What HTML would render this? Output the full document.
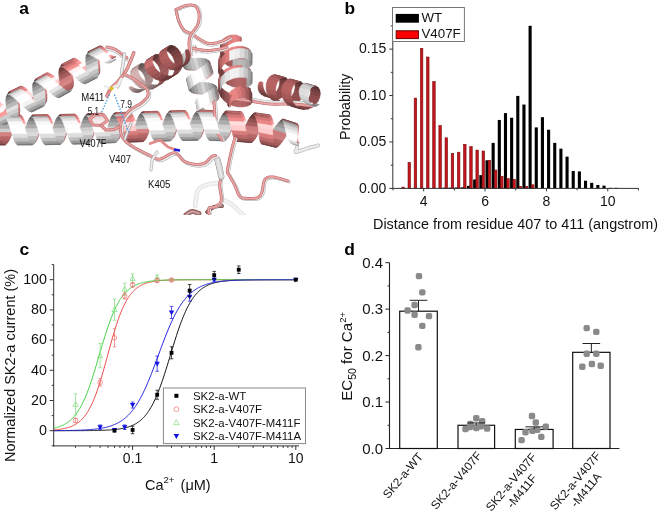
<!DOCTYPE html><html><head><meta charset="utf-8"><style>html,body{margin:0;padding:0;background:#fff;overflow:hidden}.pa polygon{stroke-width:.6px;stroke-linejoin:round}</style></head><body><svg width="660" height="514" viewBox="0 0 660 514" style="font-family:'Liberation Sans',Arial,sans-serif;display:block">
<rect width="660" height="514" fill="#fff"/>
<defs><clipPath id="ca"><rect x="0" y="0" width="330" height="215"/></clipPath></defs>
<g clip-path="url(#ca)" class="pa">
<polygon points="198.2,70.3 202.4,70.3 198.9,59.3 194.7,59.3" fill="#d8b8b8" stroke="#d8b8b8"/>
<polygon points="204.4,94.5 208.6,94.8 206.1,83.6 201.9,83.2" fill="#d9b9b9" stroke="#d9b9b9"/>
<polygon points="200.3,94.1 204.4,94.5 201.9,83.2 197.7,82.9" fill="#c6a7a7" stroke="#c6a7a7"/>
<polygon points="194.0,70.3 198.2,70.3 194.7,59.3 190.5,59.4" fill="#c7a8a8" stroke="#c7a8a8"/>
<polygon points="202.4,70.3 206.3,70.4 202.8,59.4 198.9,59.3" fill="#bd9e9e" stroke="#bd9e9e"/>
<polygon points="208.6,94.8 212.5,95.2 210.0,84.0 206.1,83.6" fill="#bfa0a0" stroke="#bfa0a0"/>
<polygon points="196.6,93.7 200.3,94.1 197.7,82.9 193.9,82.5" fill="#ac8f8f" stroke="#ac8f8f"/>
<polygon points="190.2,70.2 194.0,70.3 190.5,59.4 186.7,59.3" fill="#ad9090" stroke="#ad9090"/>
<polygon points="206.3,70.4 209.5,70.7 206.1,59.7 202.8,59.4" fill="#ab8e8e" stroke="#ab8e8e"/>
<polygon points="212.5,95.2 215.7,95.8 213.2,84.6 210.0,84.0" fill="#ad9090" stroke="#ad9090"/>
<polygon points="193.6,93.2 196.6,93.7 193.9,82.5 190.9,82.0" fill="#967d7d" stroke="#967d7d"/>
<polygon points="187.2,69.9 190.2,70.2 186.7,59.3 183.7,58.9" fill="#987e7e" stroke="#987e7e"/>
<polygon points="209.5,70.7 211.8,71.3 208.4,60.3 206.1,59.7" fill="#957c7c" stroke="#957c7c"/>
<polygon points="215.7,95.8 217.8,96.7 215.4,85.4 213.2,84.6" fill="#977e7e" stroke="#977e7e"/>
<polygon points="191.7,92.4 193.6,93.2 190.9,82.0 189.0,81.2" fill="#7b6666" stroke="#7b6666"/>
<polygon points="185.3,69.2 187.2,69.9 183.7,58.9 181.7,58.3" fill="#7d6868" stroke="#7d6868"/>
<polygon points="205.5,113.6 207.3,114.0 206.6,110.6 204.5,109.3" fill="#ac8f8f" stroke="#ac8f8f"/>
<polygon points="203.5,113.3 205.5,113.6 204.5,109.3 202.4,107.9" fill="#967d7d" stroke="#967d7d"/>
<polygon points="201.7,112.9 203.5,113.3 202.4,107.9 200.4,106.5" fill="#7a6666" stroke="#7a6666"/>
<polygon points="211.8,71.3 212.9,72.3 209.5,61.3 208.4,60.3" fill="#7a6565" stroke="#7a6565"/>
<polygon points="217.8,96.7 218.9,97.8 216.5,86.5 215.4,85.4" fill="#7c6767" stroke="#7c6767"/>
<polygon points="191.0,91.4 191.7,92.4 189.0,81.2 188.2,80.2" fill="#5d4e4e" stroke="#5d4e4e"/>
<polygon points="185.2,67.9 185.3,69.2 181.7,58.3 181.7,57.0" fill="#5f4f4f" stroke="#5f4f4f"/>
<polygon points="200.5,112.3 201.7,112.9 200.4,106.5 199.0,105.0" fill="#5d4e4e" stroke="#5d4e4e"/>
<polygon points="227.3,64.0 232.1,65.9 232.1,56.4 227.3,54.5" fill="#a85e5e" stroke="#a85e5e"/>
<polygon points="232.1,65.9 237.1,66.8 237.1,57.4 232.1,56.4" fill="#b36565" stroke="#b36565"/>
<polygon points="223.2,61.2 227.3,64.0 227.3,54.5 223.2,51.8" fill="#965454" stroke="#965454"/>
<polygon points="237.1,66.8 241.9,66.8 241.9,57.3 237.1,57.4" fill="#b46565" stroke="#b46565"/>
<polygon points="212.9,72.3 212.8,73.7 209.5,62.7 209.5,61.3" fill="#796565" stroke="#796565"/>
<polygon points="218.9,97.8 218.6,99.1 216.3,87.9 216.5,86.5" fill="#786464" stroke="#786464"/>
<polygon points="200.0,111.7 200.5,112.3 199.0,105.0 198.3,103.4" fill="#a08585" stroke="#a08585"/>
<polygon points="196.2,48.3 196.8,49.9 195.5,45.7 195.2,45.0" fill="#a08585" stroke="#a08585"/>
<polygon points="186.3,66.3 185.2,67.9 181.7,57.0 182.7,55.3" fill="#9c8282" stroke="#9c8282"/>
<polygon points="191.5,90.0 191.0,91.4 188.2,80.2 188.6,78.9" fill="#9e8484" stroke="#9e8484"/>
<polygon points="221.1,57.5 223.2,61.2 223.2,51.8 221.1,48.0" fill="#7e4747" stroke="#7e4747"/>
<polygon points="241.9,66.8 245.9,65.9 245.9,56.4 241.9,57.3" fill="#ab6060" stroke="#ab6060"/>
<polygon points="196.8,49.9 196.8,51.8 195.1,46.6 195.5,45.7" fill="#c2a2a2" stroke="#c2a2a2"/>
<polygon points="200.5,110.8 200.0,111.7 198.3,103.4 198.6,101.5" fill="#c2a2a2" stroke="#c2a2a2"/>
<polygon points="188.1,63.9 186.3,66.3 182.7,55.3 184.8,53.9" fill="#bf9f9f" stroke="#bf9f9f"/>
<polygon points="212.8,73.7 211.5,75.4 208.2,64.4 209.5,62.7" fill="#a08585" stroke="#a08585"/>
<polygon points="218.6,99.1 217.2,100.7 214.9,89.5 216.3,87.9" fill="#9d8383" stroke="#9d8383"/>
<polygon points="196.8,51.8 196.0,53.9 194.0,47.7 195.1,46.6" fill="#dfbaba" stroke="#dfbaba"/>
<polygon points="220.7,53.6 221.1,57.5 221.1,48.0 220.7,44.2" fill="#623737" stroke="#623737"/>
<polygon points="193.1,88.4 191.5,90.0 188.6,78.9 190.2,77.3" fill="#c1a1a1" stroke="#c1a1a1"/>
<polygon points="238.5,39.0 237.6,39.2 237.6,35.5 238.5,36.2" fill="#bf6b6b" stroke="#bf6b6b"/>
<polygon points="190.2,61.3 188.1,63.9 184.8,53.9 187.3,52.3" fill="#dbb7b7" stroke="#dbb7b7"/>
<polygon points="196.0,53.9 194.5,56.2 192.2,49.1 194.0,47.7" fill="#fff1f1" stroke="#fff1f1"/>
<polygon points="202.0,109.7 200.5,110.8 198.6,101.5 200.0,99.4" fill="#deb9b9" stroke="#deb9b9"/>
<polygon points="245.9,65.9 248.8,64.3 248.8,54.8 245.9,56.4" fill="#9b5757" stroke="#9b5757"/>
<polygon points="194.5,56.2 192.5,58.7 189.9,50.7 192.2,49.1" fill="#ffffff" stroke="#ffffff"/>
<polygon points="192.5,58.7 190.2,61.3 187.3,52.3 189.9,50.7" fill="#fbd4d4" stroke="#fbd4d4"/>
<polygon points="221.7,49.7 220.7,53.6 220.7,44.2 221.7,41.0" fill="#894d4d" stroke="#894d4d"/>
<polygon points="211.5,75.4 209.2,77.4 206.0,66.4 208.2,64.4" fill="#c2a2a2" stroke="#c2a2a2"/>
<polygon points="217.2,100.7 214.7,102.5 212.4,91.3 214.9,89.5" fill="#c0a0a0" stroke="#c0a0a0"/>
<polygon points="237.6,39.2 235.8,39.5 235.8,35.0 237.6,35.5" fill="#d77979" stroke="#d77979"/>
<polygon points="195.8,86.5 193.1,88.4 190.2,77.3 192.7,75.4" fill="#dcb8b8" stroke="#dcb8b8"/>
<polygon points="204.6,108.5 202.0,109.7 200.0,99.4 202.3,97.2" fill="#ffd7d7" stroke="#ffd7d7"/>
<polygon points="224.0,46.2 221.7,49.7 221.7,41.0 224.0,38.4" fill="#ac6060" stroke="#ac6060"/>
<polygon points="209.2,77.4 206.1,79.7 202.9,68.6 206.0,66.4" fill="#dfbaba" stroke="#dfbaba"/>
<polygon points="214.7,102.5 211.5,104.5 209.2,93.2 212.4,91.3" fill="#ddb8b8" stroke="#ddb8b8"/>
<polygon points="235.8,39.5 233.2,40.2 233.2,34.9 235.8,35.0" fill="#e78383" stroke="#e78383"/>
<polygon points="207.8,106.5 204.6,108.5 202.3,97.2 205.5,95.3" fill="#ffffff" stroke="#ffffff"/>
<polygon points="248.8,64.3 250.3,62.3 250.3,52.8 248.8,54.8" fill="#854a4a" stroke="#854a4a"/>
<polygon points="199.0,84.3 195.8,86.5 192.7,75.4 196.0,73.2" fill="#fdd5d5" stroke="#fdd5d5"/>
<polygon points="211.5,104.5 207.8,106.5 205.5,95.3 209.2,93.2" fill="#ffeeee" stroke="#ffeeee"/>
<polygon points="226.9,43.5 224.0,46.2 224.0,38.4 226.9,36.5" fill="#c87070" stroke="#c87070"/>
<polygon points="233.2,40.2 230.1,41.5 230.1,35.3 233.2,34.9" fill="#e88383" stroke="#e88383"/>
<polygon points="206.1,79.7 202.6,82.0 199.5,70.9 202.9,68.6" fill="#fff0f0" stroke="#fff0f0"/>
<polygon points="202.6,82.0 199.0,84.3 196.0,73.2 199.5,70.9" fill="#ffffff" stroke="#ffffff"/>
<polygon points="230.1,41.5 226.9,43.5 226.9,36.5 230.1,35.3" fill="#dd7c7c" stroke="#dd7c7c"/>
<polygon points="227.7,83.1 232.6,84.9 232.6,75.4 227.7,73.6" fill="#aa5f5f" stroke="#aa5f5f"/>
<polygon points="232.6,84.9 237.6,85.7 237.6,76.2 232.6,75.4" fill="#b46565" stroke="#b46565"/>
<polygon points="223.6,80.4 227.7,83.1 227.7,73.6 223.6,70.9" fill="#985555" stroke="#985555"/>
<polygon points="237.6,85.7 242.3,85.6 242.3,76.1 237.6,76.2" fill="#b46565" stroke="#b46565"/>
<polygon points="250.3,62.3 250.3,60.1 250.3,50.7 250.3,52.8" fill="#724040" stroke="#724040"/>
<polygon points="46.4,90.1 45.9,85.7 34.8,91.5 35.3,95.9" fill="#ce7f7f" stroke="#ce7f7f"/>
<polygon points="19.5,104.3 19.2,99.9 7.8,105.2 8.2,109.6" fill="#d68686" stroke="#d68686"/>
<polygon points="72.6,74.7 72.0,70.4 60.9,76.3 61.6,80.6" fill="#c57676" stroke="#c57676"/>
<polygon points="220.5,77.0 223.6,80.4 223.6,70.9 220.5,67.5" fill="#814848" stroke="#814848"/>
<polygon points="99.3,60.5 98.8,56.2 87.6,61.7 88.1,66.1" fill="#bc6f6f" stroke="#bc6f6f"/>
<polygon points="99.7,64.8 99.3,60.5 88.1,66.1 88.5,70.3" fill="#df8d8d" stroke="#df8d8d"/>
<polygon points="73.1,78.9 72.6,74.7 61.6,80.6 62.1,84.9" fill="#dd8b8b" stroke="#dd8b8b"/>
<polygon points="19.2,99.9 18.8,95.7 7.5,101.0 7.8,105.2" fill="#ac6262" stroke="#ac6262"/>
<polygon points="46.9,94.3 46.4,90.1 35.3,95.9 35.7,100.0" fill="#d88686" stroke="#d88686"/>
<polygon points="45.9,85.7 45.4,81.6 34.3,87.4 34.8,91.5" fill="#a75e5e" stroke="#a75e5e"/>
<polygon points="19.8,108.4 19.5,104.3 8.2,109.6 8.5,113.7" fill="#d17f7f" stroke="#d17f7f"/>
<polygon points="72.0,70.4 71.6,66.4 60.5,72.2 60.9,76.3" fill="#a25b5b" stroke="#a25b5b"/>
<polygon points="98.8,56.2 98.5,52.2 87.3,57.7 87.6,61.7" fill="#9e5858" stroke="#9e5858"/>
<polygon points="242.3,85.6 246.3,84.6 246.3,75.1 242.3,76.1" fill="#aa5f5f" stroke="#aa5f5f"/>
<polygon points="100.0,68.7 99.7,64.8 88.5,70.3 88.8,74.2" fill="#c27171" stroke="#c27171"/>
<polygon points="73.5,82.6 73.1,78.9 62.1,84.9 62.5,88.6" fill="#bd6c6c" stroke="#bd6c6c"/>
<polygon points="18.8,95.7 18.7,91.9 7.4,97.3 7.5,101.0" fill="#935353" stroke="#935353"/>
<polygon points="47.0,98.0 46.9,94.3 35.7,100.0 35.9,103.7" fill="#b96969" stroke="#b96969"/>
<polygon points="45.4,81.6 45.1,78.0 34.1,83.8 34.3,87.4" fill="#8e5050" stroke="#8e5050"/>
<polygon points="218.8,73.1 220.5,77.0 220.5,67.5 218.8,63.7" fill="#653939" stroke="#653939"/>
<polygon points="19.8,111.9 19.8,108.4 8.5,113.7 8.4,117.2" fill="#b56666" stroke="#b56666"/>
<polygon points="71.6,66.4 71.5,62.9 60.4,68.6 60.5,72.2" fill="#894d4d" stroke="#894d4d"/>
<polygon points="98.5,52.2 98.6,48.8 87.4,54.4 87.3,57.7" fill="#844a4a" stroke="#844a4a"/>
<polygon points="250.3,60.1 248.6,58.1 248.6,48.7 250.3,50.7" fill="#804848" stroke="#804848"/>
<polygon points="13.1,129.7 14.5,125.3 -0.0,125.3 -1.4,129.7" fill="#c07373" stroke="#c07373"/>
<polygon points="40.6,129.5 42.0,125.1 27.5,125.3 26.1,129.6" fill="#c07373" stroke="#c07373"/>
<polygon points="68.1,129.0 69.4,124.7 54.9,125.0 53.6,129.4" fill="#c07272" stroke="#c07272"/>
<polygon points="95.6,128.2 96.9,123.7 82.4,124.3 81.1,128.7" fill="#c07272" stroke="#c07272"/>
<polygon points="123.1,127.1 124.3,122.7 109.8,123.3 108.6,127.7" fill="#c07272" stroke="#c07272"/>
<polygon points="150.6,126.2 151.8,121.8 137.3,122.2 136.1,126.6" fill="#c07272" stroke="#c07272"/>
<polygon points="178.1,125.4 179.3,121.0 164.8,121.4 163.6,125.8" fill="#c07272" stroke="#c07272"/>
<polygon points="205.6,125.1 206.9,120.7 192.4,120.7 191.1,125.1" fill="#c07373" stroke="#c07373"/>
<polygon points="233.0,125.9 234.6,121.7 220.1,121.1 218.5,125.4" fill="#c17373" stroke="#c17373"/>
<polygon points="260.4,128.3 262.2,124.1 247.8,122.5 246.0,126.7" fill="#c17373" stroke="#c17373"/>
<polygon points="286.9,134.9 289.5,131.1 275.6,126.9 273.0,130.7" fill="#c37474" stroke="#c37474"/>
<polygon points="99.8,71.8 100.0,68.7 88.8,74.2 88.7,77.4" fill="#af6262" stroke="#af6262"/>
<polygon points="284.4,138.5 286.9,134.9 273.0,130.7 270.5,134.5" fill="#d28282" stroke="#d28282"/>
<polygon points="258.6,132.4 260.4,128.3 246.0,126.7 244.2,130.9" fill="#d68686" stroke="#d68686"/>
<polygon points="231.5,130.2 233.0,125.9 218.5,125.4 217.0,129.6" fill="#d88787" stroke="#d88787"/>
<polygon points="204.2,129.3 205.6,125.1 191.1,125.1 189.7,129.4" fill="#d98888" stroke="#d98888"/>
<polygon points="176.8,129.7 178.1,125.4 163.6,125.8 162.3,130.2" fill="#d98888" stroke="#d98888"/>
<polygon points="149.4,130.5 150.6,126.2 136.1,126.6 134.9,131.0" fill="#d98888" stroke="#d98888"/>
<polygon points="121.9,131.5 123.1,127.1 108.6,127.7 107.4,132.0" fill="#d98888" stroke="#d98888"/>
<polygon points="94.4,132.5 95.6,128.2 81.1,128.7 79.9,133.0" fill="#d98888" stroke="#d98888"/>
<polygon points="66.8,133.4 68.1,129.0 53.6,129.4 52.3,133.7" fill="#d98888" stroke="#d98888"/>
<polygon points="39.3,133.8 40.6,129.5 26.1,129.6 24.8,133.9" fill="#d98888" stroke="#d98888"/>
<polygon points="11.8,133.9 13.1,129.7 -1.4,129.7 -2.7,134.0" fill="#d98888" stroke="#d98888"/>
<polygon points="73.4,85.6 73.5,82.6 62.5,88.6 62.5,91.7" fill="#ac6161" stroke="#ac6161"/>
<polygon points="18.7,91.9 19.0,89.0 7.7,94.3 7.4,97.3" fill="#784343" stroke="#784343"/>
<polygon points="14.5,125.3 15.9,121.3 1.4,121.3 -0.0,125.3" fill="#a25b5b" stroke="#a25b5b"/>
<polygon points="42.0,125.1 43.3,121.1 28.8,121.2 27.5,125.3" fill="#a25b5b" stroke="#a25b5b"/>
<polygon points="69.4,124.7 70.7,120.6 56.2,121.0 54.9,125.0" fill="#a15b5b" stroke="#a15b5b"/>
<polygon points="96.9,123.7 98.1,119.7 83.6,120.2 82.4,124.3" fill="#a15b5b" stroke="#a15b5b"/>
<polygon points="124.3,122.7 125.6,118.7 111.1,119.2 109.8,123.3" fill="#a15b5b" stroke="#a15b5b"/>
<polygon points="151.8,121.8 153.1,117.8 138.6,118.2 137.3,122.2" fill="#a15b5b" stroke="#a15b5b"/>
<polygon points="179.3,121.0 180.6,117.0 166.1,117.4 164.8,121.4" fill="#a15b5b" stroke="#a15b5b"/>
<polygon points="206.9,120.7 208.3,116.8 193.8,116.7 192.4,120.7" fill="#a25b5b" stroke="#a25b5b"/>
<polygon points="234.6,121.7 236.1,117.7 221.6,117.1 220.1,121.1" fill="#a25b5b" stroke="#a25b5b"/>
<polygon points="262.2,124.1 264.1,120.4 249.7,118.7 247.8,122.5" fill="#a35b5b" stroke="#a35b5b"/>
<polygon points="289.5,131.1 292.0,127.8 278.1,123.5 275.6,126.9" fill="#a55c5c" stroke="#a55c5c"/>
<polygon points="246.3,84.6 249.0,83.0 249.0,73.5 246.3,75.1" fill="#995656" stroke="#995656"/>
<polygon points="46.7,100.9 47.0,98.0 35.9,103.7 35.5,106.5" fill="#a95f5f" stroke="#a95f5f"/>
<polygon points="45.1,78.0 45.3,75.1 34.3,81.1 34.1,83.8" fill="#724040" stroke="#724040"/>
<polygon points="-10.3,114.8 -9.5,111.7 -16.9,115.1 -16.7,117.8" fill="#b26767" stroke="#b26767"/>
<polygon points="-9.5,111.7 -8.8,108.3 -17.2,112.2 -16.9,115.1" fill="#985555" stroke="#985555"/>
<polygon points="282.1,141.8 284.4,138.5 270.5,134.5 268.2,137.9" fill="#b76868" stroke="#b76868"/>
<polygon points="256.9,136.0 258.6,132.4 244.2,130.9 242.4,134.6" fill="#ba6a6a" stroke="#ba6a6a"/>
<polygon points="230.0,133.9 231.5,130.2 217.0,129.6 215.5,133.4" fill="#bb6b6b" stroke="#bb6b6b"/>
<polygon points="202.9,133.1 204.2,129.3 189.7,129.4 188.4,133.2" fill="#bc6c6c" stroke="#bc6c6c"/>
<polygon points="175.6,133.6 176.8,129.7 162.3,130.2 161.1,134.0" fill="#bc6c6c" stroke="#bc6c6c"/>
<polygon points="148.1,134.3 149.4,130.5 134.9,131.0 133.6,134.8" fill="#bc6c6c" stroke="#bc6c6c"/>
<polygon points="120.7,135.3 121.9,131.5 107.4,132.0 106.2,135.8" fill="#bc6c6c" stroke="#bc6c6c"/>
<polygon points="93.2,136.3 94.4,132.5 79.9,133.0 78.7,136.8" fill="#bc6c6c" stroke="#bc6c6c"/>
<polygon points="65.5,137.2 66.8,133.4 52.3,133.7 51.0,137.5" fill="#bc6c6c" stroke="#bc6c6c"/>
<polygon points="37.9,137.6 39.3,133.8 24.8,133.9 23.4,137.7" fill="#bc6b6b" stroke="#bc6b6b"/>
<polygon points="10.4,137.7 11.8,133.9 -2.7,134.0 -4.1,137.8" fill="#bb6b6b" stroke="#bb6b6b"/>
<polygon points="218.6,69.1 218.8,73.1 218.8,63.7 218.6,59.6" fill="#583131" stroke="#583131"/>
<polygon points="19.3,114.5 19.8,111.9 8.4,117.2 8.0,119.8" fill="#a55d5d" stroke="#a55d5d"/>
<polygon points="71.5,62.9 71.9,60.3 60.8,66.0 60.4,68.6" fill="#6d3d3d" stroke="#6d3d3d"/>
<polygon points="-11.3,117.5 -10.3,114.8 -16.7,117.8 -16.7,120.0" fill="#dc8b8b" stroke="#dc8b8b"/>
<polygon points="-8.8,108.3 -8.0,105.1 -17.4,109.5 -17.2,112.2" fill="#7e4646" stroke="#7e4646"/>
<polygon points="98.6,48.8 99.1,46.4 87.9,52.0 87.4,54.4" fill="#673a3a" stroke="#673a3a"/>
<polygon points="99.3,74.0 99.8,71.8 88.7,77.4 88.1,79.6" fill="#9d5858" stroke="#9d5858"/>
<polygon points="15.9,121.3 17.2,118.0 2.7,118.1 1.4,121.3" fill="#8a4d4d" stroke="#8a4d4d"/>
<polygon points="43.3,121.1 44.7,117.9 30.2,118.0 28.8,121.2" fill="#8a4d4d" stroke="#8a4d4d"/>
<polygon points="70.7,120.6 72.0,117.3 57.5,117.7 56.2,121.0" fill="#8a4d4d" stroke="#8a4d4d"/>
<polygon points="98.1,119.7 99.3,116.4 84.9,116.9 83.6,120.2" fill="#8a4d4d" stroke="#8a4d4d"/>
<polygon points="125.6,118.7 126.8,115.4 112.3,115.9 111.1,119.2" fill="#8a4d4d" stroke="#8a4d4d"/>
<polygon points="153.1,117.8 154.4,114.5 139.9,114.9 138.6,118.2" fill="#8a4d4d" stroke="#8a4d4d"/>
<polygon points="180.6,117.0 181.9,113.7 167.4,114.1 166.1,117.4" fill="#8a4d4d" stroke="#8a4d4d"/>
<polygon points="208.3,116.8 209.7,113.5 195.2,113.4 193.8,116.7" fill="#8a4d4d" stroke="#8a4d4d"/>
<polygon points="236.1,117.7 237.7,114.6 223.2,113.9 221.6,117.1" fill="#8b4e4e" stroke="#8b4e4e"/>
<polygon points="264.1,120.4 265.9,117.4 251.5,115.6 249.7,118.7" fill="#8c4e4e" stroke="#8c4e4e"/>
<polygon points="292.0,127.8 294.3,125.1 280.5,120.8 278.1,123.5" fill="#8f5050" stroke="#8f5050"/>
<polygon points="-12.7,119.6 -11.3,117.5 -16.7,120.0 -17.0,121.6" fill="#ca7878" stroke="#ca7878"/>
<polygon points="248.6,58.1 245.6,56.6 245.6,47.2 248.6,48.7" fill="#a45c5c" stroke="#a45c5c"/>
<polygon points="72.8,87.6 73.4,85.6 62.5,91.7 61.9,93.7" fill="#985555" stroke="#985555"/>
<polygon points="19.0,89.0 19.7,87.0 8.5,92.4 7.7,94.3" fill="#5a3232" stroke="#5a3232"/>
<polygon points="280.1,144.2 282.1,141.8 268.2,137.9 266.1,140.4" fill="#a65d5d" stroke="#a65d5d"/>
<polygon points="255.3,138.7 256.9,136.0 242.4,134.6 240.8,137.4" fill="#a95f5f" stroke="#a95f5f"/>
<polygon points="228.5,136.8 230.0,133.9 215.5,133.4 214.0,136.3" fill="#aa5f5f" stroke="#aa5f5f"/>
<polygon points="201.5,136.1 202.9,133.1 188.4,133.2 187.0,136.2" fill="#ab6060" stroke="#ab6060"/>
<polygon points="174.3,136.5 175.6,133.6 161.1,134.0 159.8,137.0" fill="#ab6060" stroke="#ab6060"/>
<polygon points="146.8,137.3 148.1,134.3 133.6,134.8 132.3,137.8" fill="#ab6060" stroke="#ab6060"/>
<polygon points="119.4,138.3 120.7,135.3 106.2,135.8 104.9,138.8" fill="#ab6060" stroke="#ab6060"/>
<polygon points="91.9,139.3 93.2,136.3 78.7,136.8 77.4,139.8" fill="#ab6060" stroke="#ab6060"/>
<polygon points="64.2,140.2 65.5,137.2 51.0,137.5 49.7,140.4" fill="#ab6060" stroke="#ab6060"/>
<polygon points="36.6,140.6 37.9,137.6 23.4,137.7 22.1,140.7" fill="#ab6060" stroke="#ab6060"/>
<polygon points="9.0,140.7 10.4,137.7 -4.1,137.8 -5.5,140.7" fill="#ab6060" stroke="#ab6060"/>
<polygon points="-8.0,105.1 -7.0,102.4 -17.4,107.2 -17.4,109.5" fill="#603636" stroke="#603636"/>
<polygon points="45.9,102.7 46.7,100.9 35.5,106.5 34.7,108.3" fill="#945353" stroke="#945353"/>
<polygon points="220.1,65.2 218.6,69.1 218.6,59.6 220.1,55.7" fill="#a95e5e" stroke="#a95e5e"/>
<polygon points="45.3,75.1 46.0,73.4 35.0,79.4 34.3,81.1" fill="#583131" stroke="#583131"/>
<polygon points="-14.3,121.0 -12.7,119.6 -17.0,121.6 -17.7,122.5" fill="#b36464" stroke="#b36464"/>
<polygon points="249.0,83.0 250.4,81.1 250.4,71.5 249.0,73.5" fill="#824949" stroke="#824949"/>
<polygon points="18.4,116.1 19.3,114.5 8.0,119.8 7.0,121.4" fill="#8f5050" stroke="#8f5050"/>
<polygon points="71.9,60.3 72.8,58.7 61.7,64.4 60.8,66.0" fill="#583131" stroke="#583131"/>
<polygon points="196.1,69.2 200.3,69.1 196.8,58.2 192.6,58.2" fill="#d5d5d5" stroke="#d5d5d5"/>
<polygon points="202.5,93.3 206.7,93.6 204.2,82.4 199.9,82.1" fill="#d6d6d6" stroke="#d6d6d6"/>
<polygon points="198.3,93.0 202.5,93.3 199.9,82.1 195.7,81.8" fill="#c1c1c1" stroke="#c1c1c1"/>
<polygon points="191.9,69.2 196.1,69.2 192.6,58.2 188.4,58.2" fill="#c2c2c2" stroke="#c2c2c2"/>
<polygon points="99.1,46.4 100.5,45.8 89.3,51.4 87.9,52.0" fill="#583131" stroke="#583131"/>
<polygon points="17.2,118.0 18.6,115.9 4.1,115.9 2.7,118.1" fill="#6e3e3e" stroke="#6e3e3e"/>
<polygon points="44.7,117.9 46.0,115.7 31.5,115.8 30.2,118.0" fill="#6e3e3e" stroke="#6e3e3e"/>
<polygon points="72.0,117.3 73.3,115.1 58.8,115.5 57.5,117.7" fill="#6e3e3e" stroke="#6e3e3e"/>
<polygon points="99.3,116.4 100.6,114.2 86.1,114.7 84.9,116.9" fill="#6e3d3d" stroke="#6e3d3d"/>
<polygon points="126.8,115.4 128.1,113.1 113.6,113.7 112.3,115.9" fill="#6e3d3d" stroke="#6e3d3d"/>
<polygon points="154.4,114.5 155.7,112.3 141.2,112.7 139.9,114.9" fill="#6e3d3d" stroke="#6e3d3d"/>
<polygon points="181.9,113.7 183.2,111.5 168.7,111.9 167.4,114.1" fill="#6e3d3d" stroke="#6e3d3d"/>
<polygon points="209.7,113.5 211.2,111.4 196.7,111.3 195.2,113.4" fill="#6e3e3e" stroke="#6e3e3e"/>
<polygon points="237.7,114.6 239.2,112.5 224.7,111.8 223.2,113.9" fill="#6f3e3e" stroke="#6f3e3e"/>
<polygon points="265.9,117.4 267.6,115.4 253.2,113.5 251.5,115.6" fill="#713f3f" stroke="#713f3f"/>
<polygon points="294.3,125.1 296.3,123.5 282.5,119.1 280.5,120.8" fill="#744141" stroke="#744141"/>
<polygon points="200.3,69.1 204.3,69.2 200.8,58.2 196.8,58.2" fill="#bbbbbb" stroke="#bbbbbb"/>
<polygon points="206.7,93.6 210.6,94.0 208.1,82.8 204.2,82.4" fill="#bdbdbd" stroke="#bdbdbd"/>
<polygon points="245.6,56.6 241.5,55.8 241.5,46.3 245.6,47.2" fill="#c26d6d" stroke="#c26d6d"/>
<polygon points="98.1,75.1 99.3,74.0 88.1,79.6 86.9,80.7" fill="#834a4a" stroke="#834a4a"/>
<polygon points="228.2,102.3 233.1,104.0 233.1,94.4 228.2,92.7" fill="#ac6060" stroke="#ac6060"/>
<polygon points="194.7,92.6 198.3,93.0 195.7,81.8 192.0,81.4" fill="#a8a8a8" stroke="#a8a8a8"/>
<polygon points="188.2,69.1 191.9,69.2 188.4,58.2 184.7,58.1" fill="#aaaaaa" stroke="#aaaaaa"/>
<polygon points="-7.0,102.4 -5.6,100.5 -17.0,105.7 -17.4,107.2" fill="#583131" stroke="#583131"/>
<polygon points="222.9,61.7 220.1,65.2 220.1,55.7 222.9,52.2" fill="#c66f6f" stroke="#c66f6f"/>
<polygon points="233.1,104.0 238.1,104.7 238.1,95.2 233.1,94.4" fill="#b56666" stroke="#b56666"/>
<polygon points="71.6,88.5 72.8,87.6 61.9,93.7 60.7,94.6" fill="#7e4747" stroke="#7e4747"/>
<polygon points="278.4,145.6 280.1,144.2 266.1,140.4 264.4,141.9" fill="#925252" stroke="#925252"/>
<polygon points="253.8,140.4 255.3,138.7 240.8,137.4 239.4,139.1" fill="#965454" stroke="#965454"/>
<polygon points="227.1,138.5 228.5,136.8 214.0,136.3 212.6,138.0" fill="#975454" stroke="#975454"/>
<polygon points="200.2,137.9 201.5,136.1 187.0,136.2 185.7,138.0" fill="#975555" stroke="#975555"/>
<polygon points="173.0,138.4 174.3,136.5 159.8,137.0 158.5,138.8" fill="#985555" stroke="#985555"/>
<polygon points="145.5,139.2 146.8,137.3 132.3,137.8 131.0,139.6" fill="#985555" stroke="#985555"/>
<polygon points="118.1,140.1 119.4,138.3 104.9,138.8 103.6,140.7" fill="#985555" stroke="#985555"/>
<polygon points="90.6,141.1 91.9,139.3 77.4,139.8 76.1,141.6" fill="#985555" stroke="#985555"/>
<polygon points="62.9,142.0 64.2,140.2 49.7,140.4 48.4,142.2" fill="#975555" stroke="#975555"/>
<polygon points="35.2,142.4 36.6,140.6 22.1,140.7 20.7,142.4" fill="#975555" stroke="#975555"/>
<polygon points="7.6,142.5 9.0,140.7 -5.5,140.7 -6.9,142.5" fill="#975555" stroke="#975555"/>
<polygon points="19.7,87.0 21.0,86.2 9.7,91.6 8.5,92.4" fill="#583131" stroke="#583131"/>
<polygon points="223.9,99.7 228.2,102.3 228.2,92.7 223.9,90.1" fill="#9b5757" stroke="#9b5757"/>
<polygon points="44.5,103.4 45.9,102.7 34.7,108.3 33.3,108.9" fill="#724040" stroke="#724040"/>
<polygon points="46.0,73.4 47.3,72.7 36.3,78.8 35.0,79.4" fill="#9e5959" stroke="#9e5959"/>
<polygon points="204.3,69.2 207.5,69.5 204.1,58.5 200.8,58.2" fill="#a9a9a9" stroke="#a9a9a9"/>
<polygon points="210.6,94.0 213.8,94.6 211.3,83.4 208.1,82.8" fill="#ababab" stroke="#ababab"/>
<polygon points="238.1,104.7 242.7,104.6 242.7,95.0 238.1,95.2" fill="#b36565" stroke="#b36565"/>
<polygon points="16.9,116.5 18.4,116.1 7.0,121.4 5.5,121.8" fill="#724040" stroke="#724040"/>
<polygon points="241.5,55.8 236.7,55.9 236.7,46.4 241.5,46.3" fill="#d97a7a" stroke="#d97a7a"/>
<polygon points="72.8,58.7 74.4,58.3 63.2,64.0 61.7,64.4" fill="#a55d5d" stroke="#a55d5d"/>
<polygon points="226.9,58.9 222.9,61.7 222.9,52.2 226.9,49.4" fill="#db7b7b" stroke="#db7b7b"/>
<polygon points="250.4,81.1 250.2,79.0 250.2,69.4 250.4,71.5" fill="#724040" stroke="#724040"/>
<polygon points="191.8,92.0 194.7,92.6 192.0,81.4 189.0,80.9" fill="#939393" stroke="#939393"/>
<polygon points="185.3,68.7 188.2,69.1 184.7,58.1 181.7,57.8" fill="#949494" stroke="#949494"/>
<polygon points="220.7,96.4 223.9,99.7 223.9,90.1 220.7,86.8" fill="#844a4a" stroke="#844a4a"/>
<polygon points="100.5,45.8 102.4,46.4 91.2,51.9 89.3,51.4" fill="#ac6060" stroke="#ac6060"/>
<polygon points="18.6,115.9 20.0,114.9 5.5,115.0 4.1,115.9" fill="#583131" stroke="#583131"/>
<polygon points="46.0,115.7 47.4,114.7 32.9,114.9 31.5,115.8" fill="#583131" stroke="#583131"/>
<polygon points="73.3,115.1 74.6,114.2 60.1,114.5 58.8,115.5" fill="#583131" stroke="#583131"/>
<polygon points="100.6,114.2 102.0,113.2 87.5,113.7 86.1,114.7" fill="#583131" stroke="#583131"/>
<polygon points="128.1,113.1 129.4,112.2 115.0,112.7 113.6,113.7" fill="#583131" stroke="#583131"/>
<polygon points="155.7,112.3 157.1,111.3 142.6,111.7 141.2,112.7" fill="#583131" stroke="#583131"/>
<polygon points="183.2,111.5 184.6,110.6 170.1,110.9 168.7,111.9" fill="#583131" stroke="#583131"/>
<polygon points="211.2,111.4 212.6,110.5 198.1,110.3 196.7,111.3" fill="#583131" stroke="#583131"/>
<polygon points="239.2,112.5 240.6,111.7 226.1,110.9 224.7,111.8" fill="#583131" stroke="#583131"/>
<polygon points="267.6,115.4 269.2,114.8 254.8,112.8 253.2,113.5" fill="#583131" stroke="#583131"/>
<polygon points="296.3,123.5 297.7,124.0 283.9,119.5 282.5,119.1" fill="#583131" stroke="#583131"/>
<polygon points="236.7,55.9 231.7,56.9 231.7,47.4 236.7,46.4" fill="#e88484" stroke="#e88484"/>
<polygon points="231.7,56.9 226.9,58.9 226.9,49.4 231.7,47.4" fill="#e88383" stroke="#e88383"/>
<polygon points="115.3,57.0 116.1,56.6 112.8,58.2 110.9,59.2" fill="#804848" stroke="#804848"/>
<polygon points="-15.3,125.2 -13.3,123.6 -19.0,123.6 -19.7,125.2" fill="#6e3e3e" stroke="#6e3e3e"/>
<polygon points="-5.6,100.5 -4.3,99.8 -15.6,105.1 -17.0,105.7" fill="#b46565" stroke="#b46565"/>
<polygon points="96.4,75.0 98.1,75.1 86.9,80.7 85.2,80.6" fill="#724040" stroke="#724040"/>
<polygon points="69.8,88.3 71.6,88.5 60.7,94.6 58.9,94.4" fill="#724040" stroke="#724040"/>
<polygon points="21.0,86.2 22.9,86.6 11.6,92.0 9.7,91.6" fill="#ba6868" stroke="#ba6868"/>
<polygon points="277.1,145.6 278.4,145.6 264.4,141.9 263.1,142.1" fill="#784343" stroke="#784343"/>
<polygon points="252.5,140.7 253.8,140.4 239.4,139.1 238.0,139.5" fill="#7c4545" stroke="#7c4545"/>
<polygon points="225.8,138.9 227.1,138.5 212.6,138.0 211.3,138.5" fill="#7d4646" stroke="#7d4646"/>
<polygon points="198.9,138.3 200.2,137.9 185.7,138.0 184.4,138.5" fill="#7e4646" stroke="#7e4646"/>
<polygon points="171.6,138.9 173.0,138.4 158.5,138.8 157.1,139.3" fill="#7e4747" stroke="#7e4747"/>
<polygon points="144.2,139.7 145.5,139.2 131.0,139.6 129.7,140.2" fill="#7e4747" stroke="#7e4747"/>
<polygon points="116.7,140.6 118.1,140.1 103.6,140.7 102.3,141.2" fill="#7e4747" stroke="#7e4747"/>
<polygon points="89.2,141.7 90.6,141.1 76.1,141.6 74.7,142.1" fill="#7e4747" stroke="#7e4747"/>
<polygon points="61.5,142.5 62.9,142.0 48.4,142.2 47.0,142.7" fill="#7e4646" stroke="#7e4646"/>
<polygon points="33.8,142.8 35.2,142.4 20.7,142.4 19.3,142.9" fill="#7e4646" stroke="#7e4646"/>
<polygon points="6.3,142.9 7.6,142.5 -6.9,142.5 -8.2,143.0" fill="#7e4646" stroke="#7e4646"/>
<polygon points="242.7,104.6 246.6,103.6 246.6,94.0 242.7,95.0" fill="#a95f5f" stroke="#a95f5f"/>
<polygon points="207.5,69.5 209.8,70.1 206.4,59.1 204.1,58.5" fill="#949494" stroke="#949494"/>
<polygon points="213.8,94.6 216.0,95.4 213.6,84.2 211.3,83.4" fill="#969696" stroke="#969696"/>
<polygon points="-13.3,123.6 -11.3,122.3 -18.2,122.3 -19.0,123.6" fill="#583131" stroke="#583131"/>
<polygon points="114.1,56.8 115.3,57.0 110.9,59.2 108.8,59.5" fill="#a65d5d" stroke="#a65d5d"/>
<polygon points="42.5,102.9 44.5,103.4 33.3,108.9 31.3,108.4" fill="#724040" stroke="#724040"/>
<polygon points="218.9,92.6 220.7,96.4 220.7,86.8 218.9,83.1" fill="#683a3a" stroke="#683a3a"/>
<polygon points="47.3,72.7 49.2,73.2 38.3,79.3 36.3,78.8" fill="#c16c6c" stroke="#c16c6c"/>
<polygon points="102.4,46.4 104.3,48.0 94.1,53.1 91.2,51.9" fill="#cc7272" stroke="#cc7272"/>
<polygon points="189.9,91.3 191.8,92.0 189.0,80.9 187.1,80.1" fill="#787878" stroke="#787878"/>
<polygon points="14.8,115.7 16.9,116.5 5.5,121.8 3.5,121.0" fill="#774343" stroke="#774343"/>
<polygon points="184.1,67.8 185.3,68.7 181.7,57.8 180.5,56.9" fill="#7a7a7a" stroke="#7a7a7a"/>
<polygon points="74.4,58.3 76.5,59.1 65.3,64.7 63.2,64.0" fill="#c66f6f" stroke="#c66f6f"/>
<polygon points="203.2,113.0 205.3,113.4 204.4,109.0 202.1,107.7" fill="#a8a8a8" stroke="#a8a8a8"/>
<polygon points="205.3,113.4 207.2,113.7 206.4,110.4 204.4,109.0" fill="#c1c1c1" stroke="#c1c1c1"/>
<polygon points="201.1,112.7 203.2,113.0 202.1,107.7 199.8,106.3" fill="#929292" stroke="#929292"/>
<polygon points="-11.3,122.3 -9.3,121.6 -17.5,121.6 -18.2,122.3" fill="#a15a5a" stroke="#a15a5a"/>
<polygon points="112.6,55.9 114.1,56.8 108.8,59.5 106.2,59.1" fill="#c87070" stroke="#c87070"/>
<polygon points="250.2,79.0 248.4,77.1 248.4,67.5 250.2,69.4" fill="#844a4a" stroke="#844a4a"/>
<polygon points="297.7,124.0 298.6,125.7 284.8,121.2 283.9,119.5" fill="#985555" stroke="#985555"/>
<polygon points="-4.3,99.8 -2.3,100.4 -13.7,105.7 -15.6,105.1" fill="#d27676" stroke="#d27676"/>
<polygon points="94.1,73.9 96.4,75.0 85.2,80.6 82.9,79.5" fill="#884c4c" stroke="#884c4c"/>
<polygon points="20.0,114.9 21.3,115.4 6.8,115.4 5.5,115.0" fill="#a15a5a" stroke="#a15a5a"/>
<polygon points="47.4,114.7 48.7,115.2 34.2,115.3 32.9,114.9" fill="#a15a5a" stroke="#a15a5a"/>
<polygon points="74.6,114.2 76.0,114.6 61.5,115.0 60.1,114.5" fill="#a25b5b" stroke="#a25b5b"/>
<polygon points="102.0,113.2 103.4,113.6 88.9,114.2 87.5,113.7" fill="#a25b5b" stroke="#a25b5b"/>
<polygon points="129.4,112.2 130.8,112.6 116.3,113.1 115.0,112.7" fill="#a25b5b" stroke="#a25b5b"/>
<polygon points="157.1,111.3 158.5,111.8 144.0,112.2 142.6,111.7" fill="#a25b5b" stroke="#a25b5b"/>
<polygon points="184.6,110.6 186.0,111.0 171.5,111.4 170.1,110.9" fill="#a25b5b" stroke="#a25b5b"/>
<polygon points="212.6,110.5 214.0,111.0 199.5,110.8 198.1,110.3" fill="#a15a5a" stroke="#a15a5a"/>
<polygon points="240.6,111.7 242.0,112.2 227.5,111.5 226.1,110.9" fill="#a05a5a" stroke="#a05a5a"/>
<polygon points="269.2,114.8 270.6,115.5 256.2,113.4 254.8,112.8" fill="#9e5858" stroke="#9e5858"/>
<polygon points="104.3,48.0 106.5,50.1 97.2,54.7 94.1,53.1" fill="#e38080" stroke="#e38080"/>
<polygon points="199.2,112.3 201.1,112.7 199.8,106.3 197.7,105.0" fill="#777777" stroke="#777777"/>
<polygon points="67.4,87.0 69.8,88.3 58.9,94.4 56.5,93.2" fill="#8f5050" stroke="#8f5050"/>
<polygon points="22.9,86.6 25.2,88.0 13.9,93.4 11.6,92.0" fill="#d67878" stroke="#d67878"/>
<polygon points="246.6,103.6 249.3,102.0 249.3,92.4 246.6,94.0" fill="#985555" stroke="#985555"/>
<polygon points="209.8,70.1 211.0,71.1 207.6,60.1 206.4,59.1" fill="#797979" stroke="#797979"/>
<polygon points="218.6,88.6 218.9,92.6 218.9,83.1 218.6,79.1" fill="#583131" stroke="#583131"/>
<polygon points="216.0,95.4 217.1,96.5 214.7,85.3 213.6,84.2" fill="#7b7b7b" stroke="#7b7b7b"/>
<polygon points="110.7,54.4 112.6,55.9 106.2,59.1 103.4,58.0" fill="#ff9d9d" stroke="#ff9d9d"/>
<polygon points="298.5,142.8 299.3,143.0 295.1,141.8 293.2,141.1" fill="#955353" stroke="#955353"/>
<polygon points="40.1,101.4 42.5,102.9 31.3,108.4 28.8,106.8" fill="#975454" stroke="#975454"/>
<polygon points="49.2,73.2 51.7,74.6 40.8,80.7 38.3,79.3" fill="#db7b7b" stroke="#db7b7b"/>
<polygon points="276.1,144.4 277.1,145.6 263.1,142.1 262.1,140.9" fill="#724040" stroke="#724040"/>
<polygon points="251.2,139.7 252.5,140.7 238.0,139.5 236.8,138.5" fill="#724040" stroke="#724040"/>
<polygon points="224.4,138.0 225.8,138.9 211.3,138.5 209.9,137.5" fill="#724040" stroke="#724040"/>
<polygon points="197.5,137.4 198.9,138.3 184.4,138.5 183.0,137.6" fill="#724040" stroke="#724040"/>
<polygon points="170.2,138.0 171.6,138.9 157.1,139.3 155.7,138.4" fill="#724040" stroke="#724040"/>
<polygon points="142.8,138.8 144.2,139.7 129.7,140.2 128.3,139.3" fill="#724040" stroke="#724040"/>
<polygon points="115.3,139.8 116.7,140.6 102.3,141.2 100.8,140.3" fill="#724040" stroke="#724040"/>
<polygon points="87.8,140.8 89.2,141.7 74.7,142.1 73.3,141.3" fill="#724040" stroke="#724040"/>
<polygon points="60.1,141.6 61.5,142.5 47.0,142.7 45.6,141.8" fill="#724040" stroke="#724040"/>
<polygon points="32.4,141.9 33.8,142.8 19.3,142.9 17.9,142.0" fill="#724040" stroke="#724040"/>
<polygon points="4.9,142.0 6.3,142.9 -8.2,143.0 -9.6,142.1" fill="#724040" stroke="#724040"/>
<polygon points="106.5,50.1 108.6,52.3 100.3,56.4 97.2,54.7" fill="#ffacac" stroke="#ffacac"/>
<polygon points="108.6,52.3 110.7,54.4 103.4,58.0 100.3,56.4" fill="#ffffff" stroke="#ffffff"/>
<polygon points="12.3,113.9 14.8,115.7 3.5,121.0 1.0,119.2" fill="#9e5858" stroke="#9e5858"/>
<polygon points="-9.3,121.6 -7.3,121.8 -16.7,121.8 -17.5,121.6" fill="#c26d6d" stroke="#c26d6d"/>
<polygon points="76.5,59.1 79.0,60.8 67.9,66.4 65.3,64.7" fill="#df7d7d" stroke="#df7d7d"/>
<polygon points="189.2,90.2 189.9,91.3 187.1,80.1 186.4,79.1" fill="#5c5c5c" stroke="#5c5c5c"/>
<polygon points="184.2,66.5 184.1,67.8 180.5,56.9 180.6,55.6" fill="#5c5c5c" stroke="#5c5c5c"/>
<polygon points="198.0,111.8 199.2,112.3 197.7,105.0 196.3,103.5" fill="#5c5c5c" stroke="#5c5c5c"/>
<polygon points="283.7,96.8 286.5,93.5 277.0,90.8 274.1,94.1" fill="#904c4c" stroke="#904c4c"/>
<polygon points="263.0,82.5 262.9,83.7 259.2,82.6 260.1,81.6" fill="#b96262" stroke="#b96262"/>
<polygon points="279.9,98.5 283.7,96.8 274.1,94.1 270.4,95.8" fill="#8c4a4a" stroke="#8c4a4a"/>
<polygon points="91.4,71.8 94.1,73.9 82.9,79.5 80.2,77.4" fill="#ad6161" stroke="#ad6161"/>
<polygon points="298.0,141.7 298.5,142.8 293.2,141.1 291.5,139.6" fill="#b76767" stroke="#b76767"/>
<polygon points="-2.3,100.4 0.4,102.6 -11.0,107.8 -13.7,105.7" fill="#e88383" stroke="#e88383"/>
<polygon points="298.6,125.7 298.6,128.2 286.0,124.0 284.8,121.2" fill="#ba6868" stroke="#ba6868"/>
<polygon points="286.5,93.5 288.4,89.8 278.9,87.1 277.0,90.8" fill="#8e4b4b" stroke="#8e4b4b"/>
<polygon points="64.5,85.0 67.4,87.0 56.5,93.2 53.6,91.1" fill="#b46565" stroke="#b46565"/>
<polygon points="248.4,77.1 245.3,75.7 245.3,66.1 248.4,67.5" fill="#a75e5e" stroke="#a75e5e"/>
<polygon points="25.2,88.0 28.0,90.3 16.7,95.7 13.9,93.4" fill="#ee8888" stroke="#ee8888"/>
<polygon points="37.2,99.0 40.1,101.4 28.8,106.8 26.0,104.5" fill="#ba6868" stroke="#ba6868"/>
<polygon points="276.1,99.0 279.9,98.5 270.4,95.8 266.5,96.3" fill="#814444" stroke="#814444"/>
<polygon points="219.8,84.7 218.6,88.6 218.6,79.1 219.8,75.2" fill="#a65d5d" stroke="#a65d5d"/>
<polygon points="51.7,74.6 54.7,76.8 43.8,83.0 40.8,80.7" fill="#f79090" stroke="#f79090"/>
<polygon points="21.3,115.4 22.7,117.2 8.2,117.2 6.8,115.4" fill="#c26d6d" stroke="#c26d6d"/>
<polygon points="48.7,115.2 50.1,117.0 35.6,117.1 34.2,115.3" fill="#c26d6d" stroke="#c26d6d"/>
<polygon points="76.0,114.6 77.4,116.3 62.9,116.7 61.5,115.0" fill="#c36d6d" stroke="#c36d6d"/>
<polygon points="103.4,113.6 104.8,115.4 90.3,115.9 88.9,114.2" fill="#c36d6d" stroke="#c36d6d"/>
<polygon points="130.8,112.6 132.3,114.3 117.8,114.9 116.3,113.1" fill="#c36d6d" stroke="#c36d6d"/>
<polygon points="158.5,111.8 159.9,113.5 145.4,113.9 144.0,112.2" fill="#c36d6d" stroke="#c36d6d"/>
<polygon points="186.0,111.0 187.4,112.7 172.9,113.1 171.5,111.4" fill="#c36d6d" stroke="#c36d6d"/>
<polygon points="214.0,111.0 215.4,112.8 200.9,112.6 199.5,110.8" fill="#c26d6d" stroke="#c26d6d"/>
<polygon points="242.0,112.2 243.3,114.1 228.8,113.3 227.5,111.5" fill="#c16c6c" stroke="#c16c6c"/>
<polygon points="270.6,115.5 271.8,117.6 257.4,115.3 256.2,113.4" fill="#be6b6b" stroke="#be6b6b"/>
<polygon points="232.2,67.7 237.3,68.8 237.3,59.4 232.2,58.2" fill="#b7b7b7" stroke="#b7b7b7"/>
<polygon points="227.6,65.5 232.2,67.7 232.2,58.2 227.6,56.1" fill="#a45c5c" stroke="#a45c5c"/>
<polygon points="9.5,111.4 12.3,113.9 1.0,119.2 -1.9,116.7" fill="#c06c6c" stroke="#c06c6c"/>
<polygon points="-7.3,121.8 -5.3,123.0 -16.0,123.0 -16.7,121.8" fill="#db7b7b" stroke="#db7b7b"/>
<polygon points="79.0,60.8 82.0,63.2 70.8,68.9 67.9,66.4" fill="#ff9b9b" stroke="#ff9b9b"/>
<polygon points="262.9,83.7 262.9,85.6 258.4,84.3 259.2,82.6" fill="#b76161" stroke="#b76161"/>
<polygon points="288.4,89.8 289.3,86.0 279.7,83.3 278.9,87.1" fill="#854646" stroke="#854646"/>
<polygon points="211.0,71.1 211.0,72.4 207.6,61.4 207.6,60.1" fill="#767676" stroke="#767676"/>
<polygon points="217.1,96.5 216.9,97.9 214.5,86.6 214.7,85.3" fill="#767676" stroke="#767676"/>
<polygon points="297.8,139.9 298.0,141.7 291.5,139.6 290.1,137.4" fill="#d57878" stroke="#d57878"/>
<polygon points="249.3,102.0 250.4,100.0 250.4,90.4 249.3,92.4" fill="#804747" stroke="#804747"/>
<polygon points="272.1,98.1 276.1,99.0 266.5,96.3 263.4,95.6" fill="#713c3c" stroke="#713c3c"/>
<polygon points="237.3,68.8 242.1,69.1 242.1,59.6 237.3,59.4" fill="#bbbbbb" stroke="#bbbbbb"/>
<polygon points="88.4,69.1 91.4,71.8 80.2,77.4 77.2,74.7" fill="#ce7474" stroke="#ce7474"/>
<polygon points="0.4,102.6 3.3,105.4 -8.0,110.6 -11.0,107.8" fill="#ffc6c6" stroke="#ffc6c6"/>
<polygon points="275.4,141.9 276.1,144.4 262.1,140.9 261.3,138.6" fill="#935252" stroke="#935252"/>
<polygon points="250.1,137.4 251.2,139.7 236.8,138.5 235.6,136.3" fill="#8f5050" stroke="#8f5050"/>
<polygon points="223.1,135.7 224.4,138.0 209.9,137.5 208.6,135.3" fill="#8e5050" stroke="#8e5050"/>
<polygon points="196.1,135.3 197.5,137.4 183.0,137.6 181.6,135.5" fill="#8d4f4f" stroke="#8d4f4f"/>
<polygon points="168.8,135.9 170.2,138.0 155.7,138.4 154.3,136.3" fill="#8d4f4f" stroke="#8d4f4f"/>
<polygon points="141.3,136.7 142.8,138.8 128.3,139.3 126.8,137.2" fill="#8d4f4f" stroke="#8d4f4f"/>
<polygon points="113.9,137.7 115.3,139.8 100.8,140.3 99.4,138.2" fill="#8d4f4f" stroke="#8d4f4f"/>
<polygon points="86.3,138.7 87.8,140.8 73.3,141.3 71.8,139.1" fill="#8d4f4f" stroke="#8d4f4f"/>
<polygon points="58.7,139.4 60.1,141.6 45.6,141.8 44.2,139.7" fill="#8d4f4f" stroke="#8d4f4f"/>
<polygon points="31.0,139.8 32.4,141.9 17.9,142.0 16.6,139.8" fill="#8e4f4f" stroke="#8e4f4f"/>
<polygon points="3.5,139.9 4.9,142.0 -9.6,142.1 -11.0,139.9" fill="#8e4f4f" stroke="#8e4f4f"/>
<polygon points="197.6,111.1 198.0,111.8 196.3,103.5 195.7,101.8" fill="#9f9f9f" stroke="#9f9f9f"/>
<polygon points="61.3,82.4 64.5,85.0 53.6,91.1 50.4,88.5" fill="#d57979" stroke="#d57979"/>
<polygon points="28.0,90.3 31.0,93.1 19.7,98.5 16.7,95.7" fill="#ffdede" stroke="#ffdede"/>
<polygon points="298.6,128.2 298.4,131.2 287.0,127.4 286.0,124.0" fill="#d47777" stroke="#d47777"/>
<polygon points="223.8,62.5 227.6,65.5 227.6,56.1 223.8,53.1" fill="#905151" stroke="#905151"/>
<polygon points="185.1,64.4 184.2,66.5 180.6,55.6 181.8,54.4" fill="#9b9b9b" stroke="#9b9b9b"/>
<polygon points="34.1,96.1 37.2,99.0 26.0,104.5 22.9,101.6" fill="#de8080" stroke="#de8080"/>
<polygon points="54.7,76.8 57.9,79.5 47.0,85.7 43.8,83.0" fill="#fff3f3" stroke="#fff3f3"/>
<polygon points="262.9,85.6 263.3,88.0 258.0,86.5 258.4,84.3" fill="#ac5b5b" stroke="#ac5b5b"/>
<polygon points="6.4,108.4 9.5,111.4 -1.9,116.7 -4.9,113.7" fill="#ea8a8a" stroke="#ea8a8a"/>
<polygon points="82.0,63.2 85.2,66.1 74.0,71.8 70.8,68.9" fill="#ffffff" stroke="#ffffff"/>
<polygon points="189.8,88.9 189.2,90.2 186.4,79.1 186.9,77.8" fill="#9d9d9d" stroke="#9d9d9d"/>
<polygon points="268.8,96.2 272.1,98.1 263.4,95.6 260.9,94.0" fill="#623434" stroke="#623434"/>
<polygon points="85.2,66.1 88.4,69.1 77.2,74.7 74.0,71.8" fill="#ffb2b2" stroke="#ffb2b2"/>
<polygon points="3.3,105.4 6.4,108.4 -4.9,113.7 -8.0,110.6" fill="#fff7f7" stroke="#fff7f7"/>
<polygon points="57.9,79.5 61.3,82.4 50.4,88.5 47.0,85.7" fill="#ffcaca" stroke="#ffcaca"/>
<polygon points="31.0,93.1 34.1,96.1 22.9,101.6 19.7,98.5" fill="#ffe3e3" stroke="#ffe3e3"/>
<polygon points="297.9,137.4 297.8,139.9 290.1,137.4 288.9,134.4" fill="#ffb8b8" stroke="#ffb8b8"/>
<polygon points="194.2,48.5 194.3,50.3 193.0,46.0 193.1,45.2" fill="#bebebe" stroke="#bebebe"/>
<polygon points="263.3,88.0 264.4,90.8 258.2,89.1 258.0,86.5" fill="#995151" stroke="#995151"/>
<polygon points="266.2,93.7 268.8,96.2 260.9,94.0 259.1,91.7" fill="#663636" stroke="#663636"/>
<polygon points="298.4,131.2 298.1,134.4 288.0,131.0 287.0,127.4" fill="#f08b8b" stroke="#f08b8b"/>
<polygon points="222.6,81.2 219.8,84.7 219.8,75.2 222.6,71.6" fill="#c46e6e" stroke="#c46e6e"/>
<polygon points="289.3,86.0 289.1,82.5 279.6,79.8 279.7,83.3" fill="#763e3e" stroke="#763e3e"/>
<polygon points="-5.3,123.0 -3.3,125.3 -15.2,125.3 -16.0,123.0" fill="#fc9595" stroke="#fc9595"/>
<polygon points="245.3,75.7 241.0,75.0 241.0,65.4 245.3,66.1" fill="#c56e6e" stroke="#c56e6e"/>
<polygon points="298.1,134.4 297.9,137.4 288.9,134.4 288.0,131.0" fill="#ffdcdc" stroke="#ffdcdc"/>
<polygon points="264.4,90.8 266.2,93.7 259.1,91.7 258.2,89.1" fill="#814444" stroke="#814444"/>
<polygon points="242.1,69.1 246.4,68.4 246.4,58.9 242.1,59.6" fill="#b4b4b4" stroke="#b4b4b4"/>
<polygon points="22.7,117.2 24.1,120.1 9.6,120.2 8.2,117.2" fill="#db7b7b" stroke="#db7b7b"/>
<polygon points="50.1,117.0 51.5,119.9 37.0,120.0 35.6,117.1" fill="#db7b7b" stroke="#db7b7b"/>
<polygon points="77.4,116.3 78.9,119.2 64.4,119.6 62.9,116.7" fill="#dc7b7b" stroke="#dc7b7b"/>
<polygon points="104.8,115.4 106.3,118.3 91.8,118.8 90.3,115.9" fill="#dc7b7b" stroke="#dc7b7b"/>
<polygon points="132.3,114.3 133.8,117.2 119.3,117.8 117.8,114.9" fill="#dc7b7b" stroke="#dc7b7b"/>
<polygon points="159.9,113.5 161.3,116.4 146.8,116.8 145.4,113.9" fill="#dc7b7b" stroke="#dc7b7b"/>
<polygon points="187.4,112.7 188.9,115.7 174.4,116.0 172.9,113.1" fill="#db7b7b" stroke="#db7b7b"/>
<polygon points="215.4,112.8 216.7,115.8 202.2,115.5 200.9,112.6" fill="#db7b7b" stroke="#db7b7b"/>
<polygon points="243.3,114.1 244.5,117.1 230.1,116.3 228.8,113.3" fill="#da7a7a" stroke="#da7a7a"/>
<polygon points="271.8,117.6 272.8,120.8 258.5,118.4 257.4,115.3" fill="#d87979" stroke="#d87979"/>
<polygon points="221.2,58.9 223.8,62.5 223.8,53.1 221.2,49.5" fill="#774343" stroke="#774343"/>
<polygon points="2.1,136.1 3.5,139.9 -11.0,139.9 -12.4,136.1" fill="#b16363" stroke="#b16363"/>
<polygon points="186.7,62.0 185.1,64.4 181.8,54.4 183.8,53.0" fill="#bdbdbd" stroke="#bdbdbd"/>
<polygon points="198.3,110.2 197.6,111.1 195.7,101.8 196.2,99.9" fill="#c1c1c1" stroke="#c1c1c1"/>
<polygon points="194.3,50.3 193.8,52.3 192.1,47.1 193.0,46.0" fill="#dadada" stroke="#dadada"/>
<polygon points="211.0,72.4 209.8,74.2 206.4,63.1 207.6,61.4" fill="#9b9b9b" stroke="#9b9b9b"/>
<polygon points="216.9,97.9 215.6,99.5 213.2,88.2 214.5,86.6" fill="#999999" stroke="#999999"/>
<polygon points="274.9,138.4 275.4,141.9 261.3,138.6 260.8,135.2" fill="#b56666" stroke="#b56666"/>
<polygon points="249.0,134.0 250.1,137.4 235.6,136.3 234.5,133.0" fill="#b26464" stroke="#b26464"/>
<polygon points="221.9,132.4 223.1,135.7 208.6,135.3 207.4,132.1" fill="#b26464" stroke="#b26464"/>
<polygon points="194.7,132.0 196.1,135.3 181.6,135.5 180.2,132.3" fill="#b16363" stroke="#b16363"/>
<polygon points="167.3,132.7 168.8,135.9 154.3,136.3 152.8,133.1" fill="#b16363" stroke="#b16363"/>
<polygon points="139.8,133.5 141.3,136.7 126.8,137.2 125.4,134.0" fill="#b16363" stroke="#b16363"/>
<polygon points="112.4,134.5 113.9,137.7 99.4,138.2 97.9,135.0" fill="#b16363" stroke="#b16363"/>
<polygon points="84.8,135.5 86.3,138.7 71.8,139.1 70.4,135.9" fill="#b16363" stroke="#b16363"/>
<polygon points="57.2,136.2 58.7,139.4 44.2,139.7 42.7,136.4" fill="#b16363" stroke="#b16363"/>
<polygon points="29.7,136.5 31.0,139.8 16.6,139.8 15.2,136.6" fill="#b16363" stroke="#b16363"/>
<polygon points="-3.3,125.3 -1.3,128.4 -14.5,128.4 -15.2,125.3" fill="#fff1f1" stroke="#fff1f1"/>
<polygon points="226.5,78.3 222.6,81.2 222.6,71.6 226.5,68.8" fill="#da7a7a" stroke="#da7a7a"/>
<polygon points="241.2,41.2 241.1,41.2 241.1,37.5 241.2,38.3" fill="#975555" stroke="#975555"/>
<polygon points="241.0,75.0 236.2,75.1 236.2,65.6 241.0,65.4" fill="#db7b7b" stroke="#db7b7b"/>
<polygon points="289.1,82.5 288.0,79.7 278.5,77.0 279.6,79.8" fill="#633434" stroke="#633434"/>
<polygon points="250.4,100.0 250.1,97.9 250.1,88.3 250.4,90.4" fill="#724040" stroke="#724040"/>
<polygon points="0.8,132.1 2.1,136.1 -12.4,136.1 -13.7,132.1" fill="#d07676" stroke="#d07676"/>
<polygon points="191.5,87.2 189.8,88.9 186.9,77.8 188.5,76.1" fill="#bfbfbf" stroke="#bfbfbf"/>
<polygon points="193.8,52.3 192.5,54.5 190.5,48.4 192.1,47.1" fill="#ffffff" stroke="#ffffff"/>
<polygon points="-1.3,128.4 0.8,132.1 -13.7,132.1 -14.5,128.4" fill="#ffb3b3" stroke="#ffb3b3"/>
<polygon points="188.7,59.5 186.7,62.0 183.8,53.0 186.1,51.4" fill="#d9d9d9" stroke="#d9d9d9"/>
<polygon points="231.2,76.3 226.5,78.3 226.5,68.8 231.2,66.7" fill="#e88383" stroke="#e88383"/>
<polygon points="24.1,120.1 25.5,123.9 11.0,124.0 9.6,120.2" fill="#fc9595" stroke="#fc9595"/>
<polygon points="51.5,119.9 52.9,123.7 38.4,123.8 37.0,120.0" fill="#fc9595" stroke="#fc9595"/>
<polygon points="78.9,119.2 80.3,123.0 65.9,123.4 64.4,119.6" fill="#fd9696" stroke="#fd9696"/>
<polygon points="106.3,118.3 107.8,122.0 93.3,122.5 91.8,118.8" fill="#fd9696" stroke="#fd9696"/>
<polygon points="133.8,117.2 135.3,121.0 120.8,121.5 119.3,117.8" fill="#fd9696" stroke="#fd9696"/>
<polygon points="161.3,116.4 162.8,120.2 148.3,120.6 146.8,116.8" fill="#fd9696" stroke="#fd9696"/>
<polygon points="188.9,115.7 190.3,119.4 175.8,119.8 174.4,116.0" fill="#fd9696" stroke="#fd9696"/>
<polygon points="216.7,115.8 218.0,119.7 203.5,119.4 202.2,115.5" fill="#fb9595" stroke="#fb9595"/>
<polygon points="244.5,117.1 245.7,121.0 231.2,120.1 230.1,116.3" fill="#fa9393" stroke="#fa9393"/>
<polygon points="272.8,120.8 273.5,124.9 259.3,122.3 258.5,118.4" fill="#f59090" stroke="#f59090"/>
<polygon points="236.2,75.1 231.2,76.3 231.2,66.7 236.2,65.6" fill="#ea8585" stroke="#ea8585"/>
<polygon points="246.4,68.4 249.7,67.0 249.7,57.5 246.4,58.9" fill="#a6a6a6" stroke="#a6a6a6"/>
<polygon points="221.0,54.9 221.2,58.9 221.2,49.5 221.0,45.5" fill="#5b3333" stroke="#5b3333"/>
<polygon points="192.5,54.5 190.8,56.9 188.5,49.8 190.5,48.4" fill="#ffffff" stroke="#ffffff"/>
<polygon points="190.8,56.9 188.7,59.5 186.1,51.4 188.5,49.8" fill="#fafafa" stroke="#fafafa"/>
<polygon points="274.5,134.1 274.9,138.4 260.8,135.2 260.3,131.1" fill="#d37777" stroke="#d37777"/>
<polygon points="247.9,129.9 249.0,134.0 234.5,133.0 233.4,128.9" fill="#d17676" stroke="#d17676"/>
<polygon points="220.6,128.4 221.9,132.4 207.4,132.1 206.1,128.0" fill="#d17676" stroke="#d17676"/>
<polygon points="193.3,128.0 194.7,132.0 180.2,132.3 178.8,128.3" fill="#d07575" stroke="#d07575"/>
<polygon points="165.8,128.7 167.3,132.7 152.8,133.1 151.3,129.1" fill="#d07575" stroke="#d07575"/>
<polygon points="138.3,129.5 139.8,133.5 125.4,134.0 123.8,130.0" fill="#d07575" stroke="#d07575"/>
<polygon points="110.9,130.5 112.4,134.5 97.9,135.0 96.4,131.1" fill="#d07575" stroke="#d07575"/>
<polygon points="83.4,131.5 84.8,135.5 70.4,135.9 68.9,132.0" fill="#d07575" stroke="#d07575"/>
<polygon points="55.8,132.3 57.2,136.2 42.7,136.4 41.3,132.4" fill="#d07575" stroke="#d07575"/>
<polygon points="28.3,132.5 29.7,136.5 15.2,136.6 13.8,132.6" fill="#d07575" stroke="#d07575"/>
<polygon points="200.1,109.1 198.3,110.2 196.2,99.9 197.8,97.8" fill="#dbdbdb" stroke="#dbdbdb"/>
<polygon points="241.1,41.2 240.1,41.1 240.1,36.7 241.1,37.5" fill="#b86767" stroke="#b86767"/>
<polygon points="25.5,123.9 26.9,128.2 12.4,128.2 11.0,124.0" fill="#fff1f1" stroke="#fff1f1"/>
<polygon points="52.9,123.7 54.4,127.9 39.9,128.1 38.4,123.8" fill="#fff1f1" stroke="#fff1f1"/>
<polygon points="80.3,123.0 81.8,127.2 67.4,127.6 65.9,123.4" fill="#fff2f2" stroke="#fff2f2"/>
<polygon points="107.8,122.0 109.3,126.2 94.8,126.8 93.3,122.5" fill="#fff3f3" stroke="#fff3f3"/>
<polygon points="135.3,121.0 136.8,125.2 122.3,125.7 120.8,121.5" fill="#fff3f3" stroke="#fff3f3"/>
<polygon points="162.8,120.2 164.3,124.4 149.8,124.8 148.3,120.6" fill="#fff2f2" stroke="#fff2f2"/>
<polygon points="190.3,119.4 191.8,123.7 177.3,124.0 175.8,119.8" fill="#fff2f2" stroke="#fff2f2"/>
<polygon points="218.0,119.7 219.3,124.0 204.8,123.7 203.5,119.4" fill="#ffefef" stroke="#ffefef"/>
<polygon points="245.7,121.0 246.8,125.4 232.3,124.5 231.2,120.1" fill="#ffeded" stroke="#ffeded"/>
<polygon points="273.5,124.9 274.1,129.5 259.9,126.7 259.3,122.3" fill="#ffe5e5" stroke="#ffe5e5"/>
<polygon points="209.8,74.2 207.5,76.2 204.2,65.2 206.4,63.1" fill="#bebebe" stroke="#bebebe"/>
<polygon points="215.6,99.5 213.1,101.3 210.8,90.0 213.2,88.2" fill="#bbbbbb" stroke="#bbbbbb"/>
<polygon points="274.1,129.5 274.5,134.1 260.3,131.1 259.9,126.7" fill="#ffb6b6" stroke="#ffb6b6"/>
<polygon points="246.8,125.4 247.9,129.9 233.4,128.9 232.3,124.5" fill="#ffb4b4" stroke="#ffb4b4"/>
<polygon points="219.3,124.0 220.6,128.4 206.1,128.0 204.8,123.7" fill="#ffb3b3" stroke="#ffb3b3"/>
<polygon points="191.8,123.7 193.3,128.0 178.8,128.3 177.3,124.0" fill="#ffb2b2" stroke="#ffb2b2"/>
<polygon points="164.3,124.4 165.8,128.7 151.3,129.1 149.8,124.8" fill="#ffb2b2" stroke="#ffb2b2"/>
<polygon points="136.8,125.2 138.3,129.5 123.8,130.0 122.3,125.7" fill="#ffb2b2" stroke="#ffb2b2"/>
<polygon points="109.3,126.2 110.9,130.5 96.4,131.1 94.8,126.8" fill="#ffb2b2" stroke="#ffb2b2"/>
<polygon points="81.8,127.2 83.4,131.5 68.9,132.0 67.4,127.6" fill="#ffb2b2" stroke="#ffb2b2"/>
<polygon points="54.4,127.9 55.8,132.3 41.3,132.4 39.9,128.1" fill="#ffb2b2" stroke="#ffb2b2"/>
<polygon points="26.9,128.2 28.3,132.5 13.8,132.6 12.4,128.2" fill="#ffb3b3" stroke="#ffb3b3"/>
<polygon points="194.1,85.3 191.5,87.2 188.5,76.1 191.0,74.2" fill="#dadada" stroke="#dadada"/>
<polygon points="288.0,79.7 286.2,77.9 276.7,75.2 278.5,77.0" fill="#4e2929" stroke="#4e2929"/>
<path d="M195.0,206.0 L195.1,205.5 L195.2,204.8 L195.3,204.0 L195.4,203.1 L195.5,202.1 L195.6,201.1 L195.8,200.0 L195.9,198.8 L196.1,197.7 L196.3,196.6 L196.5,195.5 L196.7,194.4 L196.9,193.4 L197.1,192.5 L197.4,191.7 L197.7,191.0 L198.0,190.4 L198.3,189.8 L198.7,189.3 L199.1,188.9 L199.5,188.5 L199.9,188.1 L200.3,187.8 L200.7,187.4 L201.2,187.2 L201.6,186.9 L202.1,186.6 L202.6,186.4 L203.1,186.2 L203.6,186.0 L204.1,185.7 L204.6,185.5 L205.1,185.3 L205.7,185.1 L206.3,184.9 L206.9,184.7 L207.5,184.5 L208.1,184.3 L208.7,184.2 L209.4,184.1 L210.0,183.9 L210.6,183.8 L211.3,183.7 L211.9,183.7 L212.4,183.6 L213.0,183.5 L213.5,183.5 L214.0,183.4 L214.5,183.4 L214.9,183.3 L215.4,183.4 L215.8,183.4 L216.2,183.4 L216.6,183.5 L217.0,183.5 L217.4,183.6 L217.7,183.6 L218.1,183.7 L218.4,183.8 L218.7,183.8 L219.0,183.9 L219.2,183.9 L219.4,184.0 L219.6,184.0" fill="none" stroke="#d7d7d7" stroke-width="4.3" stroke-linecap="round" stroke-linejoin="round" opacity="1.0"/>
<path d="M195.0,206.0 L195.1,205.5 L195.2,204.8 L195.3,204.0 L195.4,203.1 L195.5,202.1 L195.6,201.1 L195.8,200.0 L195.9,198.8 L196.1,197.7 L196.3,196.6 L196.5,195.5 L196.7,194.4 L196.9,193.4 L197.1,192.5 L197.4,191.7 L197.7,191.0 L198.0,190.4 L198.3,189.8 L198.7,189.3 L199.1,188.9 L199.5,188.5 L199.9,188.1 L200.3,187.8 L200.7,187.4 L201.2,187.2 L201.6,186.9 L202.1,186.6 L202.6,186.4 L203.1,186.2 L203.6,186.0 L204.1,185.7 L204.6,185.5 L205.1,185.3 L205.7,185.1 L206.3,184.9 L206.9,184.7 L207.5,184.5 L208.1,184.3 L208.7,184.2 L209.4,184.1 L210.0,183.9 L210.6,183.8 L211.3,183.7 L211.9,183.7 L212.4,183.6 L213.0,183.5 L213.5,183.5 L214.0,183.4 L214.5,183.4 L214.9,183.3 L215.4,183.4 L215.8,183.4 L216.2,183.4 L216.6,183.5 L217.0,183.5 L217.4,183.6 L217.7,183.6 L218.1,183.7 L218.4,183.8 L218.7,183.8 L219.0,183.9 L219.2,183.9 L219.4,184.0 L219.6,184.0" fill="none" stroke="#eeeeee" stroke-width="3.5" stroke-linecap="round" stroke-linejoin="round" opacity="1.0"/>
<path d="M195.0,206.0 L195.1,205.5 L195.2,204.8 L195.3,204.0 L195.4,203.1 L195.5,202.1 L195.6,201.1 L195.8,200.0 L195.9,198.8 L196.1,197.7 L196.3,196.6 L196.5,195.5 L196.7,194.4 L196.9,193.4 L197.1,192.5 L197.4,191.7 L197.7,191.0 L198.0,190.4 L198.3,189.8 L198.7,189.3 L199.1,188.9 L199.5,188.5 L199.9,188.1 L200.3,187.8 L200.7,187.4 L201.2,187.2 L201.6,186.9 L202.1,186.6 L202.6,186.4 L203.1,186.2 L203.6,186.0 L204.1,185.7 L204.6,185.5 L205.1,185.3 L205.7,185.1 L206.3,184.9 L206.9,184.7 L207.5,184.5 L208.1,184.3 L208.7,184.2 L209.4,184.1 L210.0,183.9 L210.6,183.8 L211.3,183.7 L211.9,183.7 L212.4,183.6 L213.0,183.5 L213.5,183.5 L214.0,183.4 L214.5,183.4 L214.9,183.3 L215.4,183.4 L215.8,183.4 L216.2,183.4 L216.6,183.5 L217.0,183.5 L217.4,183.6 L217.7,183.6 L218.1,183.7 L218.4,183.8 L218.7,183.8 L219.0,183.9 L219.2,183.9 L219.4,184.0 L219.6,184.0" fill="none" stroke="#f5f5f5" stroke-width="1.2" stroke-linecap="round" stroke-linejoin="round" opacity="1.0"/>
<path d="M222.0,199.0 L222.4,199.2 L222.8,199.4 L223.3,199.7 L223.8,200.0 L224.5,200.3 L225.1,200.6 L225.8,201.0 L226.5,201.3 L227.2,201.7 L228.0,202.1 L228.7,202.5 L229.4,202.9 L230.1,203.4 L230.8,203.8 L231.4,204.2 L232.0,204.6 L232.6,205.0 L233.1,205.5 L233.7,205.9 L234.2,206.4 L234.7,206.9 L235.2,207.3 L235.7,207.8 L236.2,208.3 L236.7,208.8 L237.2,209.3 L237.7,209.8 L238.2,210.3 L238.7,210.7 L239.1,211.2 L239.6,211.6 L240.0,212.0 L240.4,212.4 L240.9,212.8 L241.3,213.2 L241.8,213.5 L242.2,213.9 L242.7,214.3 L243.1,214.6 L243.5,215.0 L243.9,215.3 L244.3,215.6 L244.6,215.9 L245.0,216.2 L245.3,216.4 L245.6,216.6 L245.8,216.8 L246.0,217.0" fill="none" stroke="#d7d7d7" stroke-width="4.3" stroke-linecap="round" stroke-linejoin="round" opacity="1.0"/>
<path d="M222.0,199.0 L222.4,199.2 L222.8,199.4 L223.3,199.7 L223.8,200.0 L224.5,200.3 L225.1,200.6 L225.8,201.0 L226.5,201.3 L227.2,201.7 L228.0,202.1 L228.7,202.5 L229.4,202.9 L230.1,203.4 L230.8,203.8 L231.4,204.2 L232.0,204.6 L232.6,205.0 L233.1,205.5 L233.7,205.9 L234.2,206.4 L234.7,206.9 L235.2,207.3 L235.7,207.8 L236.2,208.3 L236.7,208.8 L237.2,209.3 L237.7,209.8 L238.2,210.3 L238.7,210.7 L239.1,211.2 L239.6,211.6 L240.0,212.0 L240.4,212.4 L240.9,212.8 L241.3,213.2 L241.8,213.5 L242.2,213.9 L242.7,214.3 L243.1,214.6 L243.5,215.0 L243.9,215.3 L244.3,215.6 L244.6,215.9 L245.0,216.2 L245.3,216.4 L245.6,216.6 L245.8,216.8 L246.0,217.0" fill="none" stroke="#eeeeee" stroke-width="3.5" stroke-linecap="round" stroke-linejoin="round" opacity="1.0"/>
<path d="M222.0,199.0 L222.4,199.2 L222.8,199.4 L223.3,199.7 L223.8,200.0 L224.5,200.3 L225.1,200.6 L225.8,201.0 L226.5,201.3 L227.2,201.7 L228.0,202.1 L228.7,202.5 L229.4,202.9 L230.1,203.4 L230.8,203.8 L231.4,204.2 L232.0,204.6 L232.6,205.0 L233.1,205.5 L233.7,205.9 L234.2,206.4 L234.7,206.9 L235.2,207.3 L235.7,207.8 L236.2,208.3 L236.7,208.8 L237.2,209.3 L237.7,209.8 L238.2,210.3 L238.7,210.7 L239.1,211.2 L239.6,211.6 L240.0,212.0 L240.4,212.4 L240.9,212.8 L241.3,213.2 L241.8,213.5 L242.2,213.9 L242.7,214.3 L243.1,214.6 L243.5,215.0 L243.9,215.3 L244.3,215.6 L244.6,215.9 L245.0,216.2 L245.3,216.4 L245.6,216.6 L245.8,216.8 L246.0,217.0" fill="none" stroke="#f5f5f5" stroke-width="1.2" stroke-linecap="round" stroke-linejoin="round" opacity="1.0"/>
<polygon points="222.5,51.2 221.0,54.9 221.0,45.5 222.5,41.8" fill="#935252" stroke="#935252"/>
<polygon points="202.8,107.2 200.1,109.1 197.8,97.8 200.5,96.0" fill="#fefefe" stroke="#fefefe"/>
<polygon points="250.1,97.9 247.3,96.4 247.3,86.8 250.1,88.3" fill="#884c4c" stroke="#884c4c"/>
<polygon points="240.1,41.1 238.2,41.3 238.2,36.0 240.1,36.7" fill="#d17575" stroke="#d17575"/>
<polygon points="207.5,76.2 204.5,78.4 201.2,67.4 204.2,65.2" fill="#dadada" stroke="#dadada"/>
<polygon points="213.1,101.3 209.9,103.2 207.6,92.0 210.8,90.0" fill="#d8d8d8" stroke="#d8d8d8"/>
<polygon points="249.7,67.0 251.6,65.0 251.6,55.6 249.7,57.5" fill="#909090" stroke="#909090"/>
<polygon points="197.4,83.1 194.1,85.3 191.0,74.2 194.3,72.0" fill="#fbfbfb" stroke="#fbfbfb"/>
<polygon points="153.1,76.7 152.4,72.2 144.9,76.9 145.6,81.4" fill="#a38888" stroke="#a38888"/>
<polygon points="152.5,80.9 153.1,76.7 145.6,81.4 145.1,85.6" fill="#a88c8c" stroke="#a88c8c"/>
<polygon points="227.9,105.6 229.1,107.3 229.1,104.4 227.9,101.9" fill="#583131" stroke="#583131"/>
<polygon points="206.3,105.2 202.8,107.2 200.5,96.0 204.0,94.0" fill="#ffffff" stroke="#ffffff"/>
<polygon points="152.4,72.2 150.3,68.4 142.8,73.1 144.9,76.9" fill="#977e7e" stroke="#977e7e"/>
<polygon points="204.5,78.4 201.0,80.7 197.8,69.7 201.2,67.4" fill="#ffffff" stroke="#ffffff"/>
<polygon points="209.9,103.2 206.3,105.2 204.0,94.0 207.6,92.0" fill="#ffffff" stroke="#ffffff"/>
<polygon points="225.1,47.7 222.5,51.2 222.5,41.8 225.1,39.1" fill="#b46565" stroke="#b46565"/>
<polygon points="238.2,41.3 235.4,41.8 235.4,35.7 238.2,36.0" fill="#e48181" stroke="#e48181"/>
<polygon points="201.0,80.7 197.4,83.1 194.3,72.0 197.8,69.7" fill="#ffffff" stroke="#ffffff"/>
<polygon points="286.2,77.9 283.8,77.3 274.3,74.6 276.7,75.2" fill="#7a4141" stroke="#7a4141"/>
<polygon points="150.6,84.6 152.5,80.9 145.1,85.6 143.7,88.9" fill="#a58a8a" stroke="#a58a8a"/>
<polygon points="227.4,103.6 227.9,105.6 227.9,101.9 227.4,99.1" fill="#a25b5b" stroke="#a25b5b"/>
<polygon points="228.4,45.0 225.1,47.7 225.1,39.1 228.4,37.2" fill="#cf7474" stroke="#cf7474"/>
<polygon points="235.4,41.8 232.0,43.0 232.0,36.0 235.4,35.7" fill="#ea8484" stroke="#ea8484"/>
<polygon points="247.3,96.4 243.6,95.7 243.6,86.1 247.3,86.8" fill="#ab6060" stroke="#ab6060"/>
<polygon points="147.9,87.3 150.6,84.6 143.7,88.9 141.6,91.2" fill="#9c8282" stroke="#9c8282"/>
<polygon points="150.3,68.4 147.6,65.5 140.1,70.2 142.8,73.1" fill="#866f6f" stroke="#866f6f"/>
<polygon points="227.8,101.4 227.4,103.6 227.4,99.1 227.8,96.0" fill="#c16c6c" stroke="#c16c6c"/>
<polygon points="232.0,43.0 228.4,45.0 228.4,37.2 232.0,36.0" fill="#e07e7e" stroke="#e07e7e"/>
<polygon points="232.7,86.7 237.8,87.8 237.8,78.2 232.7,77.2" fill="#b26464" stroke="#b26464"/>
<polygon points="228.0,84.6 232.7,86.7 232.7,77.2 228.0,75.1" fill="#a65d5d" stroke="#a65d5d"/>
<polygon points="144.6,88.9 147.9,87.3 141.6,91.2 139.0,92.4" fill="#8b7474" stroke="#8b7474"/>
<polygon points="251.6,65.0 251.9,62.9 251.9,53.5 251.6,55.6" fill="#757575" stroke="#757575"/>
<polygon points="131.1,86.2 132.7,87.3 129.8,89.2 128.8,87.6" fill="#c5a4a4" stroke="#c5a4a4"/>
<polygon points="229.3,99.3 227.8,101.4 227.8,96.0 229.3,93.0" fill="#d87979" stroke="#d87979"/>
<polygon points="237.8,87.8 242.6,87.9 242.6,78.4 237.8,78.2" fill="#b56666" stroke="#b56666"/>
<polygon points="283.8,77.3 281.3,78.0 271.8,75.3 274.3,74.6" fill="#934e4e" stroke="#934e4e"/>
<polygon points="243.6,95.7 239.4,95.5 239.4,86.7 243.6,86.1" fill="#c87070" stroke="#c87070"/>
<polygon points="224.1,81.7 228.0,84.6 228.0,75.1 224.1,72.3" fill="#935252" stroke="#935252"/>
<polygon points="141.2,89.6 144.6,88.9 139.0,92.4 136.3,92.6" fill="#786464" stroke="#786464"/>
<polygon points="132.7,87.3 135.0,88.5 131.4,90.7 129.8,89.2" fill="#af9292" stroke="#af9292"/>
<polygon points="71.1,78.7 70.5,74.4 59.5,80.3 60.2,84.6" fill="#cf7f7f" stroke="#cf7f7f"/>
<polygon points="97.8,64.4 97.3,60.1 86.1,65.7 86.6,70.0" fill="#cccccc" stroke="#cccccc"/>
<polygon points="45.0,94.1 44.4,89.7 33.3,95.5 33.8,99.8" fill="#dddddd" stroke="#dddddd"/>
<polygon points="231.9,97.4 229.3,99.3 229.3,93.0 231.9,90.3" fill="#e78282" stroke="#e78282"/>
<polygon points="18.0,108.2 17.7,103.8 6.3,109.2 6.7,113.5" fill="#e3e3e3" stroke="#e3e3e3"/>
<polygon points="147.6,65.5 144.7,63.8 137.2,68.5 140.1,70.2" fill="#705d5d" stroke="#705d5d"/>
<polygon points="17.7,103.8 17.3,99.6 6.0,104.9 6.3,109.2" fill="#b9b9b9" stroke="#b9b9b9"/>
<polygon points="44.4,89.7 43.9,85.5 32.8,91.3 33.3,95.5" fill="#b3b3b3" stroke="#b3b3b3"/>
<polygon points="98.2,68.7 97.8,64.4 86.6,70.0 87.0,74.2" fill="#e3e3e3" stroke="#e3e3e3"/>
<polygon points="137.9,89.3 141.2,89.6 136.3,92.6 133.6,92.0" fill="#786464" stroke="#786464"/>
<polygon points="135.0,88.5 137.9,89.3 133.6,92.0 131.4,90.7" fill="#937b7b" stroke="#937b7b"/>
<polygon points="239.4,95.5 235.4,96.1 235.4,88.1 239.4,86.7" fill="#de7d7d" stroke="#de7d7d"/>
<polygon points="70.5,74.4 70.1,70.2 59.0,76.1 59.5,80.3" fill="#a75e5e" stroke="#a75e5e"/>
<polygon points="71.7,82.8 71.1,78.7 60.2,84.6 60.7,88.8" fill="#d78686" stroke="#d78686"/>
<polygon points="235.4,96.1 231.9,97.4 231.9,90.3 235.4,88.1" fill="#eb8686" stroke="#eb8686"/>
<polygon points="97.3,60.1 97.0,56.0 85.8,61.6 86.1,65.7" fill="#a8a8a8" stroke="#a8a8a8"/>
<polygon points="45.3,98.2 45.0,94.1 33.8,99.8 34.2,103.9" fill="#d7d7d7" stroke="#d7d7d7"/>
<polygon points="18.2,112.2 18.0,108.2 6.7,113.5 6.9,117.5" fill="#cfcfcf" stroke="#cfcfcf"/>
<polygon points="17.3,99.6 17.2,95.7 5.8,101.0 6.0,104.9" fill="#9e9e9e" stroke="#9e9e9e"/>
<polygon points="221.4,78.2 224.1,81.7 224.1,72.3 221.4,68.7" fill="#7a4444" stroke="#7a4444"/>
<polygon points="242.6,87.9 246.8,87.2 246.8,77.6 242.6,78.4" fill="#ae6161" stroke="#ae6161"/>
<polygon points="43.9,85.5 43.6,81.7 32.6,87.6 32.8,91.3" fill="#999999" stroke="#999999"/>
<polygon points="98.4,72.4 98.2,68.7 87.0,74.2 87.2,78.0" fill="#c3c3c3" stroke="#c3c3c3"/>
<polygon points="70.1,70.2 69.9,66.6 58.8,72.4 59.0,76.1" fill="#8f5050" stroke="#8f5050"/>
<polygon points="72.0,86.4 71.7,82.8 60.7,88.8 61.0,92.4" fill="#b86868" stroke="#b86868"/>
<polygon points="299.6,100.7 302.3,97.3 292.8,94.7 290.1,98.0" fill="#904c4c" stroke="#904c4c"/>
<polygon points="296.2,103.3 299.6,100.7 290.1,98.0 286.7,100.6" fill="#8d4b4b" stroke="#8d4b4b"/>
<polygon points="281.3,78.0 279.0,79.8 269.4,77.1 271.8,75.3" fill="#a75959" stroke="#a75959"/>
<polygon points="97.0,56.0 97.0,52.5 85.8,58.1 85.8,61.6" fill="#8f8f8f" stroke="#8f8f8f"/>
<polygon points="45.4,101.8 45.3,98.2 34.2,103.9 34.2,107.4" fill="#bcbcbc" stroke="#bcbcbc"/>
<polygon points="292.3,104.8 296.2,103.3 286.7,100.6 282.8,102.1" fill="#834545" stroke="#834545"/>
<polygon points="302.3,97.3 304.0,93.6 294.5,90.9 292.8,94.7" fill="#8d4b4b" stroke="#8d4b4b"/>
<polygon points="251.9,62.9 250.7,60.8 250.7,51.4 251.9,53.5" fill="#7b7b7b" stroke="#7b7b7b"/>
<polygon points="18.1,115.5 18.2,112.2 6.9,117.5 6.8,120.8" fill="#b9b9b9" stroke="#b9b9b9"/>
<polygon points="144.7,63.8 142.0,63.4 134.5,68.1 137.2,68.5" fill="#5d4e4e" stroke="#5d4e4e"/>
<polygon points="11.3,132.6 12.6,128.2 -1.9,128.2 -3.2,132.6" fill="#d0d0d0" stroke="#d0d0d0"/>
<polygon points="38.8,132.4 40.1,128.0 25.6,128.1 24.3,132.5" fill="#cfcfcf" stroke="#cfcfcf"/>
<polygon points="66.3,132.0 67.6,127.6 53.1,127.9 51.8,132.3" fill="#cfcfcf" stroke="#cfcfcf"/>
<polygon points="93.8,131.1 95.0,126.7 80.5,127.2 79.3,131.6" fill="#cfcfcf" stroke="#cfcfcf"/>
<polygon points="121.3,130.1 122.5,125.6 108.0,126.2 106.8,130.6" fill="#cfcfcf" stroke="#cfcfcf"/>
<polygon points="148.7,129.1 150.0,124.7 135.5,125.2 134.3,129.6" fill="#cfcfcf" stroke="#cfcfcf"/>
<polygon points="176.2,128.3 177.5,123.9 163.0,124.4 161.7,128.8" fill="#cfcfcf" stroke="#cfcfcf"/>
<polygon points="203.7,128.0 205.1,123.6 190.6,123.6 189.2,128.0" fill="#cfcfcf" stroke="#cfcfcf"/>
<polygon points="231.1,128.8 232.7,124.5 218.2,123.9 216.6,128.2" fill="#d0d0d0" stroke="#d0d0d0"/>
<polygon points="258.4,131.0 260.2,126.8 245.8,125.3 244.0,129.5" fill="#ca7b7b" stroke="#ca7b7b"/>
<polygon points="284.9,137.3 287.4,133.5 273.5,129.4 270.9,133.3" fill="#ca7b7b" stroke="#ca7b7b"/>
<polygon points="17.2,95.7 17.3,92.5 6.0,97.8 5.8,101.0" fill="#838383" stroke="#838383"/>
<polygon points="288.2,105.1 292.3,104.8 282.8,102.1 278.7,102.4" fill="#743d3d" stroke="#743d3d"/>
<polygon points="282.4,140.9 284.9,137.3 270.9,133.3 268.5,137.0" fill="#cd7d7d" stroke="#cd7d7d"/>
<polygon points="256.7,135.0 258.4,131.0 244.0,129.5 242.2,133.6" fill="#d28181" stroke="#d28181"/>
<polygon points="229.6,132.9 231.1,128.8 216.6,128.2 215.1,132.4" fill="#dadada" stroke="#dadada"/>
<polygon points="202.3,132.2 203.7,128.0 189.2,128.0 187.8,132.3" fill="#dbdbdb" stroke="#dbdbdb"/>
<polygon points="175.0,132.6 176.2,128.3 161.7,128.8 160.5,133.0" fill="#dbdbdb" stroke="#dbdbdb"/>
<polygon points="147.5,133.4 148.7,129.1 134.3,129.6 133.0,133.9" fill="#d58484" stroke="#d58484"/>
<polygon points="120.1,134.3 121.3,130.1 106.8,130.6 105.6,134.9" fill="#dcdcdc" stroke="#dcdcdc"/>
<polygon points="92.6,135.4 93.8,131.1 79.3,131.6 78.1,135.9" fill="#dcdcdc" stroke="#dcdcdc"/>
<polygon points="65.0,136.2 66.3,132.0 51.8,132.3 50.5,136.5" fill="#dbdbdb" stroke="#dbdbdb"/>
<polygon points="37.4,136.6 38.8,132.4 24.3,132.5 22.9,136.7" fill="#dbdbdb" stroke="#dbdbdb"/>
<polygon points="9.9,136.8 11.3,132.6 -3.2,132.6 -4.6,136.8" fill="#d48383" stroke="#d48383"/>
<polygon points="220.1,74.3 221.4,78.2 221.4,68.7 220.1,64.8" fill="#5e3434" stroke="#5e3434"/>
<polygon points="43.6,81.7 43.7,78.7 32.7,84.6 32.6,87.6" fill="#7d7d7d" stroke="#7d7d7d"/>
<polygon points="98.2,75.4 98.4,72.4 87.2,78.0 87.0,81.0" fill="#b2b2b2" stroke="#b2b2b2"/>
<polygon points="304.0,93.6 304.8,89.8 295.2,87.1 294.5,90.9" fill="#834545" stroke="#834545"/>
<polygon points="12.6,128.2 14.0,124.1 -0.5,124.1 -1.9,128.2" fill="#acacac" stroke="#acacac"/>
<polygon points="40.1,128.0 41.4,123.9 26.9,124.0 25.6,128.1" fill="#acacac" stroke="#acacac"/>
<polygon points="67.6,127.6 68.8,123.4 54.3,123.7 53.1,127.9" fill="#acacac" stroke="#acacac"/>
<polygon points="95.0,126.7 96.2,122.5 81.8,123.0 80.5,127.2" fill="#acacac" stroke="#acacac"/>
<polygon points="122.5,125.6 123.7,121.5 109.2,122.0 108.0,126.2" fill="#acacac" stroke="#acacac"/>
<polygon points="150.0,124.7 151.2,120.6 136.7,121.0 135.5,125.2" fill="#acacac" stroke="#acacac"/>
<polygon points="177.5,123.9 178.7,119.8 164.2,120.2 163.0,124.4" fill="#acacac" stroke="#acacac"/>
<polygon points="205.1,123.6 206.4,119.5 191.9,119.5 190.6,123.6" fill="#acacac" stroke="#acacac"/>
<polygon points="232.7,124.5 234.2,120.4 219.7,119.8 218.2,123.9" fill="#acacac" stroke="#acacac"/>
<polygon points="260.2,126.8 262.1,122.9 247.7,121.3 245.8,125.3" fill="#a75e5e" stroke="#a75e5e"/>
<polygon points="287.4,133.5 289.9,130.0 276.0,125.8 273.5,129.4" fill="#afafaf" stroke="#afafaf"/>
<polygon points="246.8,87.2 249.9,85.7 249.9,76.2 246.8,77.6" fill="#a4a4a4" stroke="#a4a4a4"/>
<polygon points="69.9,66.6 70.2,63.8 59.1,69.6 58.8,72.4" fill="#734040" stroke="#734040"/>
<polygon points="71.8,89.2 72.0,86.4 61.0,92.4 60.9,95.2" fill="#a95f5f" stroke="#a95f5f"/>
<polygon points="279.0,79.8 277.1,82.8 267.5,80.1 269.4,77.1" fill="#b45f5f" stroke="#b45f5f"/>
<polygon points="284.3,104.2 288.2,105.1 278.7,102.4 274.8,101.5" fill="#613333" stroke="#613333"/>
<polygon points="97.0,52.5 97.4,49.9 86.2,55.4 85.8,58.1" fill="#717171" stroke="#717171"/>
<polygon points="45.0,104.4 45.4,101.8 34.2,107.4 33.8,110.0" fill="#ababab" stroke="#ababab"/>
<polygon points="-11.6,115.7 -10.7,112.6 -18.1,116.0 -18.0,118.7" fill="#9d5858" stroke="#9d5858"/>
<polygon points="-12.5,118.6 -11.6,115.7 -18.0,118.7 -17.9,121.1" fill="#bb6e6e" stroke="#bb6e6e"/>
<polygon points="280.2,144.0 282.4,140.9 268.5,137.0 266.2,140.2" fill="#b36565" stroke="#b36565"/>
<polygon points="255.0,138.5 256.7,135.0 242.2,133.6 240.5,137.2" fill="#b66767" stroke="#b66767"/>
<polygon points="228.1,136.5 229.6,132.9 215.1,132.4 213.6,136.0" fill="#bdbdbd" stroke="#bdbdbd"/>
<polygon points="201.0,135.8 202.3,132.2 187.8,132.3 186.5,135.9" fill="#bebebe" stroke="#bebebe"/>
<polygon points="173.7,136.3 175.0,132.6 160.5,133.0 159.2,136.7" fill="#bebebe" stroke="#bebebe"/>
<polygon points="146.3,137.1 147.5,133.4 133.0,133.9 131.8,137.5" fill="#b86868" stroke="#b86868"/>
<polygon points="118.8,138.0 120.1,134.3 105.6,134.9 104.3,138.6" fill="#bebebe" stroke="#bebebe"/>
<polygon points="91.3,139.1 92.6,135.4 78.1,135.9 76.8,139.5" fill="#bebebe" stroke="#bebebe"/>
<polygon points="63.7,139.9 65.0,136.2 50.5,136.5 49.2,140.2" fill="#bebebe" stroke="#bebebe"/>
<polygon points="36.1,140.3 37.4,136.6 22.9,136.7 21.6,140.4" fill="#bebebe" stroke="#bebebe"/>
<polygon points="8.5,140.4 9.9,136.8 -4.6,136.8 -6.0,140.4" fill="#b76868" stroke="#b76868"/>
<polygon points="17.6,118.0 18.1,115.5 6.8,120.8 6.2,123.3" fill="#a7a7a7" stroke="#a7a7a7"/>
<polygon points="-10.7,112.6 -9.9,109.4 -18.3,113.4 -18.1,116.0" fill="#844a4a" stroke="#844a4a"/>
<polygon points="14.0,124.1 15.4,120.6 0.9,120.7 -0.5,124.1" fill="#949494" stroke="#949494"/>
<polygon points="41.4,123.9 42.8,120.5 28.3,120.6 26.9,124.0" fill="#949494" stroke="#949494"/>
<polygon points="68.8,123.4 70.1,120.0 55.6,120.3 54.3,123.7" fill="#949494" stroke="#949494"/>
<polygon points="96.2,122.5 97.5,119.0 83.0,119.5 81.8,123.0" fill="#949494" stroke="#949494"/>
<polygon points="123.7,121.5 125.0,118.0 110.5,118.6 109.2,122.0" fill="#949494" stroke="#949494"/>
<polygon points="151.2,120.6 152.5,117.1 138.0,117.5 136.7,121.0" fill="#949494" stroke="#949494"/>
<polygon points="178.7,119.8 180.0,116.3 165.5,116.7 164.2,120.2" fill="#949494" stroke="#949494"/>
<polygon points="206.4,119.5 207.8,116.1 193.3,116.0 191.9,119.5" fill="#949494" stroke="#949494"/>
<polygon points="234.2,120.4 235.7,117.1 221.3,116.5 219.7,119.8" fill="#959595" stroke="#959595"/>
<polygon points="262.1,122.9 263.9,119.7 249.5,118.0 247.7,121.3" fill="#915151" stroke="#915151"/>
<polygon points="289.9,130.0 292.3,127.2 278.4,122.9 276.0,125.8" fill="#999999" stroke="#999999"/>
<polygon points="304.8,89.8 304.5,86.4 294.9,83.7 295.2,87.1" fill="#743d3d" stroke="#743d3d"/>
<polygon points="-13.7,121.0 -12.5,118.6 -17.9,121.1 -18.1,123.0" fill="#df8d8d" stroke="#df8d8d"/>
<polygon points="280.9,102.0 284.3,104.2 274.8,101.5 271.3,99.3" fill="#623434" stroke="#623434"/>
<polygon points="142.0,63.4 139.7,64.3 132.2,69.0 134.5,68.1" fill="#5d4e4e" stroke="#5d4e4e"/>
<polygon points="277.1,82.8 275.9,86.5 266.3,83.8 267.5,80.1" fill="#b96262" stroke="#b96262"/>
<polygon points="17.3,92.5 18.0,90.3 6.7,95.7 6.0,97.8" fill="#646464" stroke="#646464"/>
<polygon points="250.7,60.8 248.1,59.2 248.1,49.7 250.7,51.4" fill="#a0a0a0" stroke="#a0a0a0"/>
<polygon points="220.4,70.2 220.1,74.3 220.1,64.8 220.4,60.8" fill="#8f5050" stroke="#8f5050"/>
<path d="M186.0,215.0 L186.2,214.9 L186.5,214.7 L186.7,214.5 L187.1,214.2 L187.4,214.0 L187.8,213.7 L188.2,213.4 L188.6,213.1 L189.0,212.8 L189.4,212.6 L189.8,212.3 L190.3,212.1 L190.7,211.9 L191.2,211.7 L191.6,211.6 L192.0,211.5 L192.4,211.5 L192.9,211.5 L193.4,211.6 L193.8,211.7 L194.3,211.8 L194.9,211.9 L195.4,212.1 L195.9,212.3 L196.4,212.5 L196.8,212.7 L197.3,212.8 L197.7,213.0 L198.1,213.2 L198.5,213.3 L198.8,213.4 L199.0,213.5" fill="none" stroke="#785050" stroke-width="4.8" stroke-linecap="round" stroke-linejoin="round" opacity="1.0"/>
<path d="M186.0,215.0 L186.2,214.9 L186.5,214.7 L186.7,214.5 L187.1,214.2 L187.4,214.0 L187.8,213.7 L188.2,213.4 L188.6,213.1 L189.0,212.8 L189.4,212.6 L189.8,212.3 L190.3,212.1 L190.7,211.9 L191.2,211.7 L191.6,211.6 L192.0,211.5 L192.4,211.5 L192.9,211.5 L193.4,211.6 L193.8,211.7 L194.3,211.8 L194.9,211.9 L195.4,212.1 L195.9,212.3 L196.4,212.5 L196.8,212.7 L197.3,212.8 L197.7,213.0 L198.1,213.2 L198.5,213.3 L198.8,213.4 L199.0,213.5" fill="none" stroke="#aa6e6e" stroke-width="4.0" stroke-linecap="round" stroke-linejoin="round" opacity="1.0"/>
<path d="M186.0,215.0 L186.2,214.9 L186.5,214.7 L186.7,214.5 L187.1,214.2 L187.4,214.0 L187.8,213.7 L188.2,213.4 L188.6,213.1 L189.0,212.8 L189.4,212.6 L189.8,212.3 L190.3,212.1 L190.7,211.9 L191.2,211.7 L191.6,211.6 L192.0,211.5 L192.4,211.5 L192.9,211.5 L193.4,211.6 L193.8,211.7 L194.3,211.8 L194.9,211.9 L195.4,212.1 L195.9,212.3 L196.4,212.5 L196.8,212.7 L197.3,212.8 L197.7,213.0 L198.1,213.2 L198.5,213.3 L198.8,213.4 L199.0,213.5" fill="none" stroke="#d0afaf" stroke-width="1.4" stroke-linecap="round" stroke-linejoin="round" opacity="1.0"/>
<path d="M207.0,212.0 L207.2,211.8 L207.5,211.6 L207.9,211.3 L208.2,211.0 L208.6,210.7 L209.1,210.3 L209.5,209.9 L210.0,209.6 L210.5,209.2 L211.0,208.8 L211.5,208.4 L212.0,208.1 L212.5,207.8 L213.0,207.5 L213.5,207.2 L214.0,207.0 L214.5,206.8 L215.0,206.7 L215.6,206.6 L216.1,206.4 L216.7,206.4 L217.3,206.3 L217.9,206.2 L218.4,206.2 L219.0,206.2 L219.5,206.1 L220.1,206.1 L220.5,206.1 L221.0,206.1 L221.4,206.0 L221.7,206.0 L222.0,206.0" fill="none" stroke="#6e4646" stroke-width="3.8" stroke-linecap="round" stroke-linejoin="round" opacity="1.0"/>
<path d="M207.0,212.0 L207.2,211.8 L207.5,211.6 L207.9,211.3 L208.2,211.0 L208.6,210.7 L209.1,210.3 L209.5,209.9 L210.0,209.6 L210.5,209.2 L211.0,208.8 L211.5,208.4 L212.0,208.1 L212.5,207.8 L213.0,207.5 L213.5,207.2 L214.0,207.0 L214.5,206.8 L215.0,206.7 L215.6,206.6 L216.1,206.4 L216.7,206.4 L217.3,206.3 L217.9,206.2 L218.4,206.2 L219.0,206.2 L219.5,206.1 L220.1,206.1 L220.5,206.1 L221.0,206.1 L221.4,206.0 L221.7,206.0 L222.0,206.0" fill="none" stroke="#966464" stroke-width="3.0" stroke-linecap="round" stroke-linejoin="round" opacity="1.0"/>
<path d="M207.0,212.0 L207.2,211.8 L207.5,211.6 L207.9,211.3 L208.2,211.0 L208.6,210.7 L209.1,210.3 L209.5,209.9 L210.0,209.6 L210.5,209.2 L211.0,208.8 L211.5,208.4 L212.0,208.1 L212.5,207.8 L213.0,207.5 L213.5,207.2 L214.0,207.0 L214.5,206.8 L215.0,206.7 L215.6,206.6 L216.1,206.4 L216.7,206.4 L217.3,206.3 L217.9,206.2 L218.4,206.2 L219.0,206.2 L219.5,206.1 L220.1,206.1 L220.5,206.1 L221.0,206.1 L221.4,206.0 L221.7,206.0 L222.0,206.0" fill="none" stroke="#c5a9a9" stroke-width="1.0" stroke-linecap="round" stroke-linejoin="round" opacity="1.0"/>
<polygon points="43.7,78.7 44.3,76.7 33.3,82.7 32.7,84.6" fill="#5d5d5d" stroke="#5d5d5d"/>
<polygon points="97.5,77.4 98.2,75.4 87.0,81.0 86.3,83.0" fill="#9d9d9d" stroke="#9d9d9d"/>
<polygon points="-15.1,122.7 -13.7,121.0 -18.1,123.0 -18.5,124.3" fill="#c27171" stroke="#c27171"/>
<polygon points="278.1,98.8 280.9,102.0 271.3,99.3 268.6,96.1" fill="#7e4242" stroke="#7e4242"/>
<polygon points="-9.9,109.4 -8.9,106.7 -18.3,111.0 -18.3,113.4" fill="#663939" stroke="#663939"/>
<polygon points="275.9,86.5 275.6,90.7 266.1,88.0 266.3,83.8" fill="#b66060" stroke="#b66060"/>
<polygon points="70.2,63.8 71.0,62.0 59.9,67.7 59.1,69.6" fill="#583131" stroke="#583131"/>
<polygon points="71.1,90.9 71.8,89.2 60.9,95.2 60.2,97.0" fill="#989898" stroke="#989898"/>
<polygon points="278.3,146.3 280.2,144.0 266.2,140.2 264.3,142.6" fill="#a35b5b" stroke="#a35b5b"/>
<polygon points="253.4,141.1 255.0,138.5 240.5,137.2 239.0,139.8" fill="#a65d5d" stroke="#a65d5d"/>
<polygon points="226.7,139.2 228.1,136.5 213.6,136.0 212.2,138.7" fill="#adadad" stroke="#adadad"/>
<polygon points="199.7,138.5 201.0,135.8 186.5,135.9 185.2,138.7" fill="#adadad" stroke="#adadad"/>
<polygon points="172.4,139.1 173.7,136.3 159.2,136.7 157.9,139.5" fill="#aeaeae" stroke="#aeaeae"/>
<polygon points="145.0,139.8 146.3,137.1 131.8,137.5 130.5,140.3" fill="#a85e5e" stroke="#a85e5e"/>
<polygon points="117.5,140.8 118.8,138.0 104.3,138.6 103.1,141.3" fill="#aeaeae" stroke="#aeaeae"/>
<polygon points="90.0,141.8 91.3,139.1 76.8,139.5 75.5,142.3" fill="#aeaeae" stroke="#aeaeae"/>
<polygon points="62.3,142.7 63.7,139.9 49.2,140.2 47.8,142.9" fill="#adadad" stroke="#adadad"/>
<polygon points="34.7,143.0 36.1,140.3 21.6,140.4 20.2,143.1" fill="#adadad" stroke="#adadad"/>
<polygon points="7.1,143.2 8.5,140.4 -6.0,140.4 -7.4,143.2" fill="#a75e5e" stroke="#a75e5e"/>
<polygon points="249.9,85.7 251.7,83.8 251.7,74.3 249.9,76.2" fill="#8e8e8e" stroke="#8e8e8e"/>
<polygon points="276.4,94.9 278.1,98.8 268.6,96.1 266.8,92.3" fill="#964f4f" stroke="#964f4f"/>
<polygon points="275.6,90.7 276.4,94.9 266.8,92.3 266.1,88.0" fill="#a95a5a" stroke="#a95a5a"/>
<polygon points="97.4,49.9 98.3,48.3 87.1,53.9 86.2,55.4" fill="#5c5c5c" stroke="#5c5c5c"/>
<polygon points="44.0,106.0 45.0,104.4 33.8,110.0 32.8,111.5" fill="#939393" stroke="#939393"/>
<polygon points="304.5,86.4 303.3,83.8 293.7,81.1 294.9,83.7" fill="#603333" stroke="#603333"/>
<polygon points="15.4,120.6 16.7,118.2 2.2,118.2 0.9,120.7" fill="#787878" stroke="#787878"/>
<polygon points="42.8,120.5 44.1,118.0 29.6,118.2 28.3,120.6" fill="#787878" stroke="#787878"/>
<polygon points="70.1,120.0 71.4,117.5 56.9,117.8 55.6,120.3" fill="#787878" stroke="#787878"/>
<polygon points="97.5,119.0 98.8,116.6 84.3,117.1 83.0,119.5" fill="#787878" stroke="#787878"/>
<polygon points="125.0,118.0 126.2,115.5 111.7,116.1 110.5,118.6" fill="#787878" stroke="#787878"/>
<polygon points="152.5,117.1 153.8,114.6 139.3,115.1 138.0,117.5" fill="#787878" stroke="#787878"/>
<polygon points="180.0,116.3 181.3,113.9 166.8,114.3 165.5,116.7" fill="#787878" stroke="#787878"/>
<polygon points="207.8,116.1 209.3,113.7 194.8,113.6 193.3,116.0" fill="#787878" stroke="#787878"/>
<polygon points="235.7,117.1 237.2,114.7 222.8,114.1 221.3,116.5" fill="#797979" stroke="#797979"/>
<polygon points="263.9,119.7 265.6,117.5 251.2,115.7 249.5,118.0" fill="#764242" stroke="#764242"/>
<polygon points="292.3,127.2 294.4,125.4 280.5,121.0 278.4,122.9" fill="#7e7e7e" stroke="#7e7e7e"/>
<polygon points="16.5,119.3 17.6,118.0 6.2,123.3 5.2,124.6" fill="#8e8e8e" stroke="#8e8e8e"/>
<polygon points="222.2,66.4 220.4,70.2 220.4,60.8 222.2,56.9" fill="#b16363" stroke="#b16363"/>
<polygon points="-8.9,106.7 -7.6,104.6 -18.0,109.4 -18.3,111.0" fill="#583131" stroke="#583131"/>
<polygon points="139.7,64.3 138.3,66.3 130.8,71.0 132.2,69.0" fill="#b69797" stroke="#b69797"/>
<polygon points="248.1,59.2 244.2,58.1 244.2,48.7 248.1,49.7" fill="#c1c1c1" stroke="#c1c1c1"/>
<polygon points="18.0,90.3 19.1,89.3 7.8,94.6 6.7,95.7" fill="#5c5c5c" stroke="#5c5c5c"/>
<polygon points="44.3,76.7 45.4,75.8 34.5,81.8 33.3,82.7" fill="#5c5c5c" stroke="#5c5c5c"/>
<polygon points="96.2,78.2 97.5,77.4 86.3,83.0 85.1,83.8" fill="#828282" stroke="#828282"/>
<polygon points="168.4,71.0 167.9,66.4 160.4,71.1 160.9,75.7" fill="#9f5959" stroke="#9f5959"/>
<polygon points="228.5,103.9 233.2,105.8 233.2,96.3 228.5,94.3" fill="#a85e5e" stroke="#a85e5e"/>
<polygon points="233.2,105.8 238.3,106.9 238.3,97.3 233.2,96.3" fill="#b36565" stroke="#b36565"/>
<polygon points="167.9,66.4 166.4,62.1 158.9,66.8 160.4,71.1" fill="#995656" stroke="#995656"/>
<polygon points="276.7,147.4 278.3,146.3 264.3,142.6 262.6,143.8" fill="#8d4f4f" stroke="#8d4f4f"/>
<polygon points="252.0,142.4 253.4,141.1 239.0,139.8 237.5,141.2" fill="#915151" stroke="#915151"/>
<polygon points="225.3,140.7 226.7,139.2 212.2,138.7 210.8,140.2" fill="#979797" stroke="#979797"/>
<polygon points="198.4,140.1 199.7,138.5 185.2,138.7 183.9,140.3" fill="#989898" stroke="#989898"/>
<polygon points="171.1,140.6 172.4,139.1 157.9,139.5 156.6,141.0" fill="#989898" stroke="#989898"/>
<polygon points="143.7,141.4 145.0,139.8 130.5,140.3 129.2,141.9" fill="#935252" stroke="#935252"/>
<polygon points="116.2,142.4 117.5,140.8 103.1,141.3 101.7,142.9" fill="#989898" stroke="#989898"/>
<polygon points="88.7,143.4 90.0,141.8 75.5,142.3 74.2,143.9" fill="#989898" stroke="#989898"/>
<polygon points="61.0,144.2 62.3,142.7 47.8,142.9 46.5,144.5" fill="#989898" stroke="#989898"/>
<polygon points="33.3,144.6 34.7,143.0 20.2,143.1 18.8,144.7" fill="#989898" stroke="#989898"/>
<polygon points="5.8,144.7 7.1,143.2 -7.4,143.2 -8.7,144.7" fill="#925252" stroke="#925252"/>
<polygon points="71.0,62.0 72.4,61.4 61.3,67.1 59.9,67.7" fill="#9d5858" stroke="#9d5858"/>
<polygon points="69.8,91.6 71.1,90.9 60.2,97.0 58.9,97.7" fill="#767676" stroke="#767676"/>
<polygon points="167.8,75.4 168.4,71.0 160.9,75.7 160.3,80.1" fill="#9e5959" stroke="#9e5959"/>
<polygon points="303.3,83.8 301.3,82.1 291.8,79.4 293.7,81.1" fill="#4c2828" stroke="#4c2828"/>
<polygon points="225.4,63.1 222.2,66.4 222.2,56.9 225.4,53.6" fill="#cd7373" stroke="#cd7373"/>
<polygon points="98.3,48.3 100.1,48.6 88.9,54.2 87.1,53.9" fill="#aaaaaa" stroke="#aaaaaa"/>
<polygon points="224.5,101.1 228.5,103.9 228.5,94.3 224.5,91.5" fill="#955454" stroke="#955454"/>
<polygon points="42.5,106.4 44.0,106.0 32.8,111.5 31.3,111.9" fill="#767676" stroke="#767676"/>
<path d="M190.0,49.2 L190.6,49.3 L191.3,49.4 L192.0,49.6 L192.9,49.8 L193.9,50.0 L194.9,50.2 L196.0,50.5 L197.2,50.7 L198.3,50.9 L199.5,51.1 L200.6,51.3 L201.8,51.5 L202.9,51.7 L204.0,51.8 L205.0,51.9 L206.0,52.0 L206.9,52.0 L207.9,52.0 L208.8,52.0 L209.7,51.9 L210.6,51.9 L211.5,51.8 L212.4,51.7 L213.3,51.5 L214.2,51.4 L215.1,51.3 L215.9,51.2 L216.7,51.0 L217.5,50.9 L218.2,50.7 L218.9,50.6 L219.6,50.5 L220.2,50.4 L220.9,50.3 L221.5,50.1 L222.1,50.0 L222.6,49.8 L223.2,49.7 L223.7,49.6 L224.1,49.4 L224.6,49.3 L225.0,49.1 L225.4,49.0 L225.8,48.9 L226.2,48.8 L226.5,48.7 L226.8,48.6 L227.0,48.5" fill="none" stroke="#a5a5a5" stroke-width="2.9" stroke-linecap="round" stroke-linejoin="round" opacity="1.0"/>
<path d="M190.0,49.2 L190.6,49.3 L191.3,49.4 L192.0,49.6 L192.9,49.8 L193.9,50.0 L194.9,50.2 L196.0,50.5 L197.2,50.7 L198.3,50.9 L199.5,51.1 L200.6,51.3 L201.8,51.5 L202.9,51.7 L204.0,51.8 L205.0,51.9 L206.0,52.0 L206.9,52.0 L207.9,52.0 L208.8,52.0 L209.7,51.9 L210.6,51.9 L211.5,51.8 L212.4,51.7 L213.3,51.5 L214.2,51.4 L215.1,51.3 L215.9,51.2 L216.7,51.0 L217.5,50.9 L218.2,50.7 L218.9,50.6 L219.6,50.5 L220.2,50.4 L220.9,50.3 L221.5,50.1 L222.1,50.0 L222.6,49.8 L223.2,49.7 L223.7,49.6 L224.1,49.4 L224.6,49.3 L225.0,49.1 L225.4,49.0 L225.8,48.9 L226.2,48.8 L226.5,48.7 L226.8,48.6 L227.0,48.5" fill="none" stroke="#e6e6e6" stroke-width="2.1" stroke-linecap="round" stroke-linejoin="round" opacity="1.0"/>
<path d="M190.0,49.2 L190.6,49.3 L191.3,49.4 L192.0,49.6 L192.9,49.8 L193.9,50.0 L194.9,50.2 L196.0,50.5 L197.2,50.7 L198.3,50.9 L199.5,51.1 L200.6,51.3 L201.8,51.5 L202.9,51.7 L204.0,51.8 L205.0,51.9 L206.0,52.0 L206.9,52.0 L207.9,52.0 L208.8,52.0 L209.7,51.9 L210.6,51.9 L211.5,51.8 L212.4,51.7 L213.3,51.5 L214.2,51.4 L215.1,51.3 L215.9,51.2 L216.7,51.0 L217.5,50.9 L218.2,50.7 L218.9,50.6 L219.6,50.5 L220.2,50.4 L220.9,50.3 L221.5,50.1 L222.1,50.0 L222.6,49.8 L223.2,49.7 L223.7,49.6 L224.1,49.4 L224.6,49.3 L225.0,49.1 L225.4,49.0 L225.8,48.9 L226.2,48.8 L226.5,48.7 L226.8,48.6 L227.0,48.5" fill="none" stroke="#f1f1f1" stroke-width="0.7" stroke-linecap="round" stroke-linejoin="round" opacity="1.0"/>
<path d="M190.0,47.7 L190.6,47.8 L191.3,47.9 L192.0,48.1 L192.9,48.3 L193.9,48.5 L194.9,48.7 L196.0,49.0 L197.2,49.2 L198.3,49.4 L199.5,49.6 L200.6,49.8 L201.8,50.0 L202.9,50.2 L204.0,50.3 L205.0,50.4 L206.0,50.5 L206.9,50.5 L207.9,50.5 L208.8,50.5 L209.7,50.4 L210.6,50.4 L211.5,50.3 L212.4,50.2 L213.3,50.0 L214.2,49.9 L215.1,49.8 L215.9,49.7 L216.7,49.5 L217.5,49.4 L218.2,49.2 L218.9,49.1 L219.6,49.0 L220.2,48.9 L220.9,48.8 L221.5,48.6 L222.1,48.5 L222.6,48.3 L223.2,48.2 L223.7,48.1 L224.1,47.9 L224.6,47.8 L225.0,47.6 L225.4,47.5 L225.8,47.4 L226.2,47.3 L226.5,47.2 L226.8,47.1 L227.0,47.0" fill="none" stroke="#b26e6e" stroke-width="2.9" stroke-linecap="round" stroke-linejoin="round" opacity="1.0"/>
<path d="M190.0,47.7 L190.6,47.8 L191.3,47.9 L192.0,48.1 L192.9,48.3 L193.9,48.5 L194.9,48.7 L196.0,49.0 L197.2,49.2 L198.3,49.4 L199.5,49.6 L200.6,49.8 L201.8,50.0 L202.9,50.2 L204.0,50.3 L205.0,50.4 L206.0,50.5 L206.9,50.5 L207.9,50.5 L208.8,50.5 L209.7,50.4 L210.6,50.4 L211.5,50.3 L212.4,50.2 L213.3,50.0 L214.2,49.9 L215.1,49.8 L215.9,49.7 L216.7,49.5 L217.5,49.4 L218.2,49.2 L218.9,49.1 L219.6,49.0 L220.2,48.9 L220.9,48.8 L221.5,48.6 L222.1,48.5 L222.6,48.3 L223.2,48.2 L223.7,48.1 L224.1,47.9 L224.6,47.8 L225.0,47.6 L225.4,47.5 L225.8,47.4 L226.2,47.3 L226.5,47.2 L226.8,47.1 L227.0,47.0" fill="none" stroke="#e28e8e" stroke-width="2.1" stroke-linecap="round" stroke-linejoin="round" opacity="1.0"/>
<path d="M190.0,47.7 L190.6,47.8 L191.3,47.9 L192.0,48.1 L192.9,48.3 L193.9,48.5 L194.9,48.7 L196.0,49.0 L197.2,49.2 L198.3,49.4 L199.5,49.6 L200.6,49.8 L201.8,50.0 L202.9,50.2 L204.0,50.3 L205.0,50.4 L206.0,50.5 L206.9,50.5 L207.9,50.5 L208.8,50.5 L209.7,50.4 L210.6,50.4 L211.5,50.3 L212.4,50.2 L213.3,50.0 L214.2,49.9 L215.1,49.8 L215.9,49.7 L216.7,49.5 L217.5,49.4 L218.2,49.2 L218.9,49.1 L219.6,49.0 L220.2,48.9 L220.9,48.8 L221.5,48.6 L222.1,48.5 L222.6,48.3 L223.2,48.2 L223.7,48.1 L224.1,47.9 L224.6,47.8 L225.0,47.6 L225.4,47.5 L225.8,47.4 L226.2,47.3 L226.5,47.2 L226.8,47.1 L227.0,47.0" fill="none" stroke="#efc0c0" stroke-width="0.7" stroke-linecap="round" stroke-linejoin="round" opacity="1.0"/>
<polygon points="251.7,83.8 251.9,81.7 251.9,72.2 251.7,74.3" fill="#727272" stroke="#727272"/>
<polygon points="115.1,60.1 115.7,59.2 112.3,60.9 110.7,62.3" fill="#767676" stroke="#767676"/>
<polygon points="238.3,106.9 243.1,106.9 243.1,97.3 238.3,97.3" fill="#b56666" stroke="#b56666"/>
<polygon points="16.7,118.2 18.1,117.0 3.6,117.1 2.2,118.2" fill="#5c5c5c" stroke="#5c5c5c"/>
<polygon points="44.1,118.0 45.5,116.8 31.0,117.0 29.6,118.2" fill="#5c5c5c" stroke="#5c5c5c"/>
<polygon points="71.4,117.5 72.8,116.3 58.3,116.6 56.9,117.8" fill="#5c5c5c" stroke="#5c5c5c"/>
<polygon points="166.4,62.1 164.1,58.5 156.6,63.2 158.9,66.8" fill="#8c4e4e" stroke="#8c4e4e"/>
<polygon points="98.8,116.6 100.1,115.3 85.6,115.9 84.3,117.1" fill="#5c5c5c" stroke="#5c5c5c"/>
<polygon points="126.2,115.5 127.6,114.3 113.1,114.9 111.7,116.1" fill="#5c5c5c" stroke="#5c5c5c"/>
<polygon points="153.8,114.6 155.2,113.4 140.7,113.8 139.3,115.1" fill="#5c5c5c" stroke="#5c5c5c"/>
<polygon points="181.3,113.9 182.7,112.7 168.2,113.1 166.8,114.3" fill="#5c5c5c" stroke="#5c5c5c"/>
<polygon points="209.3,113.7 210.7,112.6 196.2,112.4 194.8,113.6" fill="#5c5c5c" stroke="#5c5c5c"/>
<polygon points="237.2,114.7 238.7,113.7 224.2,113.0 222.8,114.1" fill="#583131" stroke="#583131"/>
<polygon points="265.6,117.5 267.2,116.6 252.8,114.7 251.2,115.7" fill="#593232" stroke="#593232"/>
<polygon points="294.4,125.4 296.1,124.7 282.3,120.3 280.5,121.0" fill="#606060" stroke="#606060"/>
<polygon points="244.2,58.1 239.5,58.0 239.5,48.5 244.2,48.7" fill="#dbdbdb" stroke="#dbdbdb"/>
<polygon points="166.0,79.4 167.8,75.4 160.3,80.1 158.5,84.1" fill="#975454" stroke="#975454"/>
<polygon points="-7.6,104.6 -5.9,103.4 -17.2,108.7 -18.0,109.4" fill="#ad6161" stroke="#ad6161"/>
<polygon points="14.9,119.4 16.5,119.3 5.2,124.6 3.6,124.7" fill="#767676" stroke="#767676"/>
<polygon points="138.3,66.3 137.8,69.3 130.4,74.0 130.8,71.0" fill="#caa8a8" stroke="#caa8a8"/>
<polygon points="229.6,60.5 225.4,63.1 225.4,53.6 229.6,51.0" fill="#df7d7d" stroke="#df7d7d"/>
<path d="M176.5,11.5 L176.6,11.9 L176.7,12.3 L176.8,12.8 L176.9,13.4 L177.0,14.0 L177.2,14.7 L177.3,15.4 L177.5,16.2 L177.6,16.9 L177.8,17.7 L178.0,18.4 L178.2,19.2 L178.4,19.9 L178.6,20.7 L178.9,21.4 L179.1,22.0 L179.4,22.6 L179.6,23.3 L179.9,23.9 L180.2,24.6 L180.5,25.2 L180.8,25.9 L181.1,26.5 L181.5,27.2 L181.8,27.8 L182.2,28.4 L182.5,29.0 L182.9,29.5 L183.3,30.1 L183.7,30.6 L184.1,31.1 L184.5,31.5 L184.9,31.9 L185.4,32.3 L185.8,32.6 L186.3,32.8 L186.8,33.1 L187.3,33.3 L187.8,33.5 L188.3,33.7 L188.8,33.9 L189.3,34.1 L189.9,34.3 L190.4,34.5 L190.9,34.7 L191.5,35.0 L192.0,35.2 L192.5,35.5 L193.0,35.8 L193.5,36.1 L194.0,36.5 L194.6,36.8 L195.1,37.2 L195.6,37.6 L196.1,37.9 L196.7,38.3 L197.2,38.7 L197.7,39.0 L198.3,39.4 L198.8,39.8 L199.3,40.1 L199.9,40.5 L200.4,40.8 L201.0,41.1 L201.6,41.4 L202.1,41.7 L202.7,42.0 L203.2,42.4 L203.8,42.7 L204.4,43.0 L204.9,43.3 L205.5,43.6 L206.1,43.9 L206.7,44.2 L207.3,44.4 L207.9,44.6 L208.5,44.8 L209.2,44.9 L209.8,45.0 L210.5,45.1 L211.2,45.1 L211.9,45.1 L212.7,45.0 L213.5,45.0 L214.3,44.8 L215.1,44.7 L215.9,44.5 L216.7,44.3 L217.6,44.1 L218.4,43.9 L219.2,43.7 L219.9,43.4 L220.7,43.2 L221.4,42.9 L222.1,42.7 L222.8,42.5 L223.4,42.3 L224.1,42.0 L224.7,41.8 L225.3,41.5 L225.9,41.2 L226.5,40.9 L227.1,40.5 L227.7,40.2 L228.2,39.9 L228.7,39.6 L229.2,39.4 L229.6,39.1 L230.0,38.9 L230.4,38.6 L230.7,38.5 L231.0,38.3" fill="none" stroke="#a5a5a5" stroke-width="2.9" stroke-linecap="round" stroke-linejoin="round" opacity="1.0"/>
<path d="M176.5,11.5 L176.6,11.9 L176.7,12.3 L176.8,12.8 L176.9,13.4 L177.0,14.0 L177.2,14.7 L177.3,15.4 L177.5,16.2 L177.6,16.9 L177.8,17.7 L178.0,18.4 L178.2,19.2 L178.4,19.9 L178.6,20.7 L178.9,21.4 L179.1,22.0 L179.4,22.6 L179.6,23.3 L179.9,23.9 L180.2,24.6 L180.5,25.2 L180.8,25.9 L181.1,26.5 L181.5,27.2 L181.8,27.8 L182.2,28.4 L182.5,29.0 L182.9,29.5 L183.3,30.1 L183.7,30.6 L184.1,31.1 L184.5,31.5 L184.9,31.9 L185.4,32.3 L185.8,32.6 L186.3,32.8 L186.8,33.1 L187.3,33.3 L187.8,33.5 L188.3,33.7 L188.8,33.9 L189.3,34.1 L189.9,34.3 L190.4,34.5 L190.9,34.7 L191.5,35.0 L192.0,35.2 L192.5,35.5 L193.0,35.8 L193.5,36.1 L194.0,36.5 L194.6,36.8 L195.1,37.2 L195.6,37.6 L196.1,37.9 L196.7,38.3 L197.2,38.7 L197.7,39.0 L198.3,39.4 L198.8,39.8 L199.3,40.1 L199.9,40.5 L200.4,40.8 L201.0,41.1 L201.6,41.4 L202.1,41.7 L202.7,42.0 L203.2,42.4 L203.8,42.7 L204.4,43.0 L204.9,43.3 L205.5,43.6 L206.1,43.9 L206.7,44.2 L207.3,44.4 L207.9,44.6 L208.5,44.8 L209.2,44.9 L209.8,45.0 L210.5,45.1 L211.2,45.1 L211.9,45.1 L212.7,45.0 L213.5,45.0 L214.3,44.8 L215.1,44.7 L215.9,44.5 L216.7,44.3 L217.6,44.1 L218.4,43.9 L219.2,43.7 L219.9,43.4 L220.7,43.2 L221.4,42.9 L222.1,42.7 L222.8,42.5 L223.4,42.3 L224.1,42.0 L224.7,41.8 L225.3,41.5 L225.9,41.2 L226.5,40.9 L227.1,40.5 L227.7,40.2 L228.2,39.9 L228.7,39.6 L229.2,39.4 L229.6,39.1 L230.0,38.9 L230.4,38.6 L230.7,38.5 L231.0,38.3" fill="none" stroke="#e6e6e6" stroke-width="2.1" stroke-linecap="round" stroke-linejoin="round" opacity="1.0"/>
<path d="M176.5,11.5 L176.6,11.9 L176.7,12.3 L176.8,12.8 L176.9,13.4 L177.0,14.0 L177.2,14.7 L177.3,15.4 L177.5,16.2 L177.6,16.9 L177.8,17.7 L178.0,18.4 L178.2,19.2 L178.4,19.9 L178.6,20.7 L178.9,21.4 L179.1,22.0 L179.4,22.6 L179.6,23.3 L179.9,23.9 L180.2,24.6 L180.5,25.2 L180.8,25.9 L181.1,26.5 L181.5,27.2 L181.8,27.8 L182.2,28.4 L182.5,29.0 L182.9,29.5 L183.3,30.1 L183.7,30.6 L184.1,31.1 L184.5,31.5 L184.9,31.9 L185.4,32.3 L185.8,32.6 L186.3,32.8 L186.8,33.1 L187.3,33.3 L187.8,33.5 L188.3,33.7 L188.8,33.9 L189.3,34.1 L189.9,34.3 L190.4,34.5 L190.9,34.7 L191.5,35.0 L192.0,35.2 L192.5,35.5 L193.0,35.8 L193.5,36.1 L194.0,36.5 L194.6,36.8 L195.1,37.2 L195.6,37.6 L196.1,37.9 L196.7,38.3 L197.2,38.7 L197.7,39.0 L198.3,39.4 L198.8,39.8 L199.3,40.1 L199.9,40.5 L200.4,40.8 L201.0,41.1 L201.6,41.4 L202.1,41.7 L202.7,42.0 L203.2,42.4 L203.8,42.7 L204.4,43.0 L204.9,43.3 L205.5,43.6 L206.1,43.9 L206.7,44.2 L207.3,44.4 L207.9,44.6 L208.5,44.8 L209.2,44.9 L209.8,45.0 L210.5,45.1 L211.2,45.1 L211.9,45.1 L212.7,45.0 L213.5,45.0 L214.3,44.8 L215.1,44.7 L215.9,44.5 L216.7,44.3 L217.6,44.1 L218.4,43.9 L219.2,43.7 L219.9,43.4 L220.7,43.2 L221.4,42.9 L222.1,42.7 L222.8,42.5 L223.4,42.3 L224.1,42.0 L224.7,41.8 L225.3,41.5 L225.9,41.2 L226.5,40.9 L227.1,40.5 L227.7,40.2 L228.2,39.9 L228.7,39.6 L229.2,39.4 L229.6,39.1 L230.0,38.9 L230.4,38.6 L230.7,38.5 L231.0,38.3" fill="none" stroke="#f1f1f1" stroke-width="0.7" stroke-linecap="round" stroke-linejoin="round" opacity="1.0"/>
<path d="M176.0,10.0 L176.1,10.4 L176.2,10.8 L176.3,11.3 L176.4,11.9 L176.5,12.5 L176.7,13.2 L176.8,13.9 L177.0,14.7 L177.1,15.4 L177.3,16.2 L177.5,16.9 L177.7,17.7 L177.9,18.4 L178.1,19.2 L178.4,19.9 L178.6,20.5 L178.9,21.1 L179.1,21.8 L179.4,22.4 L179.7,23.1 L180.0,23.7 L180.3,24.4 L180.6,25.0 L181.0,25.7 L181.3,26.3 L181.7,26.9 L182.0,27.5 L182.4,28.0 L182.8,28.6 L183.2,29.1 L183.6,29.6 L184.0,30.0 L184.4,30.4 L184.9,30.8 L185.3,31.1 L185.8,31.3 L186.3,31.6 L186.8,31.8 L187.3,32.0 L187.8,32.2 L188.3,32.4 L188.8,32.6 L189.4,32.8 L189.9,33.0 L190.4,33.2 L191.0,33.5 L191.5,33.7 L192.0,34.0 L192.5,34.3 L193.0,34.6 L193.5,35.0 L194.1,35.3 L194.6,35.7 L195.1,36.1 L195.6,36.4 L196.2,36.8 L196.7,37.2 L197.2,37.5 L197.8,37.9 L198.3,38.3 L198.8,38.6 L199.4,39.0 L199.9,39.3 L200.5,39.6 L201.1,39.9 L201.6,40.2 L202.2,40.5 L202.7,40.9 L203.3,41.2 L203.9,41.5 L204.4,41.8 L205.0,42.1 L205.6,42.4 L206.2,42.7 L206.8,42.9 L207.4,43.1 L208.0,43.3 L208.7,43.4 L209.3,43.5 L210.0,43.6 L210.7,43.6 L211.4,43.6 L212.2,43.5 L213.0,43.5 L213.8,43.3 L214.6,43.2 L215.4,43.0 L216.2,42.8 L217.1,42.6 L217.9,42.4 L218.7,42.2 L219.4,41.9 L220.2,41.7 L220.9,41.4 L221.6,41.2 L222.3,41.0 L222.9,40.8 L223.6,40.5 L224.2,40.3 L224.8,40.0 L225.4,39.7 L226.0,39.4 L226.6,39.0 L227.2,38.7 L227.7,38.4 L228.2,38.1 L228.7,37.9 L229.1,37.6 L229.5,37.4 L229.9,37.1 L230.2,37.0 L230.5,36.8" fill="none" stroke="#b26e6e" stroke-width="2.9" stroke-linecap="round" stroke-linejoin="round" opacity="1.0"/>
<path d="M176.0,10.0 L176.1,10.4 L176.2,10.8 L176.3,11.3 L176.4,11.9 L176.5,12.5 L176.7,13.2 L176.8,13.9 L177.0,14.7 L177.1,15.4 L177.3,16.2 L177.5,16.9 L177.7,17.7 L177.9,18.4 L178.1,19.2 L178.4,19.9 L178.6,20.5 L178.9,21.1 L179.1,21.8 L179.4,22.4 L179.7,23.1 L180.0,23.7 L180.3,24.4 L180.6,25.0 L181.0,25.7 L181.3,26.3 L181.7,26.9 L182.0,27.5 L182.4,28.0 L182.8,28.6 L183.2,29.1 L183.6,29.6 L184.0,30.0 L184.4,30.4 L184.9,30.8 L185.3,31.1 L185.8,31.3 L186.3,31.6 L186.8,31.8 L187.3,32.0 L187.8,32.2 L188.3,32.4 L188.8,32.6 L189.4,32.8 L189.9,33.0 L190.4,33.2 L191.0,33.5 L191.5,33.7 L192.0,34.0 L192.5,34.3 L193.0,34.6 L193.5,35.0 L194.1,35.3 L194.6,35.7 L195.1,36.1 L195.6,36.4 L196.2,36.8 L196.7,37.2 L197.2,37.5 L197.8,37.9 L198.3,38.3 L198.8,38.6 L199.4,39.0 L199.9,39.3 L200.5,39.6 L201.1,39.9 L201.6,40.2 L202.2,40.5 L202.7,40.9 L203.3,41.2 L203.9,41.5 L204.4,41.8 L205.0,42.1 L205.6,42.4 L206.2,42.7 L206.8,42.9 L207.4,43.1 L208.0,43.3 L208.7,43.4 L209.3,43.5 L210.0,43.6 L210.7,43.6 L211.4,43.6 L212.2,43.5 L213.0,43.5 L213.8,43.3 L214.6,43.2 L215.4,43.0 L216.2,42.8 L217.1,42.6 L217.9,42.4 L218.7,42.2 L219.4,41.9 L220.2,41.7 L220.9,41.4 L221.6,41.2 L222.3,41.0 L222.9,40.8 L223.6,40.5 L224.2,40.3 L224.8,40.0 L225.4,39.7 L226.0,39.4 L226.6,39.0 L227.2,38.7 L227.7,38.4 L228.2,38.1 L228.7,37.9 L229.1,37.6 L229.5,37.4 L229.9,37.1 L230.2,37.0 L230.5,36.8" fill="none" stroke="#e28e8e" stroke-width="2.1" stroke-linecap="round" stroke-linejoin="round" opacity="1.0"/>
<path d="M176.0,10.0 L176.1,10.4 L176.2,10.8 L176.3,11.3 L176.4,11.9 L176.5,12.5 L176.7,13.2 L176.8,13.9 L177.0,14.7 L177.1,15.4 L177.3,16.2 L177.5,16.9 L177.7,17.7 L177.9,18.4 L178.1,19.2 L178.4,19.9 L178.6,20.5 L178.9,21.1 L179.1,21.8 L179.4,22.4 L179.7,23.1 L180.0,23.7 L180.3,24.4 L180.6,25.0 L181.0,25.7 L181.3,26.3 L181.7,26.9 L182.0,27.5 L182.4,28.0 L182.8,28.6 L183.2,29.1 L183.6,29.6 L184.0,30.0 L184.4,30.4 L184.9,30.8 L185.3,31.1 L185.8,31.3 L186.3,31.6 L186.8,31.8 L187.3,32.0 L187.8,32.2 L188.3,32.4 L188.8,32.6 L189.4,32.8 L189.9,33.0 L190.4,33.2 L191.0,33.5 L191.5,33.7 L192.0,34.0 L192.5,34.3 L193.0,34.6 L193.5,35.0 L194.1,35.3 L194.6,35.7 L195.1,36.1 L195.6,36.4 L196.2,36.8 L196.7,37.2 L197.2,37.5 L197.8,37.9 L198.3,38.3 L198.8,38.6 L199.4,39.0 L199.9,39.3 L200.5,39.6 L201.1,39.9 L201.6,40.2 L202.2,40.5 L202.7,40.9 L203.3,41.2 L203.9,41.5 L204.4,41.8 L205.0,42.1 L205.6,42.4 L206.2,42.7 L206.8,42.9 L207.4,43.1 L208.0,43.3 L208.7,43.4 L209.3,43.5 L210.0,43.6 L210.7,43.6 L211.4,43.6 L212.2,43.5 L213.0,43.5 L213.8,43.3 L214.6,43.2 L215.4,43.0 L216.2,42.8 L217.1,42.6 L217.9,42.4 L218.7,42.2 L219.4,41.9 L220.2,41.7 L220.9,41.4 L221.6,41.2 L222.3,41.0 L222.9,40.8 L223.6,40.5 L224.2,40.3 L224.8,40.0 L225.4,39.7 L226.0,39.4 L226.6,39.0 L227.2,38.7 L227.7,38.4 L228.2,38.1 L228.7,37.9 L229.1,37.6 L229.5,37.4 L229.9,37.1 L230.2,37.0 L230.5,36.8" fill="none" stroke="#efc0c0" stroke-width="0.7" stroke-linecap="round" stroke-linejoin="round" opacity="1.0"/>
<polygon points="19.1,89.3 20.9,89.4 9.6,94.8 7.8,94.6" fill="#bababa" stroke="#bababa"/>
<polygon points="239.5,58.0 234.5,58.7 234.5,49.3 239.5,48.5" fill="#ededed" stroke="#ededed"/>
<polygon points="114.1,60.4 115.1,60.1 110.7,62.3 108.8,63.0" fill="#8d8d8d" stroke="#8d8d8d"/>
<path d="M177.5,10.0 L177.9,9.9 L178.3,9.7 L178.8,9.4 L179.3,9.2 L179.9,8.9 L180.6,8.6 L181.2,8.3 L181.9,8.0 L182.7,7.7 L183.4,7.3 L184.1,7.1 L184.8,6.8 L185.5,6.5 L186.2,6.3 L186.9,6.1 L187.5,6.0 L188.1,5.9 L188.7,5.8 L189.3,5.7 L189.9,5.6 L190.6,5.6 L191.2,5.5 L191.8,5.5 L192.4,5.5 L193.0,5.5 L193.5,5.6 L194.1,5.6 L194.6,5.7 L195.1,5.9 L195.6,6.0 L196.1,6.3 L196.5,6.5 L196.9,6.8 L197.3,7.1 L197.6,7.5 L198.0,7.9 L198.3,8.4 L198.6,8.8 L198.9,9.3 L199.1,9.9 L199.4,10.4 L199.6,11.0 L199.8,11.6 L200.0,12.1 L200.1,12.7 L200.3,13.3 L200.4,13.9 L200.5,14.5 L200.6,15.1 L200.6,15.7 L200.6,16.3 L200.7,17.0 L200.6,17.7 L200.6,18.3 L200.5,19.0 L200.5,19.7 L200.4,20.4 L200.2,21.1 L200.1,21.8 L200.0,22.5 L199.8,23.1 L199.6,23.8 L199.4,24.4 L199.2,25.0 L199.0,25.6 L198.7,26.2 L198.4,26.8 L198.0,27.3 L197.6,27.9 L197.2,28.5 L196.8,29.0 L196.4,29.6 L196.0,30.1 L195.6,30.7 L195.2,31.2 L194.8,31.7 L194.4,32.2 L194.1,32.6 L193.8,33.1 L193.5,33.5 L193.3,33.9 L193.0,34.3 L192.8,34.6 L192.6,34.9 L192.4,35.3 L192.3,35.5 L192.1,35.8 L192.0,36.1 L191.8,36.4 L191.7,36.6 L191.6,36.9 L191.5,37.2 L191.4,37.5 L191.3,37.8 L191.2,38.1 L191.1,38.5 L191.0,38.9 L190.9,39.3 L190.9,39.7 L190.8,40.1 L190.7,40.5 L190.7,40.9 L190.6,41.3 L190.6,41.7 L190.6,42.2 L190.5,42.6 L190.5,43.1 L190.5,43.5 L190.5,44.0 L190.5,44.5 L190.5,45.0 L190.5,45.5 L190.5,46.0 L190.6,46.6 L190.6,47.3 L190.7,47.9 L190.7,48.6 L190.8,49.3 L190.9,50.0 L191.0,50.7 L191.0,51.4 L191.1,52.0 L191.2,52.6 L191.3,53.2 L191.4,53.8 L191.4,54.2 L191.5,54.7 L191.5,55.0" fill="none" stroke="#a5a5a5" stroke-width="2.9" stroke-linecap="round" stroke-linejoin="round" opacity="1.0"/>
<path d="M177.5,10.0 L177.9,9.9 L178.3,9.7 L178.8,9.4 L179.3,9.2 L179.9,8.9 L180.6,8.6 L181.2,8.3 L181.9,8.0 L182.7,7.7 L183.4,7.3 L184.1,7.1 L184.8,6.8 L185.5,6.5 L186.2,6.3 L186.9,6.1 L187.5,6.0 L188.1,5.9 L188.7,5.8 L189.3,5.7 L189.9,5.6 L190.6,5.6 L191.2,5.5 L191.8,5.5 L192.4,5.5 L193.0,5.5 L193.5,5.6 L194.1,5.6 L194.6,5.7 L195.1,5.9 L195.6,6.0 L196.1,6.3 L196.5,6.5 L196.9,6.8 L197.3,7.1 L197.6,7.5 L198.0,7.9 L198.3,8.4 L198.6,8.8 L198.9,9.3 L199.1,9.9 L199.4,10.4 L199.6,11.0 L199.8,11.6 L200.0,12.1 L200.1,12.7 L200.3,13.3 L200.4,13.9 L200.5,14.5 L200.6,15.1 L200.6,15.7 L200.6,16.3 L200.7,17.0 L200.6,17.7 L200.6,18.3 L200.5,19.0 L200.5,19.7 L200.4,20.4 L200.2,21.1 L200.1,21.8 L200.0,22.5 L199.8,23.1 L199.6,23.8 L199.4,24.4 L199.2,25.0 L199.0,25.6 L198.7,26.2 L198.4,26.8 L198.0,27.3 L197.6,27.9 L197.2,28.5 L196.8,29.0 L196.4,29.6 L196.0,30.1 L195.6,30.7 L195.2,31.2 L194.8,31.7 L194.4,32.2 L194.1,32.6 L193.8,33.1 L193.5,33.5 L193.3,33.9 L193.0,34.3 L192.8,34.6 L192.6,34.9 L192.4,35.3 L192.3,35.5 L192.1,35.8 L192.0,36.1 L191.8,36.4 L191.7,36.6 L191.6,36.9 L191.5,37.2 L191.4,37.5 L191.3,37.8 L191.2,38.1 L191.1,38.5 L191.0,38.9 L190.9,39.3 L190.9,39.7 L190.8,40.1 L190.7,40.5 L190.7,40.9 L190.6,41.3 L190.6,41.7 L190.6,42.2 L190.5,42.6 L190.5,43.1 L190.5,43.5 L190.5,44.0 L190.5,44.5 L190.5,45.0 L190.5,45.5 L190.5,46.0 L190.6,46.6 L190.6,47.3 L190.7,47.9 L190.7,48.6 L190.8,49.3 L190.9,50.0 L191.0,50.7 L191.0,51.4 L191.1,52.0 L191.2,52.6 L191.3,53.2 L191.4,53.8 L191.4,54.2 L191.5,54.7 L191.5,55.0" fill="none" stroke="#e6e6e6" stroke-width="2.1" stroke-linecap="round" stroke-linejoin="round" opacity="1.0"/>
<path d="M177.5,10.0 L177.9,9.9 L178.3,9.7 L178.8,9.4 L179.3,9.2 L179.9,8.9 L180.6,8.6 L181.2,8.3 L181.9,8.0 L182.7,7.7 L183.4,7.3 L184.1,7.1 L184.8,6.8 L185.5,6.5 L186.2,6.3 L186.9,6.1 L187.5,6.0 L188.1,5.9 L188.7,5.8 L189.3,5.7 L189.9,5.6 L190.6,5.6 L191.2,5.5 L191.8,5.5 L192.4,5.5 L193.0,5.5 L193.5,5.6 L194.1,5.6 L194.6,5.7 L195.1,5.9 L195.6,6.0 L196.1,6.3 L196.5,6.5 L196.9,6.8 L197.3,7.1 L197.6,7.5 L198.0,7.9 L198.3,8.4 L198.6,8.8 L198.9,9.3 L199.1,9.9 L199.4,10.4 L199.6,11.0 L199.8,11.6 L200.0,12.1 L200.1,12.7 L200.3,13.3 L200.4,13.9 L200.5,14.5 L200.6,15.1 L200.6,15.7 L200.6,16.3 L200.7,17.0 L200.6,17.7 L200.6,18.3 L200.5,19.0 L200.5,19.7 L200.4,20.4 L200.2,21.1 L200.1,21.8 L200.0,22.5 L199.8,23.1 L199.6,23.8 L199.4,24.4 L199.2,25.0 L199.0,25.6 L198.7,26.2 L198.4,26.8 L198.0,27.3 L197.6,27.9 L197.2,28.5 L196.8,29.0 L196.4,29.6 L196.0,30.1 L195.6,30.7 L195.2,31.2 L194.8,31.7 L194.4,32.2 L194.1,32.6 L193.8,33.1 L193.5,33.5 L193.3,33.9 L193.0,34.3 L192.8,34.6 L192.6,34.9 L192.4,35.3 L192.3,35.5 L192.1,35.8 L192.0,36.1 L191.8,36.4 L191.7,36.6 L191.6,36.9 L191.5,37.2 L191.4,37.5 L191.3,37.8 L191.2,38.1 L191.1,38.5 L191.0,38.9 L190.9,39.3 L190.9,39.7 L190.8,40.1 L190.7,40.5 L190.7,40.9 L190.6,41.3 L190.6,41.7 L190.6,42.2 L190.5,42.6 L190.5,43.1 L190.5,43.5 L190.5,44.0 L190.5,44.5 L190.5,45.0 L190.5,45.5 L190.5,46.0 L190.6,46.6 L190.6,47.3 L190.7,47.9 L190.7,48.6 L190.8,49.3 L190.9,50.0 L191.0,50.7 L191.0,51.4 L191.1,52.0 L191.2,52.6 L191.3,53.2 L191.4,53.8 L191.4,54.2 L191.5,54.7 L191.5,55.0" fill="none" stroke="#f1f1f1" stroke-width="0.7" stroke-linecap="round" stroke-linejoin="round" opacity="1.0"/>
<path d="M176.0,9.5 L176.4,9.4 L176.8,9.2 L177.3,8.9 L177.8,8.7 L178.4,8.4 L179.1,8.1 L179.7,7.8 L180.4,7.5 L181.2,7.2 L181.9,6.8 L182.6,6.6 L183.3,6.3 L184.0,6.0 L184.7,5.8 L185.4,5.6 L186.0,5.5 L186.6,5.4 L187.2,5.3 L187.8,5.2 L188.4,5.1 L189.1,5.1 L189.7,5.0 L190.3,5.0 L190.9,5.0 L191.5,5.0 L192.0,5.1 L192.6,5.1 L193.1,5.2 L193.6,5.4 L194.1,5.5 L194.6,5.8 L195.0,6.0 L195.4,6.3 L195.8,6.6 L196.1,7.0 L196.5,7.4 L196.8,7.9 L197.1,8.3 L197.4,8.8 L197.6,9.4 L197.9,9.9 L198.1,10.5 L198.3,11.1 L198.5,11.6 L198.6,12.2 L198.8,12.8 L198.9,13.4 L199.0,14.0 L199.1,14.6 L199.1,15.2 L199.1,15.8 L199.2,16.5 L199.1,17.2 L199.1,17.8 L199.0,18.5 L199.0,19.2 L198.9,19.9 L198.7,20.6 L198.6,21.3 L198.5,22.0 L198.3,22.6 L198.1,23.3 L197.9,23.9 L197.7,24.5 L197.5,25.1 L197.2,25.7 L196.9,26.3 L196.5,26.8 L196.1,27.4 L195.7,28.0 L195.3,28.5 L194.9,29.1 L194.5,29.6 L194.1,30.2 L193.7,30.7 L193.3,31.2 L192.9,31.7 L192.6,32.1 L192.3,32.6 L192.0,33.0 L191.8,33.4 L191.5,33.8 L191.3,34.1 L191.1,34.4 L190.9,34.8 L190.8,35.0 L190.6,35.3 L190.5,35.6 L190.3,35.9 L190.2,36.1 L190.1,36.4 L190.0,36.7 L189.9,37.0 L189.8,37.3 L189.7,37.6 L189.6,38.0 L189.5,38.4 L189.4,38.8 L189.4,39.2 L189.3,39.6 L189.2,40.0 L189.2,40.4 L189.1,40.8 L189.1,41.2 L189.1,41.7 L189.0,42.1 L189.0,42.6 L189.0,43.0 L189.0,43.5 L189.0,44.0 L189.0,44.5 L189.0,45.0 L189.0,45.5 L189.1,46.1 L189.1,46.8 L189.2,47.4 L189.2,48.1 L189.3,48.8 L189.4,49.5 L189.5,50.2 L189.5,50.9 L189.6,51.5 L189.7,52.1 L189.8,52.7 L189.9,53.3 L189.9,53.8 L190.0,54.2 L190.0,54.5" fill="none" stroke="#b26e6e" stroke-width="2.9" stroke-linecap="round" stroke-linejoin="round" opacity="1.0"/>
<path d="M176.0,9.5 L176.4,9.4 L176.8,9.2 L177.3,8.9 L177.8,8.7 L178.4,8.4 L179.1,8.1 L179.7,7.8 L180.4,7.5 L181.2,7.2 L181.9,6.8 L182.6,6.6 L183.3,6.3 L184.0,6.0 L184.7,5.8 L185.4,5.6 L186.0,5.5 L186.6,5.4 L187.2,5.3 L187.8,5.2 L188.4,5.1 L189.1,5.1 L189.7,5.0 L190.3,5.0 L190.9,5.0 L191.5,5.0 L192.0,5.1 L192.6,5.1 L193.1,5.2 L193.6,5.4 L194.1,5.5 L194.6,5.8 L195.0,6.0 L195.4,6.3 L195.8,6.6 L196.1,7.0 L196.5,7.4 L196.8,7.9 L197.1,8.3 L197.4,8.8 L197.6,9.4 L197.9,9.9 L198.1,10.5 L198.3,11.1 L198.5,11.6 L198.6,12.2 L198.8,12.8 L198.9,13.4 L199.0,14.0 L199.1,14.6 L199.1,15.2 L199.1,15.8 L199.2,16.5 L199.1,17.2 L199.1,17.8 L199.0,18.5 L199.0,19.2 L198.9,19.9 L198.7,20.6 L198.6,21.3 L198.5,22.0 L198.3,22.6 L198.1,23.3 L197.9,23.9 L197.7,24.5 L197.5,25.1 L197.2,25.7 L196.9,26.3 L196.5,26.8 L196.1,27.4 L195.7,28.0 L195.3,28.5 L194.9,29.1 L194.5,29.6 L194.1,30.2 L193.7,30.7 L193.3,31.2 L192.9,31.7 L192.6,32.1 L192.3,32.6 L192.0,33.0 L191.8,33.4 L191.5,33.8 L191.3,34.1 L191.1,34.4 L190.9,34.8 L190.8,35.0 L190.6,35.3 L190.5,35.6 L190.3,35.9 L190.2,36.1 L190.1,36.4 L190.0,36.7 L189.9,37.0 L189.8,37.3 L189.7,37.6 L189.6,38.0 L189.5,38.4 L189.4,38.8 L189.4,39.2 L189.3,39.6 L189.2,40.0 L189.2,40.4 L189.1,40.8 L189.1,41.2 L189.1,41.7 L189.0,42.1 L189.0,42.6 L189.0,43.0 L189.0,43.5 L189.0,44.0 L189.0,44.5 L189.0,45.0 L189.0,45.5 L189.1,46.1 L189.1,46.8 L189.2,47.4 L189.2,48.1 L189.3,48.8 L189.4,49.5 L189.5,50.2 L189.5,50.9 L189.6,51.5 L189.7,52.1 L189.8,52.7 L189.9,53.3 L189.9,53.8 L190.0,54.2 L190.0,54.5" fill="none" stroke="#e28e8e" stroke-width="2.1" stroke-linecap="round" stroke-linejoin="round" opacity="1.0"/>
<path d="M176.0,9.5 L176.4,9.4 L176.8,9.2 L177.3,8.9 L177.8,8.7 L178.4,8.4 L179.1,8.1 L179.7,7.8 L180.4,7.5 L181.2,7.2 L181.9,6.8 L182.6,6.6 L183.3,6.3 L184.0,6.0 L184.7,5.8 L185.4,5.6 L186.0,5.5 L186.6,5.4 L187.2,5.3 L187.8,5.2 L188.4,5.1 L189.1,5.1 L189.7,5.0 L190.3,5.0 L190.9,5.0 L191.5,5.0 L192.0,5.1 L192.6,5.1 L193.1,5.2 L193.6,5.4 L194.1,5.5 L194.6,5.8 L195.0,6.0 L195.4,6.3 L195.8,6.6 L196.1,7.0 L196.5,7.4 L196.8,7.9 L197.1,8.3 L197.4,8.8 L197.6,9.4 L197.9,9.9 L198.1,10.5 L198.3,11.1 L198.5,11.6 L198.6,12.2 L198.8,12.8 L198.9,13.4 L199.0,14.0 L199.1,14.6 L199.1,15.2 L199.1,15.8 L199.2,16.5 L199.1,17.2 L199.1,17.8 L199.0,18.5 L199.0,19.2 L198.9,19.9 L198.7,20.6 L198.6,21.3 L198.5,22.0 L198.3,22.6 L198.1,23.3 L197.9,23.9 L197.7,24.5 L197.5,25.1 L197.2,25.7 L196.9,26.3 L196.5,26.8 L196.1,27.4 L195.7,28.0 L195.3,28.5 L194.9,29.1 L194.5,29.6 L194.1,30.2 L193.7,30.7 L193.3,31.2 L192.9,31.7 L192.6,32.1 L192.3,32.6 L192.0,33.0 L191.8,33.4 L191.5,33.8 L191.3,34.1 L191.1,34.4 L190.9,34.8 L190.8,35.0 L190.6,35.3 L190.5,35.6 L190.3,35.9 L190.2,36.1 L190.1,36.4 L190.0,36.7 L189.9,37.0 L189.8,37.3 L189.7,37.6 L189.6,38.0 L189.5,38.4 L189.4,38.8 L189.4,39.2 L189.3,39.6 L189.2,40.0 L189.2,40.4 L189.1,40.8 L189.1,41.2 L189.1,41.7 L189.0,42.1 L189.0,42.6 L189.0,43.0 L189.0,43.5 L189.0,44.0 L189.0,44.5 L189.0,45.0 L189.0,45.5 L189.1,46.1 L189.1,46.8 L189.2,47.4 L189.2,48.1 L189.3,48.8 L189.4,49.5 L189.5,50.2 L189.5,50.9 L189.6,51.5 L189.7,52.1 L189.8,52.7 L189.9,53.3 L189.9,53.8 L190.0,54.2 L190.0,54.5" fill="none" stroke="#efc0c0" stroke-width="0.7" stroke-linecap="round" stroke-linejoin="round" opacity="1.0"/>
<polygon points="221.6,97.6 224.5,101.1 224.5,91.5 221.6,88.1" fill="#7d4646" stroke="#7d4646"/>
<polygon points="163.2,82.5 166.0,79.4 158.5,84.1 155.7,87.2" fill="#894c4c" stroke="#894c4c"/>
<polygon points="234.5,58.7 229.6,60.5 229.6,51.0 234.5,49.3" fill="#f2f2f2" stroke="#f2f2f2"/>
<polygon points="45.4,75.8 47.2,76.1 36.3,82.1 34.5,81.8" fill="#c0c0c0" stroke="#c0c0c0"/>
<polygon points="94.4,77.9 96.2,78.2 85.1,83.8 83.2,83.5" fill="#767676" stroke="#767676"/>
<polygon points="164.1,58.5 161.3,55.9 153.8,60.6 156.6,63.2" fill="#7a4444" stroke="#7a4444"/>
<polygon points="243.1,106.9 247.2,106.1 247.2,96.6 243.1,97.3" fill="#ad6161" stroke="#ad6161"/>
<polygon points="-15.8,126.5 -13.8,125.2 -19.5,125.2 -20.2,126.6" fill="#583131" stroke="#583131"/>
<polygon points="301.3,82.1 298.9,81.7 289.4,79.0 291.8,79.4" fill="#7e4343" stroke="#7e4343"/>
<polygon points="72.4,61.4 74.4,61.9 63.3,67.5 61.3,67.1" fill="#c06b6b" stroke="#c06b6b"/>
<polygon points="67.8,91.2 69.8,91.6 58.9,97.7 56.9,97.3" fill="#767676" stroke="#767676"/>
<polygon points="100.1,48.6 102.5,49.9 91.2,55.5 88.9,54.2" fill="#cdcdcd" stroke="#cdcdcd"/>
<polygon points="275.4,147.2 276.7,147.4 262.6,143.8 261.4,143.8" fill="#734040" stroke="#734040"/>
<polygon points="250.7,142.5 252.0,142.4 237.5,141.2 236.2,141.3" fill="#764242" stroke="#764242"/>
<polygon points="223.9,140.8 225.3,140.7 210.8,140.2 209.4,140.4" fill="#7c7c7c" stroke="#7c7c7c"/>
<polygon points="197.0,140.3 198.4,140.1 183.9,140.3 182.5,140.5" fill="#7c7c7c" stroke="#7c7c7c"/>
<polygon points="169.7,140.8 171.1,140.6 156.6,141.0 155.2,141.3" fill="#7d7d7d" stroke="#7d7d7d"/>
<polygon points="142.3,141.6 143.7,141.4 129.2,141.9 127.8,142.1" fill="#794343" stroke="#794343"/>
<polygon points="114.9,142.6 116.2,142.4 101.7,142.9 100.4,143.2" fill="#7d7d7d" stroke="#7d7d7d"/>
<polygon points="87.3,143.6 88.7,143.4 74.2,143.9 72.8,144.1" fill="#7d7d7d" stroke="#7d7d7d"/>
<polygon points="59.6,144.4 61.0,144.2 46.5,144.5 45.1,144.7" fill="#7c7c7c" stroke="#7c7c7c"/>
<polygon points="31.9,144.8 33.3,144.6 18.8,144.7 17.4,144.8" fill="#7c7c7c" stroke="#7c7c7c"/>
<polygon points="4.4,144.9 5.8,144.7 -8.7,144.7 -10.1,144.9" fill="#784343" stroke="#784343"/>
<polygon points="40.4,105.7 42.5,106.4 31.3,111.9 29.2,111.2" fill="#7c7c7c" stroke="#7c7c7c"/>
<polygon points="112.8,59.9 114.1,60.4 108.8,63.0 106.5,63.0" fill="#b4b4b4" stroke="#b4b4b4"/>
<polygon points="-5.9,103.4 -4.1,103.6 -15.5,108.9 -17.2,108.7" fill="#cc7272" stroke="#cc7272"/>
<polygon points="159.6,84.4 163.2,82.5 155.7,87.2 152.1,89.1" fill="#724040" stroke="#724040"/>
<polygon points="-13.8,125.2 -11.8,124.4 -18.7,124.4 -19.5,125.2" fill="#9a5656" stroke="#9a5656"/>
<polygon points="137.8,69.3 138.5,72.8 131.1,77.5 130.4,74.0" fill="#d5b2b2" stroke="#d5b2b2"/>
<polygon points="296.1,124.7 297.1,126.2 283.3,121.7 282.3,120.3" fill="#969696" stroke="#969696"/>
<polygon points="18.1,117.0 19.5,117.2 5.0,117.2 3.6,117.1" fill="#9f9f9f" stroke="#9f9f9f"/>
<polygon points="45.5,116.8 46.9,117.0 32.4,117.1 31.0,117.0" fill="#9f9f9f" stroke="#9f9f9f"/>
<polygon points="72.8,116.3 74.1,116.4 59.6,116.8 58.3,116.6" fill="#a0a0a0" stroke="#a0a0a0"/>
<polygon points="100.1,115.3 101.5,115.5 87.0,116.0 85.6,115.9" fill="#a0a0a0" stroke="#a0a0a0"/>
<polygon points="127.6,114.3 129.0,114.4 114.5,115.0 113.1,114.9" fill="#a0a0a0" stroke="#a0a0a0"/>
<polygon points="155.2,113.4 156.6,113.6 142.1,114.0 140.7,113.8" fill="#a0a0a0" stroke="#a0a0a0"/>
<polygon points="182.7,112.7 184.1,112.8 169.6,113.2 168.2,113.1" fill="#a0a0a0" stroke="#a0a0a0"/>
<polygon points="210.7,112.6 212.1,112.8 197.6,112.6 196.2,112.4" fill="#9f9f9f" stroke="#9f9f9f"/>
<polygon points="238.7,113.7 240.1,113.9 225.6,113.2 224.2,113.0" fill="#995656" stroke="#995656"/>
<polygon points="267.2,116.6 268.6,117.1 254.3,115.1 252.8,114.7" fill="#965454" stroke="#965454"/>
<polygon points="12.8,118.4 14.9,119.4 3.6,124.7 1.4,123.7" fill="#848484" stroke="#848484"/>
<polygon points="251.9,81.7 250.5,79.8 250.5,70.2 251.9,72.2" fill="#7f7f7f" stroke="#7f7f7f"/>
<polygon points="220.1,93.8 221.6,97.6 221.6,88.1 220.1,84.2" fill="#613636" stroke="#613636"/>
<path d="M107.0,49.0 L107.3,49.1 L107.6,49.2 L108.0,49.2 L108.5,49.3 L109.0,49.4 L109.5,49.5 L110.0,49.7 L110.6,49.8 L111.2,49.9 L111.8,50.1 L112.4,50.2 L113.0,50.4 L113.6,50.6 L114.1,50.8 L114.7,51.1 L115.2,51.3 L115.7,51.6 L116.2,51.9 L116.8,52.2 L117.3,52.6 L117.9,53.0 L118.4,53.4 L119.0,53.8 L119.5,54.2 L120.1,54.6 L120.6,55.1 L121.1,55.5 L121.6,55.9 L122.1,56.2 L122.5,56.6 L122.9,56.9 L123.3,57.2 L123.7,57.5 L124.0,57.7 L124.3,58.0 L124.6,58.2 L124.9,58.4 L125.2,58.6 L125.4,58.8 L125.7,59.0 L125.9,59.1 L126.1,59.3 L126.3,59.4 L126.4,59.6 L126.6,59.7 L126.7,59.8 L126.9,59.9 L127.0,60.0" fill="none" stroke="#a5a5a5" stroke-width="2.9" stroke-linecap="round" stroke-linejoin="round" opacity="1.0"/>
<path d="M107.0,49.0 L107.3,49.1 L107.6,49.2 L108.0,49.2 L108.5,49.3 L109.0,49.4 L109.5,49.5 L110.0,49.7 L110.6,49.8 L111.2,49.9 L111.8,50.1 L112.4,50.2 L113.0,50.4 L113.6,50.6 L114.1,50.8 L114.7,51.1 L115.2,51.3 L115.7,51.6 L116.2,51.9 L116.8,52.2 L117.3,52.6 L117.9,53.0 L118.4,53.4 L119.0,53.8 L119.5,54.2 L120.1,54.6 L120.6,55.1 L121.1,55.5 L121.6,55.9 L122.1,56.2 L122.5,56.6 L122.9,56.9 L123.3,57.2 L123.7,57.5 L124.0,57.7 L124.3,58.0 L124.6,58.2 L124.9,58.4 L125.2,58.6 L125.4,58.8 L125.7,59.0 L125.9,59.1 L126.1,59.3 L126.3,59.4 L126.4,59.6 L126.6,59.7 L126.7,59.8 L126.9,59.9 L127.0,60.0" fill="none" stroke="#e6e6e6" stroke-width="2.1" stroke-linecap="round" stroke-linejoin="round" opacity="1.0"/>
<path d="M107.0,49.0 L107.3,49.1 L107.6,49.2 L108.0,49.2 L108.5,49.3 L109.0,49.4 L109.5,49.5 L110.0,49.7 L110.6,49.8 L111.2,49.9 L111.8,50.1 L112.4,50.2 L113.0,50.4 L113.6,50.6 L114.1,50.8 L114.7,51.1 L115.2,51.3 L115.7,51.6 L116.2,51.9 L116.8,52.2 L117.3,52.6 L117.9,53.0 L118.4,53.4 L119.0,53.8 L119.5,54.2 L120.1,54.6 L120.6,55.1 L121.1,55.5 L121.6,55.9 L122.1,56.2 L122.5,56.6 L122.9,56.9 L123.3,57.2 L123.7,57.5 L124.0,57.7 L124.3,58.0 L124.6,58.2 L124.9,58.4 L125.2,58.6 L125.4,58.8 L125.7,59.0 L125.9,59.1 L126.1,59.3 L126.3,59.4 L126.4,59.6 L126.6,59.7 L126.7,59.8 L126.9,59.9 L127.0,60.0" fill="none" stroke="#f1f1f1" stroke-width="0.7" stroke-linecap="round" stroke-linejoin="round" opacity="1.0"/>
<path d="M107.0,47.0 L107.3,47.1 L107.6,47.2 L108.0,47.2 L108.5,47.3 L109.0,47.4 L109.5,47.5 L110.0,47.7 L110.6,47.8 L111.2,47.9 L111.8,48.1 L112.4,48.2 L113.0,48.4 L113.6,48.6 L114.1,48.8 L114.7,49.1 L115.2,49.3 L115.7,49.6 L116.2,49.9 L116.8,50.2 L117.3,50.6 L117.9,51.0 L118.4,51.4 L119.0,51.8 L119.5,52.2 L120.1,52.6 L120.6,53.1 L121.1,53.5 L121.6,53.9 L122.1,54.2 L122.5,54.6 L122.9,54.9 L123.3,55.2 L123.7,55.5 L124.0,55.7 L124.3,56.0 L124.6,56.2 L124.9,56.4 L125.2,56.6 L125.4,56.8 L125.7,57.0 L125.9,57.1 L126.1,57.3 L126.3,57.4 L126.4,57.6 L126.6,57.7 L126.7,57.8 L126.9,57.9 L127.0,58.0" fill="none" stroke="#b26e6e" stroke-width="2.9" stroke-linecap="round" stroke-linejoin="round" opacity="1.0"/>
<path d="M107.0,47.0 L107.3,47.1 L107.6,47.2 L108.0,47.2 L108.5,47.3 L109.0,47.4 L109.5,47.5 L110.0,47.7 L110.6,47.8 L111.2,47.9 L111.8,48.1 L112.4,48.2 L113.0,48.4 L113.6,48.6 L114.1,48.8 L114.7,49.1 L115.2,49.3 L115.7,49.6 L116.2,49.9 L116.8,50.2 L117.3,50.6 L117.9,51.0 L118.4,51.4 L119.0,51.8 L119.5,52.2 L120.1,52.6 L120.6,53.1 L121.1,53.5 L121.6,53.9 L122.1,54.2 L122.5,54.6 L122.9,54.9 L123.3,55.2 L123.7,55.5 L124.0,55.7 L124.3,56.0 L124.6,56.2 L124.9,56.4 L125.2,56.6 L125.4,56.8 L125.7,57.0 L125.9,57.1 L126.1,57.3 L126.3,57.4 L126.4,57.6 L126.6,57.7 L126.7,57.8 L126.9,57.9 L127.0,58.0" fill="none" stroke="#e28e8e" stroke-width="2.1" stroke-linecap="round" stroke-linejoin="round" opacity="1.0"/>
<path d="M107.0,47.0 L107.3,47.1 L107.6,47.2 L108.0,47.2 L108.5,47.3 L109.0,47.4 L109.5,47.5 L110.0,47.7 L110.6,47.8 L111.2,47.9 L111.8,48.1 L112.4,48.2 L113.0,48.4 L113.6,48.6 L114.1,48.8 L114.7,49.1 L115.2,49.3 L115.7,49.6 L116.2,49.9 L116.8,50.2 L117.3,50.6 L117.9,51.0 L118.4,51.4 L119.0,51.8 L119.5,52.2 L120.1,52.6 L120.6,53.1 L121.1,53.5 L121.6,53.9 L122.1,54.2 L122.5,54.6 L122.9,54.9 L123.3,55.2 L123.7,55.5 L124.0,55.7 L124.3,56.0 L124.6,56.2 L124.9,56.4 L125.2,56.6 L125.4,56.8 L125.7,57.0 L125.9,57.1 L126.1,57.3 L126.3,57.4 L126.4,57.6 L126.6,57.7 L126.7,57.8 L126.9,57.9 L127.0,58.0" fill="none" stroke="#efc0c0" stroke-width="0.7" stroke-linecap="round" stroke-linejoin="round" opacity="1.0"/>
<path d="M296.6,144.7 L296.6,144.8 L296.7,145.0 L296.7,145.1 L296.8,145.3 L296.8,145.5 L296.8,145.8 L296.9,146.0 L296.9,146.3 L297.0,146.5 L297.0,146.8 L297.1,147.1 L297.1,147.3 L297.1,147.6 L297.1,147.9 L297.1,148.1 L297.1,148.3 L297.1,148.6 L297.0,148.8 L296.8,149.1 L296.7,149.4 L296.5,149.7 L296.3,150.0 L296.1,150.3 L295.9,150.6 L295.7,150.9 L295.6,151.2 L295.5,151.4 L295.5,151.6 L295.5,151.8 L295.6,151.9 L295.7,152.0 L296.0,152.0 L296.4,152.0 L296.8,151.9 L297.3,151.8 L297.9,151.6 L298.5,151.4 L299.2,151.2 L300.0,150.9 L300.7,150.7 L301.5,150.4 L302.3,150.1 L303.2,149.8 L304.0,149.5 L304.8,149.2 L305.5,149.0 L306.3,148.7 L307.0,148.5 L307.7,148.3 L308.5,148.1 L309.2,147.9 L310.0,147.6 L310.8,147.4 L311.6,147.2 L312.4,147.0 L313.2,146.8 L313.9,146.6 L314.7,146.4 L315.4,146.2 L316.0,146.0 L316.6,145.9 L317.2,145.7 L317.6,145.6 L318.0,145.5" fill="none" stroke="#a5a5a5" stroke-width="3.8" stroke-linecap="round" stroke-linejoin="round" opacity="1.0"/>
<path d="M296.6,144.7 L296.6,144.8 L296.7,145.0 L296.7,145.1 L296.8,145.3 L296.8,145.5 L296.8,145.8 L296.9,146.0 L296.9,146.3 L297.0,146.5 L297.0,146.8 L297.1,147.1 L297.1,147.3 L297.1,147.6 L297.1,147.9 L297.1,148.1 L297.1,148.3 L297.1,148.6 L297.0,148.8 L296.8,149.1 L296.7,149.4 L296.5,149.7 L296.3,150.0 L296.1,150.3 L295.9,150.6 L295.7,150.9 L295.6,151.2 L295.5,151.4 L295.5,151.6 L295.5,151.8 L295.6,151.9 L295.7,152.0 L296.0,152.0 L296.4,152.0 L296.8,151.9 L297.3,151.8 L297.9,151.6 L298.5,151.4 L299.2,151.2 L300.0,150.9 L300.7,150.7 L301.5,150.4 L302.3,150.1 L303.2,149.8 L304.0,149.5 L304.8,149.2 L305.5,149.0 L306.3,148.7 L307.0,148.5 L307.7,148.3 L308.5,148.1 L309.2,147.9 L310.0,147.6 L310.8,147.4 L311.6,147.2 L312.4,147.0 L313.2,146.8 L313.9,146.6 L314.7,146.4 L315.4,146.2 L316.0,146.0 L316.6,145.9 L317.2,145.7 L317.6,145.6 L318.0,145.5" fill="none" stroke="#e6e6e6" stroke-width="3.0" stroke-linecap="round" stroke-linejoin="round" opacity="1.0"/>
<path d="M296.6,144.7 L296.6,144.8 L296.7,145.0 L296.7,145.1 L296.8,145.3 L296.8,145.5 L296.8,145.8 L296.9,146.0 L296.9,146.3 L297.0,146.5 L297.0,146.8 L297.1,147.1 L297.1,147.3 L297.1,147.6 L297.1,147.9 L297.1,148.1 L297.1,148.3 L297.1,148.6 L297.0,148.8 L296.8,149.1 L296.7,149.4 L296.5,149.7 L296.3,150.0 L296.1,150.3 L295.9,150.6 L295.7,150.9 L295.6,151.2 L295.5,151.4 L295.5,151.6 L295.5,151.8 L295.6,151.9 L295.7,152.0 L296.0,152.0 L296.4,152.0 L296.8,151.9 L297.3,151.8 L297.9,151.6 L298.5,151.4 L299.2,151.2 L300.0,150.9 L300.7,150.7 L301.5,150.4 L302.3,150.1 L303.2,149.8 L304.0,149.5 L304.8,149.2 L305.5,149.0 L306.3,148.7 L307.0,148.5 L307.7,148.3 L308.5,148.1 L309.2,147.9 L310.0,147.6 L310.8,147.4 L311.6,147.2 L312.4,147.0 L313.2,146.8 L313.9,146.6 L314.7,146.4 L315.4,146.2 L316.0,146.0 L316.6,145.9 L317.2,145.7 L317.6,145.6 L318.0,145.5" fill="none" stroke="#f1f1f1" stroke-width="1.0" stroke-linecap="round" stroke-linejoin="round" opacity="1.0"/>
<polygon points="161.3,55.9 158.4,54.5 150.9,59.2 153.8,60.6" fill="#653838" stroke="#653838"/>
<polygon points="20.9,89.4 23.1,90.6 11.8,96.0 9.6,94.8" fill="#d9d9d9" stroke="#d9d9d9"/>
<polygon points="297.8,145.5 298.7,145.3 294.5,144.1 292.4,143.8" fill="#7b7b7b" stroke="#7b7b7b"/>
<polygon points="111.1,58.6 112.8,59.9 106.5,63.0 103.8,62.3" fill="#d6d6d6" stroke="#d6d6d6"/>
<polygon points="102.5,49.9 104.6,52.1 94.3,57.1 91.2,55.5" fill="#e6e6e6" stroke="#e6e6e6"/>
<path d="M124.5,54.0 L124.4,54.5 L124.3,55.2 L124.2,56.0 L124.1,56.9 L123.9,57.8 L123.8,58.8 L123.6,59.9 L123.4,61.0 L123.3,62.1 L123.1,63.3 L122.9,64.4 L122.8,65.5 L122.6,66.5 L122.5,67.5 L122.3,68.4 L122.2,69.2 L122.1,69.9 L122.0,70.7 L121.9,71.3 L121.9,72.0 L121.8,72.6 L121.8,73.2 L121.7,73.7 L121.7,74.3 L121.6,74.8 L121.6,75.4 L121.5,75.9 L121.4,76.4 L121.4,76.9 L121.3,77.4 L121.1,78.0 L121.0,78.5 L120.8,79.1 L120.6,79.6 L120.4,80.2 L120.2,80.8 L120.0,81.4 L119.7,82.0 L119.4,82.6 L119.2,83.2 L118.9,83.7 L118.7,84.3 L118.4,84.8 L118.2,85.3 L118.0,85.7 L117.8,86.1 L117.6,86.4 L117.5,86.7" fill="none" stroke="#969696" stroke-width="3.4" stroke-linecap="round" stroke-linejoin="round" opacity="1.0"/>
<path d="M124.5,54.0 L124.4,54.5 L124.3,55.2 L124.2,56.0 L124.1,56.9 L123.9,57.8 L123.8,58.8 L123.6,59.9 L123.4,61.0 L123.3,62.1 L123.1,63.3 L122.9,64.4 L122.8,65.5 L122.6,66.5 L122.5,67.5 L122.3,68.4 L122.2,69.2 L122.1,69.9 L122.0,70.7 L121.9,71.3 L121.9,72.0 L121.8,72.6 L121.8,73.2 L121.7,73.7 L121.7,74.3 L121.6,74.8 L121.6,75.4 L121.5,75.9 L121.4,76.4 L121.4,76.9 L121.3,77.4 L121.1,78.0 L121.0,78.5 L120.8,79.1 L120.6,79.6 L120.4,80.2 L120.2,80.8 L120.0,81.4 L119.7,82.0 L119.4,82.6 L119.2,83.2 L118.9,83.7 L118.7,84.3 L118.4,84.8 L118.2,85.3 L118.0,85.7 L117.8,86.1 L117.6,86.4 L117.5,86.7" fill="none" stroke="#e4e4e4" stroke-width="2.6" stroke-linecap="round" stroke-linejoin="round" opacity="1.0"/>
<path d="M124.5,54.0 L124.4,54.5 L124.3,55.2 L124.2,56.0 L124.1,56.9 L123.9,57.8 L123.8,58.8 L123.6,59.9 L123.4,61.0 L123.3,62.1 L123.1,63.3 L122.9,64.4 L122.8,65.5 L122.6,66.5 L122.5,67.5 L122.3,68.4 L122.2,69.2 L122.1,69.9 L122.0,70.7 L121.9,71.3 L121.9,72.0 L121.8,72.6 L121.8,73.2 L121.7,73.7 L121.7,74.3 L121.6,74.8 L121.6,75.4 L121.5,75.9 L121.4,76.4 L121.4,76.9 L121.3,77.4 L121.1,78.0 L121.0,78.5 L120.8,79.1 L120.6,79.6 L120.4,80.2 L120.2,80.8 L120.0,81.4 L119.7,82.0 L119.4,82.6 L119.2,83.2 L118.9,83.7 L118.7,84.3 L118.4,84.8 L118.2,85.3 L118.0,85.7 L117.8,86.1 L117.6,86.4 L117.5,86.7" fill="none" stroke="#f0f0f0" stroke-width="0.9" stroke-linecap="round" stroke-linejoin="round" opacity="1.0"/>
<polygon points="247.2,106.1 250.2,104.7 250.2,95.1 247.2,96.6" fill="#9d5858" stroke="#9d5858"/>
<polygon points="47.2,76.1 49.6,77.3 38.7,83.4 36.3,82.1" fill="#dedede" stroke="#dedede"/>
<polygon points="92.0,76.5 94.4,77.9 83.2,83.5 80.8,82.1" fill="#959595" stroke="#959595"/>
<polygon points="155.4,85.1 159.6,84.4 152.1,89.1 148.0,89.8" fill="#786464" stroke="#786464"/>
<polygon points="298.9,81.7 296.4,82.5 286.9,79.8 289.4,79.0" fill="#975050" stroke="#975050"/>
<polygon points="-11.8,124.4 -9.8,124.3 -18.0,124.3 -18.7,124.4" fill="#bc6969" stroke="#bc6969"/>
<polygon points="74.4,61.9 76.9,63.4 65.7,69.1 63.3,67.5" fill="#da7a7a" stroke="#da7a7a"/>
<polygon points="65.3,89.7 67.8,91.2 56.9,97.3 54.4,95.9" fill="#9c9c9c" stroke="#9c9c9c"/>
<polygon points="138.5,72.8 140.4,76.5 132.9,81.2 131.1,77.5" fill="#d7b3b3" stroke="#d7b3b3"/>
<path d="M133.8,52.8 L133.6,53.3 L133.3,53.9 L133.1,54.6 L132.7,55.5 L132.4,56.3 L132.0,57.3 L131.6,58.3 L131.2,59.3 L130.8,60.3 L130.3,61.4 L129.9,62.4 L129.5,63.4 L129.1,64.3 L128.7,65.2 L128.3,66.1 L128.0,66.8 L127.7,67.5 L127.4,68.1 L127.1,68.7 L126.8,69.3 L126.5,69.8 L126.2,70.4 L125.9,70.9 L125.6,71.3 L125.4,71.8 L125.1,72.3 L124.8,72.7 L124.5,73.2 L124.2,73.6 L123.9,74.1 L123.6,74.5 L123.3,75.0 L123.0,75.5 L122.6,75.9 L122.3,76.4 L122.0,76.8 L121.6,77.3 L121.3,77.7 L120.9,78.1 L120.5,78.6 L120.2,79.0 L119.8,79.4 L119.4,79.9 L119.1,80.3 L118.7,80.7 L118.3,81.1 L117.9,81.6 L117.5,82.0 L117.1,82.4 L116.7,82.9 L116.2,83.3 L115.8,83.8 L115.3,84.2 L114.8,84.6 L114.3,85.1 L113.9,85.5 L113.4,85.9 L112.9,86.4 L112.5,86.8 L112.0,87.2 L111.6,87.7 L111.2,88.1 L110.8,88.6 L110.5,89.0 L110.2,89.5 L109.9,89.9 L109.6,90.4 L109.3,90.9 L109.0,91.4 L108.8,91.9 L108.5,92.4 L108.3,92.9 L108.1,93.4 L107.9,93.9 L107.7,94.3 L107.5,94.7 L107.4,95.1 L107.2,95.5 L107.1,95.8 L107.0,96.0" fill="none" stroke="#aa6464" stroke-width="3.4" stroke-linecap="round" stroke-linejoin="round" opacity="1.0"/>
<path d="M133.8,52.8 L133.6,53.3 L133.3,53.9 L133.1,54.6 L132.7,55.5 L132.4,56.3 L132.0,57.3 L131.6,58.3 L131.2,59.3 L130.8,60.3 L130.3,61.4 L129.9,62.4 L129.5,63.4 L129.1,64.3 L128.7,65.2 L128.3,66.1 L128.0,66.8 L127.7,67.5 L127.4,68.1 L127.1,68.7 L126.8,69.3 L126.5,69.8 L126.2,70.4 L125.9,70.9 L125.6,71.3 L125.4,71.8 L125.1,72.3 L124.8,72.7 L124.5,73.2 L124.2,73.6 L123.9,74.1 L123.6,74.5 L123.3,75.0 L123.0,75.5 L122.6,75.9 L122.3,76.4 L122.0,76.8 L121.6,77.3 L121.3,77.7 L120.9,78.1 L120.5,78.6 L120.2,79.0 L119.8,79.4 L119.4,79.9 L119.1,80.3 L118.7,80.7 L118.3,81.1 L117.9,81.6 L117.5,82.0 L117.1,82.4 L116.7,82.9 L116.2,83.3 L115.8,83.8 L115.3,84.2 L114.8,84.6 L114.3,85.1 L113.9,85.5 L113.4,85.9 L112.9,86.4 L112.5,86.8 L112.0,87.2 L111.6,87.7 L111.2,88.1 L110.8,88.6 L110.5,89.0 L110.2,89.5 L109.9,89.9 L109.6,90.4 L109.3,90.9 L109.0,91.4 L108.8,91.9 L108.5,92.4 L108.3,92.9 L108.1,93.4 L107.9,93.9 L107.7,94.3 L107.5,94.7 L107.4,95.1 L107.2,95.5 L107.1,95.8 L107.0,96.0" fill="none" stroke="#e18c8c" stroke-width="2.6" stroke-linecap="round" stroke-linejoin="round" opacity="1.0"/>
<path d="M133.8,52.8 L133.6,53.3 L133.3,53.9 L133.1,54.6 L132.7,55.5 L132.4,56.3 L132.0,57.3 L131.6,58.3 L131.2,59.3 L130.8,60.3 L130.3,61.4 L129.9,62.4 L129.5,63.4 L129.1,64.3 L128.7,65.2 L128.3,66.1 L128.0,66.8 L127.7,67.5 L127.4,68.1 L127.1,68.7 L126.8,69.3 L126.5,69.8 L126.2,70.4 L125.9,70.9 L125.6,71.3 L125.4,71.8 L125.1,72.3 L124.8,72.7 L124.5,73.2 L124.2,73.6 L123.9,74.1 L123.6,74.5 L123.3,75.0 L123.0,75.5 L122.6,75.9 L122.3,76.4 L122.0,76.8 L121.6,77.3 L121.3,77.7 L120.9,78.1 L120.5,78.6 L120.2,79.0 L119.8,79.4 L119.4,79.9 L119.1,80.3 L118.7,80.7 L118.3,81.1 L117.9,81.6 L117.5,82.0 L117.1,82.4 L116.7,82.9 L116.2,83.3 L115.8,83.8 L115.3,84.2 L114.8,84.6 L114.3,85.1 L113.9,85.5 L113.4,85.9 L112.9,86.4 L112.5,86.8 L112.0,87.2 L111.6,87.7 L111.2,88.1 L110.8,88.6 L110.5,89.0 L110.2,89.5 L109.9,89.9 L109.6,90.4 L109.3,90.9 L109.0,91.4 L108.8,91.9 L108.5,92.4 L108.3,92.9 L108.1,93.4 L107.9,93.9 L107.7,94.3 L107.5,94.7 L107.4,95.1 L107.2,95.5 L107.1,95.8 L107.0,96.0" fill="none" stroke="#eebfbf" stroke-width="0.9" stroke-linecap="round" stroke-linejoin="round" opacity="1.0"/>
<polygon points="109.1,56.8 111.1,58.6 103.8,62.3 100.8,60.9" fill="#ffffff" stroke="#ffffff"/>
<polygon points="37.9,104.0 40.4,105.7 29.2,111.2 26.6,109.4" fill="#a4a4a4" stroke="#a4a4a4"/>
<polygon points="297.1,145.0 297.8,145.5 292.4,143.8 290.6,142.9" fill="#a2a2a2" stroke="#a2a2a2"/>
<polygon points="104.6,52.1 106.9,54.5 97.6,59.1 94.3,57.1" fill="#ffffff" stroke="#ffffff"/>
<polygon points="274.5,145.7 275.4,147.2 261.4,143.8 260.4,142.4" fill="#754242" stroke="#754242"/>
<polygon points="249.4,141.2 250.7,142.5 236.2,141.3 235.0,140.1" fill="#724040" stroke="#724040"/>
<polygon points="222.6,139.6 223.9,140.8 209.4,140.4 208.1,139.2" fill="#767676" stroke="#767676"/>
<polygon points="195.6,139.1 197.0,140.3 182.5,140.5 181.2,139.3" fill="#767676" stroke="#767676"/>
<polygon points="168.3,139.7 169.7,140.8 155.2,141.3 153.8,140.1" fill="#767676" stroke="#767676"/>
<polygon points="140.9,140.5 142.3,141.6 127.8,142.1 126.4,141.0" fill="#724040" stroke="#724040"/>
<polygon points="113.4,141.5 114.9,142.6 100.4,143.2 99.0,142.0" fill="#767676" stroke="#767676"/>
<polygon points="85.9,142.5 87.3,143.6 72.8,144.1 71.4,143.0" fill="#767676" stroke="#767676"/>
<polygon points="58.2,143.3 59.6,144.4 45.1,144.7 43.7,143.5" fill="#767676" stroke="#767676"/>
<polygon points="30.6,143.6 31.9,144.8 17.4,144.8 16.1,143.7" fill="#767676" stroke="#767676"/>
<polygon points="3.0,143.7 4.4,144.9 -10.1,144.9 -11.5,143.7" fill="#724040" stroke="#724040"/>
<polygon points="-4.1,103.6 -1.8,105.0 -13.2,110.3 -15.5,108.9" fill="#e38080" stroke="#e38080"/>
<polygon points="106.9,54.5 109.1,56.8 100.8,60.9 97.6,59.1" fill="#ffffff" stroke="#ffffff"/>
<polygon points="151.1,84.5 155.4,85.1 148.0,89.8 143.6,89.2" fill="#8c7474" stroke="#8c7474"/>
<polygon points="10.2,116.5 12.8,118.4 1.4,123.7 -1.2,121.7" fill="#ababab" stroke="#ababab"/>
<polygon points="220.3,89.8 220.1,93.8 220.1,84.2 220.3,80.2" fill="#8c4e4e" stroke="#8c4e4e"/>
<polygon points="297.1,126.2 297.7,128.8 284.0,124.3 283.3,121.7" fill="#bababa" stroke="#bababa"/>
<polygon points="140.4,76.5 143.2,79.9 135.7,84.6 132.9,81.2" fill="#d0adad" stroke="#d0adad"/>
<polygon points="23.1,90.6 25.8,92.8 14.5,98.1 11.8,96.0" fill="#f0f0f0" stroke="#f0f0f0"/>
<polygon points="19.5,117.2 20.8,118.7 6.3,118.8 5.0,117.2" fill="#c2c2c2" stroke="#c2c2c2"/>
<polygon points="46.9,117.0 48.3,118.5 33.8,118.7 32.4,117.1" fill="#c3c3c3" stroke="#c3c3c3"/>
<polygon points="74.1,116.4 75.5,117.9 61.0,118.3 59.6,116.8" fill="#c3c3c3" stroke="#c3c3c3"/>
<polygon points="101.5,115.5 102.9,117.0 88.4,117.5 87.0,116.0" fill="#c3c3c3" stroke="#c3c3c3"/>
<polygon points="129.0,114.4 130.4,115.9 115.9,116.5 114.5,115.0" fill="#c3c3c3" stroke="#c3c3c3"/>
<polygon points="156.6,113.6 158.0,115.1 143.5,115.5 142.1,114.0" fill="#c3c3c3" stroke="#c3c3c3"/>
<polygon points="184.1,112.8 185.5,114.3 171.0,114.7 169.6,113.2" fill="#c3c3c3" stroke="#c3c3c3"/>
<polygon points="212.1,112.8 213.5,114.3 199.0,114.1 197.6,112.6" fill="#c2c2c2" stroke="#c2c2c2"/>
<polygon points="240.1,113.9 241.4,115.5 227.0,114.8 225.6,113.2" fill="#bb6969" stroke="#bb6969"/>
<polygon points="268.6,117.1 269.9,118.8 255.5,116.7 254.3,115.1" fill="#b86767" stroke="#b86767"/>
<polygon points="146.9,82.7 151.1,84.5 143.6,89.2 139.4,87.4" fill="#a88c8c" stroke="#a88c8c"/>
<polygon points="158.4,54.5 155.7,54.5 148.3,59.2 150.9,59.2" fill="#583131" stroke="#583131"/>
<polygon points="250.5,79.8 247.7,78.2 247.7,68.6 250.5,70.2" fill="#a4a4a4" stroke="#a4a4a4"/>
<polygon points="-9.8,124.3 -7.8,125.2 -17.2,125.2 -18.0,124.3" fill="#d77878" stroke="#d77878"/>
<polygon points="49.6,77.3 52.5,79.4 41.6,85.5 38.7,83.4" fill="#f6f6f6" stroke="#f6f6f6"/>
<polygon points="89.2,74.3 92.0,76.5 80.8,82.1 78.0,79.9" fill="#bbbbbb" stroke="#bbbbbb"/>
<polygon points="312.2,107.3 315.5,104.6 306.0,101.9 302.7,104.6" fill="#8e4b4b" stroke="#8e4b4b"/>
<polygon points="143.2,79.9 146.9,82.7 139.4,87.4 135.7,84.6" fill="#c0a0a0" stroke="#c0a0a0"/>
<polygon points="315.5,104.6 318.1,101.2 308.6,98.5 306.0,101.9" fill="#904c4c" stroke="#904c4c"/>
<polygon points="76.9,63.4 79.8,65.7 68.6,71.4 65.7,69.1" fill="#f68f8f" stroke="#f68f8f"/>
<polygon points="62.3,87.5 65.3,89.7 54.4,95.9 51.4,93.7" fill="#c1c1c1" stroke="#c1c1c1"/>
<polygon points="296.8,143.6 297.1,145.0 290.6,142.9 289.0,141.1" fill="#c4c4c4" stroke="#c4c4c4"/>
<polygon points="296.4,82.5 294.1,84.6 284.6,81.9 286.9,79.8" fill="#aa5a5a" stroke="#aa5a5a"/>
<polygon points="308.4,109.0 312.2,107.3 302.7,104.6 298.8,106.3" fill="#854646" stroke="#854646"/>
<polygon points="35.0,101.5 37.9,104.0 26.6,109.4 23.7,106.9" fill="#c8c8c8" stroke="#c8c8c8"/>
<polygon points="318.1,101.2 319.7,97.4 310.2,94.7 308.6,98.5" fill="#8c4a4a" stroke="#8c4a4a"/>
<polygon points="250.2,104.7 251.8,102.8 251.8,93.2 250.2,95.1" fill="#874b4b" stroke="#874b4b"/>
<polygon points="7.3,113.8 10.2,116.5 -1.2,121.7 -4.1,119.1" fill="#cecece" stroke="#cecece"/>
<polygon points="-1.8,105.0 1.1,107.7 -10.2,113.0 -13.2,110.3" fill="#ffaeae" stroke="#ffaeae"/>
<polygon points="25.8,92.8 28.8,95.5 17.5,100.9 14.5,98.1" fill="#ffffff" stroke="#ffffff"/>
<polygon points="304.3,109.5 308.4,109.0 298.8,106.3 294.8,106.8" fill="#773f3f" stroke="#773f3f"/>
<path d="M235.0,97.0 L235.5,97.1 L236.1,97.1 L236.8,97.2 L237.6,97.3 L238.4,97.4 L239.3,97.6 L240.3,97.7 L241.2,97.8 L242.3,97.9 L243.3,98.1 L244.4,98.2 L245.5,98.4 L246.7,98.5 L247.8,98.7 L248.9,98.8 L250.0,99.0 L251.1,99.2 L252.2,99.3 L253.4,99.5 L254.6,99.8 L255.8,100.0 L257.0,100.2 L258.3,100.4 L259.6,100.6 L260.8,100.8 L262.1,101.1 L263.4,101.3 L264.7,101.4 L266.1,101.6 L267.4,101.8 L268.7,101.9 L270.0,102.0 L271.3,102.1 L272.7,102.1 L274.0,102.2 L275.4,102.2 L276.8,102.2 L278.2,102.1 L279.6,102.1 L281.0,102.1 L282.4,102.0 L283.8,102.0 L285.2,102.0 L286.6,101.9 L288.0,101.9 L289.3,101.9 L290.7,102.0 L292.0,102.0 L293.3,102.1 L294.7,102.2 L296.2,102.3 L297.6,102.4 L299.1,102.5 L300.5,102.7 L302.0,102.8 L303.4,103.0 L304.7,103.2 L306.1,103.3 L307.3,103.5 L308.5,103.6 L309.5,103.7 L310.5,103.8 L311.3,103.9 L312.0,104.0" fill="none" stroke="#a5a5a5" stroke-width="2.9" stroke-linecap="round" stroke-linejoin="round" opacity="1.0"/>
<path d="M235.0,97.0 L235.5,97.1 L236.1,97.1 L236.8,97.2 L237.6,97.3 L238.4,97.4 L239.3,97.6 L240.3,97.7 L241.2,97.8 L242.3,97.9 L243.3,98.1 L244.4,98.2 L245.5,98.4 L246.7,98.5 L247.8,98.7 L248.9,98.8 L250.0,99.0 L251.1,99.2 L252.2,99.3 L253.4,99.5 L254.6,99.8 L255.8,100.0 L257.0,100.2 L258.3,100.4 L259.6,100.6 L260.8,100.8 L262.1,101.1 L263.4,101.3 L264.7,101.4 L266.1,101.6 L267.4,101.8 L268.7,101.9 L270.0,102.0 L271.3,102.1 L272.7,102.1 L274.0,102.2 L275.4,102.2 L276.8,102.2 L278.2,102.1 L279.6,102.1 L281.0,102.1 L282.4,102.0 L283.8,102.0 L285.2,102.0 L286.6,101.9 L288.0,101.9 L289.3,101.9 L290.7,102.0 L292.0,102.0 L293.3,102.1 L294.7,102.2 L296.2,102.3 L297.6,102.4 L299.1,102.5 L300.5,102.7 L302.0,102.8 L303.4,103.0 L304.7,103.2 L306.1,103.3 L307.3,103.5 L308.5,103.6 L309.5,103.7 L310.5,103.8 L311.3,103.9 L312.0,104.0" fill="none" stroke="#e6e6e6" stroke-width="2.1" stroke-linecap="round" stroke-linejoin="round" opacity="1.0"/>
<path d="M235.0,97.0 L235.5,97.1 L236.1,97.1 L236.8,97.2 L237.6,97.3 L238.4,97.4 L239.3,97.6 L240.3,97.7 L241.2,97.8 L242.3,97.9 L243.3,98.1 L244.4,98.2 L245.5,98.4 L246.7,98.5 L247.8,98.7 L248.9,98.8 L250.0,99.0 L251.1,99.2 L252.2,99.3 L253.4,99.5 L254.6,99.8 L255.8,100.0 L257.0,100.2 L258.3,100.4 L259.6,100.6 L260.8,100.8 L262.1,101.1 L263.4,101.3 L264.7,101.4 L266.1,101.6 L267.4,101.8 L268.7,101.9 L270.0,102.0 L271.3,102.1 L272.7,102.1 L274.0,102.2 L275.4,102.2 L276.8,102.2 L278.2,102.1 L279.6,102.1 L281.0,102.1 L282.4,102.0 L283.8,102.0 L285.2,102.0 L286.6,101.9 L288.0,101.9 L289.3,101.9 L290.7,102.0 L292.0,102.0 L293.3,102.1 L294.7,102.2 L296.2,102.3 L297.6,102.4 L299.1,102.5 L300.5,102.7 L302.0,102.8 L303.4,103.0 L304.7,103.2 L306.1,103.3 L307.3,103.5 L308.5,103.6 L309.5,103.7 L310.5,103.8 L311.3,103.9 L312.0,104.0" fill="none" stroke="#f1f1f1" stroke-width="0.7" stroke-linecap="round" stroke-linejoin="round" opacity="1.0"/>
<path d="M235.0,99.0 L235.5,99.1 L236.1,99.1 L236.8,99.2 L237.6,99.3 L238.4,99.4 L239.3,99.6 L240.3,99.7 L241.2,99.8 L242.3,99.9 L243.3,100.1 L244.4,100.2 L245.5,100.4 L246.7,100.5 L247.8,100.7 L248.9,100.8 L250.0,101.0 L251.1,101.2 L252.2,101.3 L253.4,101.5 L254.6,101.8 L255.8,102.0 L257.0,102.2 L258.3,102.4 L259.6,102.6 L260.8,102.8 L262.1,103.1 L263.4,103.3 L264.7,103.4 L266.1,103.6 L267.4,103.8 L268.7,103.9 L270.0,104.0 L271.3,104.1 L272.7,104.1 L274.0,104.2 L275.4,104.2 L276.8,104.2 L278.2,104.1 L279.6,104.1 L281.0,104.1 L282.4,104.0 L283.8,104.0 L285.2,104.0 L286.6,103.9 L288.0,103.9 L289.3,103.9 L290.7,104.0 L292.0,104.0 L293.3,104.1 L294.7,104.2 L296.2,104.3 L297.6,104.4 L299.1,104.5 L300.5,104.7 L302.0,104.8 L303.4,105.0 L304.7,105.2 L306.1,105.3 L307.3,105.5 L308.5,105.6 L309.5,105.7 L310.5,105.8 L311.3,105.9 L312.0,106.0" fill="none" stroke="#b26e6e" stroke-width="2.9" stroke-linecap="round" stroke-linejoin="round" opacity="1.0"/>
<path d="M235.0,99.0 L235.5,99.1 L236.1,99.1 L236.8,99.2 L237.6,99.3 L238.4,99.4 L239.3,99.6 L240.3,99.7 L241.2,99.8 L242.3,99.9 L243.3,100.1 L244.4,100.2 L245.5,100.4 L246.7,100.5 L247.8,100.7 L248.9,100.8 L250.0,101.0 L251.1,101.2 L252.2,101.3 L253.4,101.5 L254.6,101.8 L255.8,102.0 L257.0,102.2 L258.3,102.4 L259.6,102.6 L260.8,102.8 L262.1,103.1 L263.4,103.3 L264.7,103.4 L266.1,103.6 L267.4,103.8 L268.7,103.9 L270.0,104.0 L271.3,104.1 L272.7,104.1 L274.0,104.2 L275.4,104.2 L276.8,104.2 L278.2,104.1 L279.6,104.1 L281.0,104.1 L282.4,104.0 L283.8,104.0 L285.2,104.0 L286.6,103.9 L288.0,103.9 L289.3,103.9 L290.7,104.0 L292.0,104.0 L293.3,104.1 L294.7,104.2 L296.2,104.3 L297.6,104.4 L299.1,104.5 L300.5,104.7 L302.0,104.8 L303.4,105.0 L304.7,105.2 L306.1,105.3 L307.3,105.5 L308.5,105.6 L309.5,105.7 L310.5,105.8 L311.3,105.9 L312.0,106.0" fill="none" stroke="#e28e8e" stroke-width="2.1" stroke-linecap="round" stroke-linejoin="round" opacity="1.0"/>
<path d="M235.0,99.0 L235.5,99.1 L236.1,99.1 L236.8,99.2 L237.6,99.3 L238.4,99.4 L239.3,99.6 L240.3,99.7 L241.2,99.8 L242.3,99.9 L243.3,100.1 L244.4,100.2 L245.5,100.4 L246.7,100.5 L247.8,100.7 L248.9,100.8 L250.0,101.0 L251.1,101.2 L252.2,101.3 L253.4,101.5 L254.6,101.8 L255.8,102.0 L257.0,102.2 L258.3,102.4 L259.6,102.6 L260.8,102.8 L262.1,103.1 L263.4,103.3 L264.7,103.4 L266.1,103.6 L267.4,103.8 L268.7,103.9 L270.0,104.0 L271.3,104.1 L272.7,104.1 L274.0,104.2 L275.4,104.2 L276.8,104.2 L278.2,104.1 L279.6,104.1 L281.0,104.1 L282.4,104.0 L283.8,104.0 L285.2,104.0 L286.6,103.9 L288.0,103.9 L289.3,103.9 L290.7,104.0 L292.0,104.0 L293.3,104.1 L294.7,104.2 L296.2,104.3 L297.6,104.4 L299.1,104.5 L300.5,104.7 L302.0,104.8 L303.4,105.0 L304.7,105.2 L306.1,105.3 L307.3,105.5 L308.5,105.6 L309.5,105.7 L310.5,105.8 L311.3,105.9 L312.0,106.0" fill="none" stroke="#efc0c0" stroke-width="0.7" stroke-linecap="round" stroke-linejoin="round" opacity="1.0"/>
<polygon points="52.5,79.4 55.7,82.0 44.8,88.2 41.6,85.5" fill="#ffffff" stroke="#ffffff"/>
<polygon points="86.1,71.5 89.2,74.3 78.0,79.9 75.0,77.2" fill="#dddddd" stroke="#dddddd"/>
<polygon points="297.7,128.8 297.5,131.9 285.0,127.7 284.0,124.3" fill="#d7d7d7" stroke="#d7d7d7"/>
<polygon points="221.9,86.0 220.3,89.8 220.3,80.2 221.9,76.4" fill="#b4b4b4" stroke="#b4b4b4"/>
<polygon points="79.8,65.7 82.9,68.5 71.8,74.2 68.6,71.4" fill="#fff1f1" stroke="#fff1f1"/>
<polygon points="59.0,84.9 62.3,87.5 51.4,93.7 48.1,91.0" fill="#e7e7e7" stroke="#e7e7e7"/>
<polygon points="1.6,140.6 3.0,143.7 -11.5,143.7 -12.9,140.6" fill="#955454" stroke="#955454"/>
<polygon points="-7.8,125.2 -5.8,127.0 -16.5,127.1 -17.2,125.2" fill="#f18b8b" stroke="#f18b8b"/>
<polygon points="296.7,141.4 296.8,143.6 289.0,141.1 287.8,138.5" fill="#e5e5e5" stroke="#e5e5e5"/>
<polygon points="31.9,98.5 35.0,101.5 23.7,106.9 20.6,103.9" fill="#f4f4f4" stroke="#f4f4f4"/>
<polygon points="273.9,143.0 274.5,145.7 260.4,142.4 259.7,139.8" fill="#9a5656" stroke="#9a5656"/>
<polygon points="248.3,138.7 249.4,141.2 235.0,140.1 233.8,137.6" fill="#975454" stroke="#975454"/>
<polygon points="221.3,137.1 222.6,139.6 208.1,139.2 206.8,136.7" fill="#9b9b9b" stroke="#9b9b9b"/>
<polygon points="194.2,136.7 195.6,139.1 181.2,139.3 179.8,136.9" fill="#9a9a9a" stroke="#9a9a9a"/>
<polygon points="166.9,137.3 168.3,139.7 153.8,140.1 152.4,137.8" fill="#9a9a9a" stroke="#9a9a9a"/>
<polygon points="139.4,138.1 140.9,140.5 126.4,141.0 125.0,138.6" fill="#955353" stroke="#955353"/>
<polygon points="112.0,139.1 113.4,141.5 99.0,142.0 97.5,139.7" fill="#9a9a9a" stroke="#9a9a9a"/>
<polygon points="84.4,140.1 85.9,142.5 71.4,143.0 69.9,140.6" fill="#9a9a9a" stroke="#9a9a9a"/>
<polygon points="56.8,140.9 58.2,143.3 43.7,143.5 42.3,141.1" fill="#9a9a9a" stroke="#9a9a9a"/>
<polygon points="29.2,141.2 30.6,143.6 16.1,143.7 14.7,141.3" fill="#9a9a9a" stroke="#9a9a9a"/>
<polygon points="4.2,110.8 7.3,113.8 -4.1,119.1 -7.2,116.0" fill="#fd9b9b" stroke="#fd9b9b"/>
<polygon points="1.1,107.7 4.2,110.8 -7.2,116.0 -10.2,113.0" fill="#ffffff" stroke="#ffffff"/>
<polygon points="319.7,97.4 320.3,93.6 310.7,90.9 310.2,94.7" fill="#814444" stroke="#814444"/>
<polygon points="28.8,95.5 31.9,98.5 20.6,103.9 17.5,100.9" fill="#ffffff" stroke="#ffffff"/>
<polygon points="55.7,82.0 59.0,84.9 48.1,91.0 44.8,88.2" fill="#ffffff" stroke="#ffffff"/>
<polygon points="82.9,68.5 86.1,71.5 75.0,77.2 71.8,74.2" fill="#ffffff" stroke="#ffffff"/>
<polygon points="300.3,108.8 304.3,109.5 294.8,106.8 290.8,106.1" fill="#643535" stroke="#643535"/>
<polygon points="294.1,84.6 292.3,87.7 282.8,85.0 284.6,81.9" fill="#b66060" stroke="#b66060"/>
<polygon points="20.8,118.7 22.2,121.4 7.7,121.5 6.3,118.8" fill="#dedede" stroke="#dedede"/>
<polygon points="48.3,118.5 49.6,121.2 35.1,121.4 33.8,118.7" fill="#dedede" stroke="#dedede"/>
<polygon points="75.5,117.9 77.0,120.6 62.5,121.0 61.0,118.3" fill="#dfdfdf" stroke="#dfdfdf"/>
<polygon points="102.9,117.0 104.4,119.6 89.9,120.2 88.4,117.5" fill="#dfdfdf" stroke="#dfdfdf"/>
<polygon points="130.4,115.9 131.9,118.6 117.4,119.1 115.9,116.5" fill="#d77979" stroke="#d77979"/>
<polygon points="158.0,115.1 159.4,117.8 144.9,118.2 143.5,115.5" fill="#dfdfdf" stroke="#dfdfdf"/>
<polygon points="185.5,114.3 186.9,117.0 172.5,117.4 171.0,114.7" fill="#dfdfdf" stroke="#dfdfdf"/>
<polygon points="213.5,114.3 214.8,117.1 200.3,116.9 199.0,114.1" fill="#dedede" stroke="#dedede"/>
<polygon points="241.4,115.5 242.7,118.4 228.2,117.6 227.0,114.8" fill="#d67878" stroke="#d67878"/>
<polygon points="269.9,118.8 270.9,121.8 256.6,119.6 255.5,116.7" fill="#d47777" stroke="#d47777"/>
<polygon points="247.7,78.2 243.7,77.3 243.7,67.7 247.7,68.6" fill="#c5c5c5" stroke="#c5c5c5"/>
<polygon points="155.7,54.5 153.7,55.7 146.2,60.4 148.3,59.2" fill="#583131" stroke="#583131"/>
<polygon points="297.5,131.9 297.2,135.3 285.8,131.5 285.0,127.7" fill="#efefef" stroke="#efefef"/>
<polygon points="296.9,138.6 296.7,141.4 287.8,138.5 286.7,135.2" fill="#ffffff" stroke="#ffffff"/>
<polygon points="297.2,135.3 296.9,138.6 286.7,135.2 285.8,131.5" fill="#ffffff" stroke="#ffffff"/>
<polygon points="-5.8,127.0 -3.8,129.8 -15.7,129.8 -16.5,127.1" fill="#ffe1e1" stroke="#ffe1e1"/>
<polygon points="296.8,106.8 300.3,108.8 290.8,106.1 287.3,104.1" fill="#623434" stroke="#623434"/>
<polygon points="0.3,136.9 1.6,140.6 -12.9,140.6 -14.2,137.0" fill="#b86767" stroke="#b86767"/>
<polygon points="225.0,82.6 221.9,86.0 221.9,76.4 225.0,73.0" fill="#d2d2d2" stroke="#d2d2d2"/>
<polygon points="320.3,93.6 319.8,90.3 310.3,87.6 310.7,90.9" fill="#713c3c" stroke="#713c3c"/>
<polygon points="292.3,87.7 291.2,91.5 281.7,88.8 282.8,85.0" fill="#b96262" stroke="#b96262"/>
<polygon points="-3.8,129.8 -1.8,133.2 -15.0,133.2 -15.7,129.8" fill="#ffcaca" stroke="#ffcaca"/>
<polygon points="273.4,139.3 273.9,143.0 259.7,139.8 259.2,136.3" fill="#bc6969" stroke="#bc6969"/>
<polygon points="-1.8,133.2 0.3,136.9 -14.2,137.0 -15.0,133.2" fill="#d87b7b" stroke="#d87b7b"/>
<polygon points="247.2,135.1 248.3,138.7 233.8,137.6 232.7,134.1" fill="#b96868" stroke="#b96868"/>
<polygon points="220.0,133.6 221.3,137.1 206.8,136.7 205.5,133.3" fill="#bfbfbf" stroke="#bfbfbf"/>
<polygon points="192.8,133.3 194.2,136.7 179.8,136.9 178.3,133.6" fill="#bebebe" stroke="#bebebe"/>
<polygon points="165.4,133.9 166.9,137.3 152.4,137.8 150.9,134.4" fill="#bebebe" stroke="#bebebe"/>
<polygon points="137.9,134.7 139.4,138.1 125.0,138.6 123.5,135.3" fill="#b76767" stroke="#b76767"/>
<polygon points="110.5,135.8 112.0,139.1 97.5,139.7 96.0,136.3" fill="#bebebe" stroke="#bebebe"/>
<polygon points="82.9,136.8 84.4,140.1 69.9,140.6 68.5,137.2" fill="#bebebe" stroke="#bebebe"/>
<polygon points="55.3,137.5 56.8,140.9 42.3,141.1 40.8,137.7" fill="#bebebe" stroke="#bebebe"/>
<polygon points="27.8,137.8 29.2,141.2 14.7,141.3 13.3,137.8" fill="#bebebe" stroke="#bebebe"/>
<polygon points="251.8,102.8 250.8,100.8 250.8,91.2 251.8,93.2" fill="#6c3c3c" stroke="#6c3c3c"/>
<polygon points="294.0,103.7 296.8,106.8 287.3,104.1 284.4,101.0" fill="#7a4040" stroke="#7a4040"/>
<path d="M215.5,102.0 L215.5,102.6 L215.6,103.3 L215.6,104.1 L215.7,105.0 L215.7,106.0 L215.8,107.0 L215.9,108.1 L215.9,109.2 L216.0,110.4 L216.1,111.6 L216.2,112.8 L216.2,113.9 L216.3,115.0 L216.4,116.1 L216.4,117.1 L216.5,118.0 L216.6,118.9 L216.6,119.7 L216.6,120.5 L216.6,121.3 L216.6,122.1 L216.7,122.9 L216.7,123.6 L216.7,124.4 L216.7,125.1 L216.8,125.8 L216.8,126.5 L216.9,127.2 L217.0,127.9 L217.1,128.6 L217.3,129.3 L217.5,130.0 L217.7,130.7 L218.1,131.4 L218.4,132.1 L218.8,132.9 L219.2,133.6 L219.6,134.3 L220.1,135.1 L220.6,135.8 L221.0,136.4 L221.5,137.1 L221.9,137.7 L222.3,138.2 L222.7,138.8 L223.0,139.2 L223.3,139.7 L223.5,140.0" fill="none" stroke="#a5a5a5" stroke-width="2.9" stroke-linecap="round" stroke-linejoin="round" opacity="1.0"/>
<path d="M215.5,102.0 L215.5,102.6 L215.6,103.3 L215.6,104.1 L215.7,105.0 L215.7,106.0 L215.8,107.0 L215.9,108.1 L215.9,109.2 L216.0,110.4 L216.1,111.6 L216.2,112.8 L216.2,113.9 L216.3,115.0 L216.4,116.1 L216.4,117.1 L216.5,118.0 L216.6,118.9 L216.6,119.7 L216.6,120.5 L216.6,121.3 L216.6,122.1 L216.7,122.9 L216.7,123.6 L216.7,124.4 L216.7,125.1 L216.8,125.8 L216.8,126.5 L216.9,127.2 L217.0,127.9 L217.1,128.6 L217.3,129.3 L217.5,130.0 L217.7,130.7 L218.1,131.4 L218.4,132.1 L218.8,132.9 L219.2,133.6 L219.6,134.3 L220.1,135.1 L220.6,135.8 L221.0,136.4 L221.5,137.1 L221.9,137.7 L222.3,138.2 L222.7,138.8 L223.0,139.2 L223.3,139.7 L223.5,140.0" fill="none" stroke="#e6e6e6" stroke-width="2.1" stroke-linecap="round" stroke-linejoin="round" opacity="1.0"/>
<path d="M215.5,102.0 L215.5,102.6 L215.6,103.3 L215.6,104.1 L215.7,105.0 L215.7,106.0 L215.8,107.0 L215.9,108.1 L215.9,109.2 L216.0,110.4 L216.1,111.6 L216.2,112.8 L216.2,113.9 L216.3,115.0 L216.4,116.1 L216.4,117.1 L216.5,118.0 L216.6,118.9 L216.6,119.7 L216.6,120.5 L216.6,121.3 L216.6,122.1 L216.7,122.9 L216.7,123.6 L216.7,124.4 L216.7,125.1 L216.8,125.8 L216.8,126.5 L216.9,127.2 L217.0,127.9 L217.1,128.6 L217.3,129.3 L217.5,130.0 L217.7,130.7 L218.1,131.4 L218.4,132.1 L218.8,132.9 L219.2,133.6 L219.6,134.3 L220.1,135.1 L220.6,135.8 L221.0,136.4 L221.5,137.1 L221.9,137.7 L222.3,138.2 L222.7,138.8 L223.0,139.2 L223.3,139.7 L223.5,140.0" fill="none" stroke="#f1f1f1" stroke-width="0.7" stroke-linecap="round" stroke-linejoin="round" opacity="1.0"/>
<path d="M214.0,102.0 L214.0,102.6 L214.1,103.3 L214.1,104.1 L214.2,105.0 L214.2,106.0 L214.3,107.0 L214.4,108.1 L214.4,109.2 L214.5,110.4 L214.6,111.6 L214.7,112.8 L214.7,113.9 L214.8,115.0 L214.9,116.1 L214.9,117.1 L215.0,118.0 L215.1,118.9 L215.1,119.7 L215.1,120.5 L215.1,121.3 L215.1,122.1 L215.2,122.9 L215.2,123.6 L215.2,124.4 L215.2,125.1 L215.3,125.8 L215.3,126.5 L215.4,127.2 L215.5,127.9 L215.6,128.6 L215.8,129.3 L216.0,130.0 L216.2,130.7 L216.6,131.4 L216.9,132.1 L217.3,132.9 L217.7,133.6 L218.1,134.3 L218.6,135.1 L219.1,135.8 L219.5,136.4 L220.0,137.1 L220.4,137.7 L220.8,138.2 L221.2,138.8 L221.5,139.2 L221.8,139.7 L222.0,140.0" fill="none" stroke="#b26e6e" stroke-width="2.9" stroke-linecap="round" stroke-linejoin="round" opacity="1.0"/>
<path d="M214.0,102.0 L214.0,102.6 L214.1,103.3 L214.1,104.1 L214.2,105.0 L214.2,106.0 L214.3,107.0 L214.4,108.1 L214.4,109.2 L214.5,110.4 L214.6,111.6 L214.7,112.8 L214.7,113.9 L214.8,115.0 L214.9,116.1 L214.9,117.1 L215.0,118.0 L215.1,118.9 L215.1,119.7 L215.1,120.5 L215.1,121.3 L215.1,122.1 L215.2,122.9 L215.2,123.6 L215.2,124.4 L215.2,125.1 L215.3,125.8 L215.3,126.5 L215.4,127.2 L215.5,127.9 L215.6,128.6 L215.8,129.3 L216.0,130.0 L216.2,130.7 L216.6,131.4 L216.9,132.1 L217.3,132.9 L217.7,133.6 L218.1,134.3 L218.6,135.1 L219.1,135.8 L219.5,136.4 L220.0,137.1 L220.4,137.7 L220.8,138.2 L221.2,138.8 L221.5,139.2 L221.8,139.7 L222.0,140.0" fill="none" stroke="#e28e8e" stroke-width="2.1" stroke-linecap="round" stroke-linejoin="round" opacity="1.0"/>
<path d="M214.0,102.0 L214.0,102.6 L214.1,103.3 L214.1,104.1 L214.2,105.0 L214.2,106.0 L214.3,107.0 L214.4,108.1 L214.4,109.2 L214.5,110.4 L214.6,111.6 L214.7,112.8 L214.7,113.9 L214.8,115.0 L214.9,116.1 L214.9,117.1 L215.0,118.0 L215.1,118.9 L215.1,119.7 L215.1,120.5 L215.1,121.3 L215.1,122.1 L215.2,122.9 L215.2,123.6 L215.2,124.4 L215.2,125.1 L215.3,125.8 L215.3,126.5 L215.4,127.2 L215.5,127.9 L215.6,128.6 L215.8,129.3 L216.0,130.0 L216.2,130.7 L216.6,131.4 L216.9,132.1 L217.3,132.9 L217.7,133.6 L218.1,134.3 L218.6,135.1 L219.1,135.8 L219.5,136.4 L220.0,137.1 L220.4,137.7 L220.8,138.2 L221.2,138.8 L221.5,139.2 L221.8,139.7 L222.0,140.0" fill="none" stroke="#efc0c0" stroke-width="0.7" stroke-linecap="round" stroke-linejoin="round" opacity="1.0"/>
<polygon points="243.7,77.3 239.0,77.2 239.0,67.7 243.7,67.7" fill="#dedede" stroke="#dedede"/>
<polygon points="22.2,121.4 23.6,125.1 9.1,125.1 7.7,121.5" fill="#f9f9f9" stroke="#f9f9f9"/>
<polygon points="49.6,121.2 51.1,124.8 36.6,125.0 35.1,121.4" fill="#f9f9f9" stroke="#f9f9f9"/>
<polygon points="77.0,120.6 78.5,124.2 64.0,124.6 62.5,121.0" fill="#f9f9f9" stroke="#f9f9f9"/>
<polygon points="104.4,119.6 105.9,123.2 91.4,123.7 89.9,120.2" fill="#fafafa" stroke="#fafafa"/>
<polygon points="131.9,118.6 133.4,122.2 118.9,122.7 117.4,119.1" fill="#f18c8c" stroke="#f18c8c"/>
<polygon points="159.4,117.8 160.9,121.4 146.4,121.8 144.9,118.2" fill="#f9f9f9" stroke="#f9f9f9"/>
<polygon points="186.9,117.0 188.4,120.6 173.9,121.0 172.5,117.4" fill="#f9f9f9" stroke="#f9f9f9"/>
<polygon points="214.8,117.1 216.2,120.8 201.7,120.5 200.3,116.9" fill="#f8f8f8" stroke="#f8f8f8"/>
<polygon points="242.7,118.4 243.9,122.1 229.4,121.3 228.2,117.6" fill="#ef8a8a" stroke="#ef8a8a"/>
<polygon points="270.9,121.8 271.8,125.8 257.5,123.3 256.6,119.6" fill="#ec8787" stroke="#ec8787"/>
<polygon points="291.2,91.5 291.1,95.7 281.6,93.0 281.7,88.8" fill="#b45f5f" stroke="#b45f5f"/>
<polygon points="292.0,99.9 294.0,103.7 284.4,101.0 282.5,97.2" fill="#934e4e" stroke="#934e4e"/>
<path d="M236.1,139.0 L236.0,139.4 L235.9,139.8 L235.7,140.3 L235.6,140.9 L235.4,141.5 L235.2,142.2 L235.0,142.9 L234.8,143.6 L234.6,144.4 L234.4,145.2 L234.1,146.0 L233.9,146.8 L233.7,147.6 L233.5,148.4 L233.3,149.2 L233.1,150.0 L232.9,150.8 L232.7,151.6 L232.5,152.5 L232.3,153.3 L232.1,154.2 L231.9,155.1 L231.7,156.1 L231.5,157.0 L231.3,157.9 L231.1,158.8 L230.9,159.7 L230.7,160.5 L230.6,161.4 L230.4,162.2 L230.2,163.0 L230.1,163.7 L230.0,164.4 L229.8,165.1 L229.7,165.8 L229.5,166.4 L229.4,167.1 L229.3,167.7 L229.2,168.3 L229.1,168.9 L229.0,169.5 L228.9,170.0 L228.8,170.6 L228.7,171.1 L228.7,171.5 L228.6,172.0 L228.6,172.4 L228.6,172.8 L228.6,173.1 L228.6,173.4 L228.6,173.6 L228.7,173.8 L228.7,173.9 L228.7,174.0 L228.8,174.1 L228.9,174.2 L229.0,174.3 L229.1,174.4 L229.2,174.5 L229.3,174.7 L229.5,174.8 L229.7,175.1 L229.9,175.4 L230.1,175.8 L230.4,176.3 L230.6,176.8 L231.0,177.3 L231.3,177.9 L231.7,178.6 L232.1,179.3 L232.5,180.0 L232.9,180.7 L233.3,181.4 L233.8,182.2 L234.2,182.9 L234.6,183.7 L235.0,184.4 L235.4,185.1 L235.8,185.8 L236.1,186.5 L236.4,187.2 L236.7,187.9 L237.0,188.6 L237.3,189.3 L237.6,190.1 L237.9,190.8 L238.1,191.5 L238.4,192.3 L238.7,193.0 L238.9,193.7 L239.2,194.3 L239.5,195.0 L239.8,195.5 L240.1,196.1 L240.4,196.6 L240.7,197.0 L241.0,197.4 L241.3,197.7 L241.7,198.0 L242.0,198.2 L242.3,198.4 L242.6,198.6 L242.9,198.7 L243.3,198.8 L243.6,198.9 L244.0,199.0 L244.4,199.1 L244.8,199.1 L245.3,199.2 L245.7,199.2 L246.3,199.3 L246.8,199.3 L247.4,199.3 L248.1,199.4 L248.8,199.4 L249.6,199.5 L250.4,199.5 L251.2,199.5 L252.1,199.5 L253.0,199.5 L253.8,199.4 L254.7,199.4 L255.5,199.3 L256.3,199.2 L257.0,199.1 L257.7,199.0 L258.3,198.8 L258.9,198.6 L259.4,198.4 L259.8,198.1 L260.3,197.8 L260.6,197.5 L261.0,197.2 L261.3,196.8 L261.6,196.5 L261.8,196.1 L262.0,195.7 L262.3,195.2 L262.5,194.8 L262.7,194.4 L262.9,193.9 L263.0,193.4 L263.2,193.0 L263.4,192.5 L263.6,192.0 L263.7,191.5 L263.8,190.9 L263.9,190.3 L264.0,189.7 L264.1,189.1 L264.2,188.5 L264.2,187.8 L264.3,187.2 L264.4,186.6 L264.4,186.0 L264.5,185.4 L264.6,184.9 L264.7,184.3 L264.8,183.8 L264.9,183.4 L265.0,183.0 L265.2,182.6 L265.3,182.2 L265.5,181.9 L265.6,181.5 L265.8,181.2 L265.9,180.9 L266.1,180.6 L266.3,180.4 L266.4,180.1 L266.7,179.9 L266.9,179.7 L267.1,179.4 L267.4,179.3 L267.7,179.1 L268.0,178.9 L268.3,178.7 L268.7,178.6 L269.0,178.5 L269.4,178.3 L269.8,178.2 L270.2,178.1 L270.6,178.0 L271.1,178.0 L271.6,177.9 L272.0,177.9 L272.6,177.9 L273.1,177.9 L273.6,177.9 L274.2,178.0 L274.9,178.0 L275.5,178.1 L276.2,178.2 L277.0,178.4 L277.9,178.6 L278.8,178.8 L279.8,179.1 L280.8,179.4 L281.8,179.6 L282.8,179.9 L283.8,180.3 L284.8,180.6 L285.7,180.8 L286.6,181.1 L287.4,181.4 L288.1,181.6 L288.7,181.8 L289.2,181.9" fill="none" stroke="#a5a5a5" stroke-width="2.9" stroke-linecap="round" stroke-linejoin="round" opacity="1.0"/>
<path d="M236.1,139.0 L236.0,139.4 L235.9,139.8 L235.7,140.3 L235.6,140.9 L235.4,141.5 L235.2,142.2 L235.0,142.9 L234.8,143.6 L234.6,144.4 L234.4,145.2 L234.1,146.0 L233.9,146.8 L233.7,147.6 L233.5,148.4 L233.3,149.2 L233.1,150.0 L232.9,150.8 L232.7,151.6 L232.5,152.5 L232.3,153.3 L232.1,154.2 L231.9,155.1 L231.7,156.1 L231.5,157.0 L231.3,157.9 L231.1,158.8 L230.9,159.7 L230.7,160.5 L230.6,161.4 L230.4,162.2 L230.2,163.0 L230.1,163.7 L230.0,164.4 L229.8,165.1 L229.7,165.8 L229.5,166.4 L229.4,167.1 L229.3,167.7 L229.2,168.3 L229.1,168.9 L229.0,169.5 L228.9,170.0 L228.8,170.6 L228.7,171.1 L228.7,171.5 L228.6,172.0 L228.6,172.4 L228.6,172.8 L228.6,173.1 L228.6,173.4 L228.6,173.6 L228.7,173.8 L228.7,173.9 L228.7,174.0 L228.8,174.1 L228.9,174.2 L229.0,174.3 L229.1,174.4 L229.2,174.5 L229.3,174.7 L229.5,174.8 L229.7,175.1 L229.9,175.4 L230.1,175.8 L230.4,176.3 L230.6,176.8 L231.0,177.3 L231.3,177.9 L231.7,178.6 L232.1,179.3 L232.5,180.0 L232.9,180.7 L233.3,181.4 L233.8,182.2 L234.2,182.9 L234.6,183.7 L235.0,184.4 L235.4,185.1 L235.8,185.8 L236.1,186.5 L236.4,187.2 L236.7,187.9 L237.0,188.6 L237.3,189.3 L237.6,190.1 L237.9,190.8 L238.1,191.5 L238.4,192.3 L238.7,193.0 L238.9,193.7 L239.2,194.3 L239.5,195.0 L239.8,195.5 L240.1,196.1 L240.4,196.6 L240.7,197.0 L241.0,197.4 L241.3,197.7 L241.7,198.0 L242.0,198.2 L242.3,198.4 L242.6,198.6 L242.9,198.7 L243.3,198.8 L243.6,198.9 L244.0,199.0 L244.4,199.1 L244.8,199.1 L245.3,199.2 L245.7,199.2 L246.3,199.3 L246.8,199.3 L247.4,199.3 L248.1,199.4 L248.8,199.4 L249.6,199.5 L250.4,199.5 L251.2,199.5 L252.1,199.5 L253.0,199.5 L253.8,199.4 L254.7,199.4 L255.5,199.3 L256.3,199.2 L257.0,199.1 L257.7,199.0 L258.3,198.8 L258.9,198.6 L259.4,198.4 L259.8,198.1 L260.3,197.8 L260.6,197.5 L261.0,197.2 L261.3,196.8 L261.6,196.5 L261.8,196.1 L262.0,195.7 L262.3,195.2 L262.5,194.8 L262.7,194.4 L262.9,193.9 L263.0,193.4 L263.2,193.0 L263.4,192.5 L263.6,192.0 L263.7,191.5 L263.8,190.9 L263.9,190.3 L264.0,189.7 L264.1,189.1 L264.2,188.5 L264.2,187.8 L264.3,187.2 L264.4,186.6 L264.4,186.0 L264.5,185.4 L264.6,184.9 L264.7,184.3 L264.8,183.8 L264.9,183.4 L265.0,183.0 L265.2,182.6 L265.3,182.2 L265.5,181.9 L265.6,181.5 L265.8,181.2 L265.9,180.9 L266.1,180.6 L266.3,180.4 L266.4,180.1 L266.7,179.9 L266.9,179.7 L267.1,179.4 L267.4,179.3 L267.7,179.1 L268.0,178.9 L268.3,178.7 L268.7,178.6 L269.0,178.5 L269.4,178.3 L269.8,178.2 L270.2,178.1 L270.6,178.0 L271.1,178.0 L271.6,177.9 L272.0,177.9 L272.6,177.9 L273.1,177.9 L273.6,177.9 L274.2,178.0 L274.9,178.0 L275.5,178.1 L276.2,178.2 L277.0,178.4 L277.9,178.6 L278.8,178.8 L279.8,179.1 L280.8,179.4 L281.8,179.6 L282.8,179.9 L283.8,180.3 L284.8,180.6 L285.7,180.8 L286.6,181.1 L287.4,181.4 L288.1,181.6 L288.7,181.8 L289.2,181.9" fill="none" stroke="#e6e6e6" stroke-width="2.1" stroke-linecap="round" stroke-linejoin="round" opacity="1.0"/>
<path d="M236.1,139.0 L236.0,139.4 L235.9,139.8 L235.7,140.3 L235.6,140.9 L235.4,141.5 L235.2,142.2 L235.0,142.9 L234.8,143.6 L234.6,144.4 L234.4,145.2 L234.1,146.0 L233.9,146.8 L233.7,147.6 L233.5,148.4 L233.3,149.2 L233.1,150.0 L232.9,150.8 L232.7,151.6 L232.5,152.5 L232.3,153.3 L232.1,154.2 L231.9,155.1 L231.7,156.1 L231.5,157.0 L231.3,157.9 L231.1,158.8 L230.9,159.7 L230.7,160.5 L230.6,161.4 L230.4,162.2 L230.2,163.0 L230.1,163.7 L230.0,164.4 L229.8,165.1 L229.7,165.8 L229.5,166.4 L229.4,167.1 L229.3,167.7 L229.2,168.3 L229.1,168.9 L229.0,169.5 L228.9,170.0 L228.8,170.6 L228.7,171.1 L228.7,171.5 L228.6,172.0 L228.6,172.4 L228.6,172.8 L228.6,173.1 L228.6,173.4 L228.6,173.6 L228.7,173.8 L228.7,173.9 L228.7,174.0 L228.8,174.1 L228.9,174.2 L229.0,174.3 L229.1,174.4 L229.2,174.5 L229.3,174.7 L229.5,174.8 L229.7,175.1 L229.9,175.4 L230.1,175.8 L230.4,176.3 L230.6,176.8 L231.0,177.3 L231.3,177.9 L231.7,178.6 L232.1,179.3 L232.5,180.0 L232.9,180.7 L233.3,181.4 L233.8,182.2 L234.2,182.9 L234.6,183.7 L235.0,184.4 L235.4,185.1 L235.8,185.8 L236.1,186.5 L236.4,187.2 L236.7,187.9 L237.0,188.6 L237.3,189.3 L237.6,190.1 L237.9,190.8 L238.1,191.5 L238.4,192.3 L238.7,193.0 L238.9,193.7 L239.2,194.3 L239.5,195.0 L239.8,195.5 L240.1,196.1 L240.4,196.6 L240.7,197.0 L241.0,197.4 L241.3,197.7 L241.7,198.0 L242.0,198.2 L242.3,198.4 L242.6,198.6 L242.9,198.7 L243.3,198.8 L243.6,198.9 L244.0,199.0 L244.4,199.1 L244.8,199.1 L245.3,199.2 L245.7,199.2 L246.3,199.3 L246.8,199.3 L247.4,199.3 L248.1,199.4 L248.8,199.4 L249.6,199.5 L250.4,199.5 L251.2,199.5 L252.1,199.5 L253.0,199.5 L253.8,199.4 L254.7,199.4 L255.5,199.3 L256.3,199.2 L257.0,199.1 L257.7,199.0 L258.3,198.8 L258.9,198.6 L259.4,198.4 L259.8,198.1 L260.3,197.8 L260.6,197.5 L261.0,197.2 L261.3,196.8 L261.6,196.5 L261.8,196.1 L262.0,195.7 L262.3,195.2 L262.5,194.8 L262.7,194.4 L262.9,193.9 L263.0,193.4 L263.2,193.0 L263.4,192.5 L263.6,192.0 L263.7,191.5 L263.8,190.9 L263.9,190.3 L264.0,189.7 L264.1,189.1 L264.2,188.5 L264.2,187.8 L264.3,187.2 L264.4,186.6 L264.4,186.0 L264.5,185.4 L264.6,184.9 L264.7,184.3 L264.8,183.8 L264.9,183.4 L265.0,183.0 L265.2,182.6 L265.3,182.2 L265.5,181.9 L265.6,181.5 L265.8,181.2 L265.9,180.9 L266.1,180.6 L266.3,180.4 L266.4,180.1 L266.7,179.9 L266.9,179.7 L267.1,179.4 L267.4,179.3 L267.7,179.1 L268.0,178.9 L268.3,178.7 L268.7,178.6 L269.0,178.5 L269.4,178.3 L269.8,178.2 L270.2,178.1 L270.6,178.0 L271.1,178.0 L271.6,177.9 L272.0,177.9 L272.6,177.9 L273.1,177.9 L273.6,177.9 L274.2,178.0 L274.9,178.0 L275.5,178.1 L276.2,178.2 L277.0,178.4 L277.9,178.6 L278.8,178.8 L279.8,179.1 L280.8,179.4 L281.8,179.6 L282.8,179.9 L283.8,180.3 L284.8,180.6 L285.7,180.8 L286.6,181.1 L287.4,181.4 L288.1,181.6 L288.7,181.8 L289.2,181.9" fill="none" stroke="#f1f1f1" stroke-width="0.7" stroke-linecap="round" stroke-linejoin="round" opacity="1.0"/>
<path d="M234.8,138.0 L234.7,138.4 L234.6,138.8 L234.4,139.3 L234.3,139.9 L234.1,140.5 L233.9,141.2 L233.7,141.9 L233.5,142.6 L233.3,143.4 L233.1,144.2 L232.8,145.0 L232.6,145.8 L232.4,146.6 L232.2,147.4 L232.0,148.2 L231.8,149.0 L231.6,149.8 L231.4,150.6 L231.2,151.5 L231.0,152.3 L230.8,153.2 L230.6,154.1 L230.4,155.1 L230.2,156.0 L230.0,156.9 L229.8,157.8 L229.6,158.7 L229.4,159.5 L229.3,160.4 L229.1,161.2 L228.9,162.0 L228.8,162.7 L228.7,163.4 L228.5,164.1 L228.4,164.8 L228.2,165.4 L228.1,166.1 L228.0,166.7 L227.9,167.3 L227.8,167.9 L227.7,168.5 L227.6,169.0 L227.5,169.6 L227.4,170.1 L227.4,170.5 L227.3,171.0 L227.3,171.4 L227.3,171.8 L227.3,172.1 L227.3,172.4 L227.3,172.6 L227.4,172.8 L227.4,172.9 L227.4,173.0 L227.5,173.1 L227.6,173.2 L227.7,173.3 L227.8,173.4 L227.9,173.5 L228.0,173.7 L228.2,173.8 L228.4,174.1 L228.6,174.4 L228.8,174.8 L229.1,175.3 L229.3,175.8 L229.7,176.3 L230.0,176.9 L230.4,177.6 L230.8,178.3 L231.2,179.0 L231.6,179.7 L232.0,180.4 L232.5,181.2 L232.9,181.9 L233.3,182.7 L233.7,183.4 L234.1,184.1 L234.5,184.8 L234.8,185.5 L235.1,186.2 L235.4,186.9 L235.7,187.6 L236.0,188.3 L236.3,189.1 L236.6,189.8 L236.8,190.5 L237.1,191.3 L237.4,192.0 L237.6,192.7 L237.9,193.3 L238.2,194.0 L238.5,194.5 L238.8,195.1 L239.1,195.6 L239.4,196.0 L239.7,196.4 L240.0,196.7 L240.4,197.0 L240.7,197.2 L241.0,197.4 L241.3,197.6 L241.6,197.7 L242.0,197.8 L242.3,197.9 L242.7,198.0 L243.1,198.1 L243.5,198.1 L244.0,198.2 L244.4,198.2 L245.0,198.3 L245.5,198.3 L246.1,198.3 L246.8,198.4 L247.5,198.4 L248.3,198.5 L249.1,198.5 L249.9,198.5 L250.8,198.5 L251.7,198.5 L252.5,198.4 L253.4,198.4 L254.2,198.3 L255.0,198.2 L255.7,198.1 L256.4,198.0 L257.0,197.8 L257.6,197.6 L258.1,197.4 L258.5,197.1 L259.0,196.8 L259.3,196.5 L259.7,196.2 L260.0,195.8 L260.3,195.5 L260.5,195.1 L260.7,194.7 L261.0,194.2 L261.2,193.8 L261.4,193.4 L261.6,192.9 L261.7,192.4 L261.9,192.0 L262.1,191.5 L262.3,191.0 L262.4,190.5 L262.5,189.9 L262.6,189.3 L262.7,188.7 L262.8,188.1 L262.9,187.5 L262.9,186.8 L263.0,186.2 L263.1,185.6 L263.1,185.0 L263.2,184.4 L263.3,183.9 L263.4,183.3 L263.5,182.8 L263.6,182.4 L263.7,182.0 L263.9,181.6 L264.0,181.2 L264.2,180.9 L264.3,180.5 L264.5,180.2 L264.6,179.9 L264.8,179.6 L265.0,179.4 L265.1,179.1 L265.4,178.9 L265.6,178.7 L265.8,178.4 L266.1,178.3 L266.4,178.1 L266.7,177.9 L267.0,177.7 L267.4,177.6 L267.7,177.5 L268.1,177.3 L268.5,177.2 L268.9,177.1 L269.3,177.0 L269.8,177.0 L270.3,176.9 L270.7,176.9 L271.3,176.9 L271.8,176.9 L272.3,176.9 L272.9,177.0 L273.6,177.0 L274.2,177.1 L274.9,177.2 L275.7,177.4 L276.6,177.6 L277.5,177.8 L278.5,178.1 L279.5,178.4 L280.5,178.6 L281.5,178.9 L282.5,179.3 L283.5,179.6 L284.4,179.8 L285.3,180.1 L286.1,180.4 L286.8,180.6 L287.4,180.8 L287.9,180.9" fill="none" stroke="#b26e6e" stroke-width="2.9" stroke-linecap="round" stroke-linejoin="round" opacity="1.0"/>
<path d="M234.8,138.0 L234.7,138.4 L234.6,138.8 L234.4,139.3 L234.3,139.9 L234.1,140.5 L233.9,141.2 L233.7,141.9 L233.5,142.6 L233.3,143.4 L233.1,144.2 L232.8,145.0 L232.6,145.8 L232.4,146.6 L232.2,147.4 L232.0,148.2 L231.8,149.0 L231.6,149.8 L231.4,150.6 L231.2,151.5 L231.0,152.3 L230.8,153.2 L230.6,154.1 L230.4,155.1 L230.2,156.0 L230.0,156.9 L229.8,157.8 L229.6,158.7 L229.4,159.5 L229.3,160.4 L229.1,161.2 L228.9,162.0 L228.8,162.7 L228.7,163.4 L228.5,164.1 L228.4,164.8 L228.2,165.4 L228.1,166.1 L228.0,166.7 L227.9,167.3 L227.8,167.9 L227.7,168.5 L227.6,169.0 L227.5,169.6 L227.4,170.1 L227.4,170.5 L227.3,171.0 L227.3,171.4 L227.3,171.8 L227.3,172.1 L227.3,172.4 L227.3,172.6 L227.4,172.8 L227.4,172.9 L227.4,173.0 L227.5,173.1 L227.6,173.2 L227.7,173.3 L227.8,173.4 L227.9,173.5 L228.0,173.7 L228.2,173.8 L228.4,174.1 L228.6,174.4 L228.8,174.8 L229.1,175.3 L229.3,175.8 L229.7,176.3 L230.0,176.9 L230.4,177.6 L230.8,178.3 L231.2,179.0 L231.6,179.7 L232.0,180.4 L232.5,181.2 L232.9,181.9 L233.3,182.7 L233.7,183.4 L234.1,184.1 L234.5,184.8 L234.8,185.5 L235.1,186.2 L235.4,186.9 L235.7,187.6 L236.0,188.3 L236.3,189.1 L236.6,189.8 L236.8,190.5 L237.1,191.3 L237.4,192.0 L237.6,192.7 L237.9,193.3 L238.2,194.0 L238.5,194.5 L238.8,195.1 L239.1,195.6 L239.4,196.0 L239.7,196.4 L240.0,196.7 L240.4,197.0 L240.7,197.2 L241.0,197.4 L241.3,197.6 L241.6,197.7 L242.0,197.8 L242.3,197.9 L242.7,198.0 L243.1,198.1 L243.5,198.1 L244.0,198.2 L244.4,198.2 L245.0,198.3 L245.5,198.3 L246.1,198.3 L246.8,198.4 L247.5,198.4 L248.3,198.5 L249.1,198.5 L249.9,198.5 L250.8,198.5 L251.7,198.5 L252.5,198.4 L253.4,198.4 L254.2,198.3 L255.0,198.2 L255.7,198.1 L256.4,198.0 L257.0,197.8 L257.6,197.6 L258.1,197.4 L258.5,197.1 L259.0,196.8 L259.3,196.5 L259.7,196.2 L260.0,195.8 L260.3,195.5 L260.5,195.1 L260.7,194.7 L261.0,194.2 L261.2,193.8 L261.4,193.4 L261.6,192.9 L261.7,192.4 L261.9,192.0 L262.1,191.5 L262.3,191.0 L262.4,190.5 L262.5,189.9 L262.6,189.3 L262.7,188.7 L262.8,188.1 L262.9,187.5 L262.9,186.8 L263.0,186.2 L263.1,185.6 L263.1,185.0 L263.2,184.4 L263.3,183.9 L263.4,183.3 L263.5,182.8 L263.6,182.4 L263.7,182.0 L263.9,181.6 L264.0,181.2 L264.2,180.9 L264.3,180.5 L264.5,180.2 L264.6,179.9 L264.8,179.6 L265.0,179.4 L265.1,179.1 L265.4,178.9 L265.6,178.7 L265.8,178.4 L266.1,178.3 L266.4,178.1 L266.7,177.9 L267.0,177.7 L267.4,177.6 L267.7,177.5 L268.1,177.3 L268.5,177.2 L268.9,177.1 L269.3,177.0 L269.8,177.0 L270.3,176.9 L270.7,176.9 L271.3,176.9 L271.8,176.9 L272.3,176.9 L272.9,177.0 L273.6,177.0 L274.2,177.1 L274.9,177.2 L275.7,177.4 L276.6,177.6 L277.5,177.8 L278.5,178.1 L279.5,178.4 L280.5,178.6 L281.5,178.9 L282.5,179.3 L283.5,179.6 L284.4,179.8 L285.3,180.1 L286.1,180.4 L286.8,180.6 L287.4,180.8 L287.9,180.9" fill="none" stroke="#e28e8e" stroke-width="2.1" stroke-linecap="round" stroke-linejoin="round" opacity="1.0"/>
<path d="M234.8,138.0 L234.7,138.4 L234.6,138.8 L234.4,139.3 L234.3,139.9 L234.1,140.5 L233.9,141.2 L233.7,141.9 L233.5,142.6 L233.3,143.4 L233.1,144.2 L232.8,145.0 L232.6,145.8 L232.4,146.6 L232.2,147.4 L232.0,148.2 L231.8,149.0 L231.6,149.8 L231.4,150.6 L231.2,151.5 L231.0,152.3 L230.8,153.2 L230.6,154.1 L230.4,155.1 L230.2,156.0 L230.0,156.9 L229.8,157.8 L229.6,158.7 L229.4,159.5 L229.3,160.4 L229.1,161.2 L228.9,162.0 L228.8,162.7 L228.7,163.4 L228.5,164.1 L228.4,164.8 L228.2,165.4 L228.1,166.1 L228.0,166.7 L227.9,167.3 L227.8,167.9 L227.7,168.5 L227.6,169.0 L227.5,169.6 L227.4,170.1 L227.4,170.5 L227.3,171.0 L227.3,171.4 L227.3,171.8 L227.3,172.1 L227.3,172.4 L227.3,172.6 L227.4,172.8 L227.4,172.9 L227.4,173.0 L227.5,173.1 L227.6,173.2 L227.7,173.3 L227.8,173.4 L227.9,173.5 L228.0,173.7 L228.2,173.8 L228.4,174.1 L228.6,174.4 L228.8,174.8 L229.1,175.3 L229.3,175.8 L229.7,176.3 L230.0,176.9 L230.4,177.6 L230.8,178.3 L231.2,179.0 L231.6,179.7 L232.0,180.4 L232.5,181.2 L232.9,181.9 L233.3,182.7 L233.7,183.4 L234.1,184.1 L234.5,184.8 L234.8,185.5 L235.1,186.2 L235.4,186.9 L235.7,187.6 L236.0,188.3 L236.3,189.1 L236.6,189.8 L236.8,190.5 L237.1,191.3 L237.4,192.0 L237.6,192.7 L237.9,193.3 L238.2,194.0 L238.5,194.5 L238.8,195.1 L239.1,195.6 L239.4,196.0 L239.7,196.4 L240.0,196.7 L240.4,197.0 L240.7,197.2 L241.0,197.4 L241.3,197.6 L241.6,197.7 L242.0,197.8 L242.3,197.9 L242.7,198.0 L243.1,198.1 L243.5,198.1 L244.0,198.2 L244.4,198.2 L245.0,198.3 L245.5,198.3 L246.1,198.3 L246.8,198.4 L247.5,198.4 L248.3,198.5 L249.1,198.5 L249.9,198.5 L250.8,198.5 L251.7,198.5 L252.5,198.4 L253.4,198.4 L254.2,198.3 L255.0,198.2 L255.7,198.1 L256.4,198.0 L257.0,197.8 L257.6,197.6 L258.1,197.4 L258.5,197.1 L259.0,196.8 L259.3,196.5 L259.7,196.2 L260.0,195.8 L260.3,195.5 L260.5,195.1 L260.7,194.7 L261.0,194.2 L261.2,193.8 L261.4,193.4 L261.6,192.9 L261.7,192.4 L261.9,192.0 L262.1,191.5 L262.3,191.0 L262.4,190.5 L262.5,189.9 L262.6,189.3 L262.7,188.7 L262.8,188.1 L262.9,187.5 L262.9,186.8 L263.0,186.2 L263.1,185.6 L263.1,185.0 L263.2,184.4 L263.3,183.9 L263.4,183.3 L263.5,182.8 L263.6,182.4 L263.7,182.0 L263.9,181.6 L264.0,181.2 L264.2,180.9 L264.3,180.5 L264.5,180.2 L264.6,179.9 L264.8,179.6 L265.0,179.4 L265.1,179.1 L265.4,178.9 L265.6,178.7 L265.8,178.4 L266.1,178.3 L266.4,178.1 L266.7,177.9 L267.0,177.7 L267.4,177.6 L267.7,177.5 L268.1,177.3 L268.5,177.2 L268.9,177.1 L269.3,177.0 L269.8,177.0 L270.3,176.9 L270.7,176.9 L271.3,176.9 L271.8,176.9 L272.3,176.9 L272.9,177.0 L273.6,177.0 L274.2,177.1 L274.9,177.2 L275.7,177.4 L276.6,177.6 L277.5,177.8 L278.5,178.1 L279.5,178.4 L280.5,178.6 L281.5,178.9 L282.5,179.3 L283.5,179.6 L284.4,179.8 L285.3,180.1 L286.1,180.4 L286.8,180.6 L287.4,180.8 L287.9,180.9" fill="none" stroke="#efc0c0" stroke-width="0.7" stroke-linecap="round" stroke-linejoin="round" opacity="1.0"/>
<polygon points="229.2,79.9 225.0,82.6 225.0,73.0 229.2,70.3" fill="#e6e6e6" stroke="#e6e6e6"/>
<polygon points="291.1,95.7 292.0,99.9 282.5,97.2 281.6,93.0" fill="#a75858" stroke="#a75858"/>
<polygon points="153.7,55.7 152.5,58.0 145.0,62.7 146.2,60.4" fill="#b26464" stroke="#b26464"/>
<polygon points="239.0,77.2 234.0,78.1 234.0,68.5 239.0,67.7" fill="#f0f0f0" stroke="#f0f0f0"/>
<polygon points="272.9,134.9 273.4,139.3 259.2,136.3 258.7,132.1" fill="#db7d7d" stroke="#db7d7d"/>
<polygon points="246.1,130.9 247.2,135.1 232.7,134.1 231.6,130.0" fill="#d97c7c" stroke="#d97c7c"/>
<polygon points="218.7,129.5 220.0,133.6 205.5,133.3 204.2,129.1" fill="#e0e0e0" stroke="#e0e0e0"/>
<polygon points="191.4,129.2 192.8,133.3 178.3,133.6 176.9,129.5" fill="#dfdfdf" stroke="#dfdfdf"/>
<polygon points="163.9,129.9 165.4,133.9 150.9,134.4 149.4,130.3" fill="#dfdfdf" stroke="#dfdfdf"/>
<polygon points="136.4,130.7 137.9,134.7 123.5,135.3 121.9,131.2" fill="#d87b7b" stroke="#d87b7b"/>
<polygon points="109.0,131.7 110.5,135.8 96.0,136.3 94.5,132.2" fill="#dfdfdf" stroke="#dfdfdf"/>
<polygon points="81.4,132.7 82.9,136.8 68.5,137.2 67.0,133.1" fill="#dfdfdf" stroke="#dfdfdf"/>
<polygon points="53.9,133.4 55.3,137.5 40.8,137.7 39.4,133.6" fill="#dfdfdf" stroke="#dfdfdf"/>
<polygon points="26.4,133.7 27.8,137.8 13.3,137.8 11.9,133.7" fill="#dfdfdf" stroke="#dfdfdf"/>
<path d="M222.4,176.4 L222.3,176.7 L222.3,177.1 L222.2,177.5 L222.1,177.9 L221.9,178.4 L221.8,178.9 L221.7,179.4 L221.6,180.0 L221.4,180.6 L221.3,181.2 L221.2,181.9 L221.1,182.6 L221.0,183.3 L221.0,184.0 L220.9,184.7 L220.9,185.5 L220.9,186.3 L221.0,187.2 L221.1,188.1 L221.2,189.1 L221.4,190.1 L221.6,191.1 L221.8,192.2 L221.9,193.2 L222.1,194.3 L222.3,195.3 L222.4,196.3 L222.5,197.3 L222.5,198.2 L222.6,199.1 L222.5,199.9 L222.4,200.6 L222.2,201.2 L222.0,201.8 L221.7,202.4 L221.4,202.9 L221.1,203.3 L220.7,203.8 L220.3,204.2 L219.9,204.5 L219.4,204.8 L219.0,205.2 L218.5,205.5 L218.1,205.7 L217.6,206.0 L217.2,206.2 L216.8,206.5 L216.4,206.7 L216.0,206.9 L215.6,207.1 L215.2,207.2 L214.7,207.3 L214.3,207.3 L213.8,207.3 L213.4,207.3 L212.9,207.4 L212.5,207.4 L212.1,207.4 L211.7,207.4 L211.3,207.5 L211.0,207.5 L210.7,207.6 L210.4,207.8 L210.2,208.0 L210.0,208.3 L209.9,208.6 L209.8,208.9 L209.8,209.3 L209.7,209.7 L209.7,210.2 L209.8,210.6 L209.8,211.1 L209.9,211.5 L209.9,212.0 L210.0,212.4 L210.1,212.8 L210.1,213.2 L210.2,213.5 L210.2,213.8 L210.2,214.0" fill="none" stroke="#a5a5a5" stroke-width="2.9" stroke-linecap="round" stroke-linejoin="round" opacity="1.0"/>
<path d="M222.4,176.4 L222.3,176.7 L222.3,177.1 L222.2,177.5 L222.1,177.9 L221.9,178.4 L221.8,178.9 L221.7,179.4 L221.6,180.0 L221.4,180.6 L221.3,181.2 L221.2,181.9 L221.1,182.6 L221.0,183.3 L221.0,184.0 L220.9,184.7 L220.9,185.5 L220.9,186.3 L221.0,187.2 L221.1,188.1 L221.2,189.1 L221.4,190.1 L221.6,191.1 L221.8,192.2 L221.9,193.2 L222.1,194.3 L222.3,195.3 L222.4,196.3 L222.5,197.3 L222.5,198.2 L222.6,199.1 L222.5,199.9 L222.4,200.6 L222.2,201.2 L222.0,201.8 L221.7,202.4 L221.4,202.9 L221.1,203.3 L220.7,203.8 L220.3,204.2 L219.9,204.5 L219.4,204.8 L219.0,205.2 L218.5,205.5 L218.1,205.7 L217.6,206.0 L217.2,206.2 L216.8,206.5 L216.4,206.7 L216.0,206.9 L215.6,207.1 L215.2,207.2 L214.7,207.3 L214.3,207.3 L213.8,207.3 L213.4,207.3 L212.9,207.4 L212.5,207.4 L212.1,207.4 L211.7,207.4 L211.3,207.5 L211.0,207.5 L210.7,207.6 L210.4,207.8 L210.2,208.0 L210.0,208.3 L209.9,208.6 L209.8,208.9 L209.8,209.3 L209.7,209.7 L209.7,210.2 L209.8,210.6 L209.8,211.1 L209.9,211.5 L209.9,212.0 L210.0,212.4 L210.1,212.8 L210.1,213.2 L210.2,213.5 L210.2,213.8 L210.2,214.0" fill="none" stroke="#e6e6e6" stroke-width="2.1" stroke-linecap="round" stroke-linejoin="round" opacity="1.0"/>
<path d="M222.4,176.4 L222.3,176.7 L222.3,177.1 L222.2,177.5 L222.1,177.9 L221.9,178.4 L221.8,178.9 L221.7,179.4 L221.6,180.0 L221.4,180.6 L221.3,181.2 L221.2,181.9 L221.1,182.6 L221.0,183.3 L221.0,184.0 L220.9,184.7 L220.9,185.5 L220.9,186.3 L221.0,187.2 L221.1,188.1 L221.2,189.1 L221.4,190.1 L221.6,191.1 L221.8,192.2 L221.9,193.2 L222.1,194.3 L222.3,195.3 L222.4,196.3 L222.5,197.3 L222.5,198.2 L222.6,199.1 L222.5,199.9 L222.4,200.6 L222.2,201.2 L222.0,201.8 L221.7,202.4 L221.4,202.9 L221.1,203.3 L220.7,203.8 L220.3,204.2 L219.9,204.5 L219.4,204.8 L219.0,205.2 L218.5,205.5 L218.1,205.7 L217.6,206.0 L217.2,206.2 L216.8,206.5 L216.4,206.7 L216.0,206.9 L215.6,207.1 L215.2,207.2 L214.7,207.3 L214.3,207.3 L213.8,207.3 L213.4,207.3 L212.9,207.4 L212.5,207.4 L212.1,207.4 L211.7,207.4 L211.3,207.5 L211.0,207.5 L210.7,207.6 L210.4,207.8 L210.2,208.0 L210.0,208.3 L209.9,208.6 L209.8,208.9 L209.8,209.3 L209.7,209.7 L209.7,210.2 L209.8,210.6 L209.8,211.1 L209.9,211.5 L209.9,212.0 L210.0,212.4 L210.1,212.8 L210.1,213.2 L210.2,213.5 L210.2,213.8 L210.2,214.0" fill="none" stroke="#f1f1f1" stroke-width="0.7" stroke-linecap="round" stroke-linejoin="round" opacity="1.0"/>
<path d="M221.2,176.4 L221.1,176.7 L221.1,177.1 L221.0,177.5 L220.9,177.9 L220.7,178.4 L220.6,178.9 L220.5,179.4 L220.4,180.0 L220.2,180.6 L220.1,181.2 L220.0,181.9 L219.9,182.6 L219.8,183.3 L219.8,184.0 L219.7,184.7 L219.7,185.5 L219.7,186.3 L219.8,187.2 L219.9,188.1 L220.0,189.1 L220.2,190.1 L220.4,191.1 L220.6,192.2 L220.7,193.2 L220.9,194.3 L221.1,195.3 L221.2,196.3 L221.3,197.3 L221.3,198.2 L221.4,199.1 L221.3,199.9 L221.2,200.6 L221.0,201.2 L220.8,201.8 L220.5,202.4 L220.2,202.9 L219.9,203.3 L219.5,203.8 L219.1,204.2 L218.7,204.5 L218.2,204.8 L217.8,205.2 L217.3,205.5 L216.9,205.7 L216.4,206.0 L216.0,206.2 L215.6,206.5 L215.2,206.7 L214.8,206.9 L214.4,207.1 L214.0,207.2 L213.5,207.3 L213.1,207.3 L212.6,207.3 L212.2,207.3 L211.7,207.4 L211.3,207.4 L210.9,207.4 L210.5,207.4 L210.1,207.5 L209.8,207.5 L209.5,207.6 L209.2,207.8 L209.0,208.0 L208.8,208.3 L208.7,208.6 L208.6,208.9 L208.6,209.3 L208.5,209.7 L208.5,210.2 L208.6,210.6 L208.6,211.1 L208.7,211.5 L208.7,212.0 L208.8,212.4 L208.9,212.8 L208.9,213.2 L209.0,213.5 L209.0,213.8 L209.0,214.0" fill="none" stroke="#b26e6e" stroke-width="2.9" stroke-linecap="round" stroke-linejoin="round" opacity="1.0"/>
<path d="M221.2,176.4 L221.1,176.7 L221.1,177.1 L221.0,177.5 L220.9,177.9 L220.7,178.4 L220.6,178.9 L220.5,179.4 L220.4,180.0 L220.2,180.6 L220.1,181.2 L220.0,181.9 L219.9,182.6 L219.8,183.3 L219.8,184.0 L219.7,184.7 L219.7,185.5 L219.7,186.3 L219.8,187.2 L219.9,188.1 L220.0,189.1 L220.2,190.1 L220.4,191.1 L220.6,192.2 L220.7,193.2 L220.9,194.3 L221.1,195.3 L221.2,196.3 L221.3,197.3 L221.3,198.2 L221.4,199.1 L221.3,199.9 L221.2,200.6 L221.0,201.2 L220.8,201.8 L220.5,202.4 L220.2,202.9 L219.9,203.3 L219.5,203.8 L219.1,204.2 L218.7,204.5 L218.2,204.8 L217.8,205.2 L217.3,205.5 L216.9,205.7 L216.4,206.0 L216.0,206.2 L215.6,206.5 L215.2,206.7 L214.8,206.9 L214.4,207.1 L214.0,207.2 L213.5,207.3 L213.1,207.3 L212.6,207.3 L212.2,207.3 L211.7,207.4 L211.3,207.4 L210.9,207.4 L210.5,207.4 L210.1,207.5 L209.8,207.5 L209.5,207.6 L209.2,207.8 L209.0,208.0 L208.8,208.3 L208.7,208.6 L208.6,208.9 L208.6,209.3 L208.5,209.7 L208.5,210.2 L208.6,210.6 L208.6,211.1 L208.7,211.5 L208.7,212.0 L208.8,212.4 L208.9,212.8 L208.9,213.2 L209.0,213.5 L209.0,213.8 L209.0,214.0" fill="none" stroke="#e28e8e" stroke-width="2.1" stroke-linecap="round" stroke-linejoin="round" opacity="1.0"/>
<path d="M221.2,176.4 L221.1,176.7 L221.1,177.1 L221.0,177.5 L220.9,177.9 L220.7,178.4 L220.6,178.9 L220.5,179.4 L220.4,180.0 L220.2,180.6 L220.1,181.2 L220.0,181.9 L219.9,182.6 L219.8,183.3 L219.8,184.0 L219.7,184.7 L219.7,185.5 L219.7,186.3 L219.8,187.2 L219.9,188.1 L220.0,189.1 L220.2,190.1 L220.4,191.1 L220.6,192.2 L220.7,193.2 L220.9,194.3 L221.1,195.3 L221.2,196.3 L221.3,197.3 L221.3,198.2 L221.4,199.1 L221.3,199.9 L221.2,200.6 L221.0,201.2 L220.8,201.8 L220.5,202.4 L220.2,202.9 L219.9,203.3 L219.5,203.8 L219.1,204.2 L218.7,204.5 L218.2,204.8 L217.8,205.2 L217.3,205.5 L216.9,205.7 L216.4,206.0 L216.0,206.2 L215.6,206.5 L215.2,206.7 L214.8,206.9 L214.4,207.1 L214.0,207.2 L213.5,207.3 L213.1,207.3 L212.6,207.3 L212.2,207.3 L211.7,207.4 L211.3,207.4 L210.9,207.4 L210.5,207.4 L210.1,207.5 L209.8,207.5 L209.5,207.6 L209.2,207.8 L209.0,208.0 L208.8,208.3 L208.7,208.6 L208.6,208.9 L208.6,209.3 L208.5,209.7 L208.5,210.2 L208.6,210.6 L208.6,211.1 L208.7,211.5 L208.7,212.0 L208.8,212.4 L208.9,212.8 L208.9,213.2 L209.0,213.5 L209.0,213.8 L209.0,214.0" fill="none" stroke="#efc0c0" stroke-width="0.7" stroke-linecap="round" stroke-linejoin="round" opacity="1.0"/>
<polygon points="234.0,78.1 229.2,79.9 229.2,70.3 234.0,68.5" fill="#f2f2f2" stroke="#f2f2f2"/>
<polygon points="182.7,60.8 182.0,56.3 174.5,61.0 175.3,65.5" fill="#884848" stroke="#884848"/>
<polygon points="319.8,90.3 318.5,87.8 309.0,85.1 310.3,87.6" fill="#5d3131" stroke="#5d3131"/>
<polygon points="23.6,125.1 25.0,129.3 10.5,129.3 9.1,125.1" fill="#ffffff" stroke="#ffffff"/>
<polygon points="51.1,124.8 52.5,129.0 38.0,129.2 36.6,125.0" fill="#ffffff" stroke="#ffffff"/>
<polygon points="78.5,124.2 79.9,128.4 65.5,128.8 64.0,124.6" fill="#ffffff" stroke="#ffffff"/>
<polygon points="105.9,123.2 107.4,127.4 92.9,127.9 91.4,123.7" fill="#ffffff" stroke="#ffffff"/>
<polygon points="133.4,122.2 134.9,126.4 120.4,126.9 118.9,122.7" fill="#ffe4e4" stroke="#ffe4e4"/>
<polygon points="160.9,121.4 162.4,125.6 147.9,126.0 146.4,121.8" fill="#ffffff" stroke="#ffffff"/>
<polygon points="188.4,120.6 189.9,124.8 175.4,125.2 173.9,121.0" fill="#ffffff" stroke="#ffffff"/>
<polygon points="216.2,120.8 217.5,125.1 203.0,124.7 201.7,120.5" fill="#ffffff" stroke="#ffffff"/>
<polygon points="243.9,122.1 245.0,126.4 230.5,125.5 229.4,121.3" fill="#ffdede" stroke="#ffdede"/>
<polygon points="271.8,125.8 272.4,130.3 258.2,127.6 257.5,123.3" fill="#ffd6d6" stroke="#ffd6d6"/>
<polygon points="182.4,65.3 182.7,60.8 175.3,65.5 174.9,70.0" fill="#894848" stroke="#894848"/>
<polygon points="182.0,56.3 180.2,52.1 172.8,56.8 174.5,61.0" fill="#814444" stroke="#814444"/>
<polygon points="272.4,130.3 272.9,134.9 258.7,132.1 258.2,127.6" fill="#ffcccc" stroke="#ffcccc"/>
<polygon points="245.0,126.4 246.1,130.9 231.6,130.0 230.5,125.5" fill="#ffcbcb" stroke="#ffcbcb"/>
<polygon points="217.5,125.1 218.7,129.5 204.2,129.1 203.0,124.7" fill="#ffffff" stroke="#ffffff"/>
<polygon points="189.9,124.8 191.4,129.2 176.9,129.5 175.4,125.2" fill="#ffffff" stroke="#ffffff"/>
<polygon points="162.4,125.6 163.9,129.9 149.4,130.3 147.9,126.0" fill="#ffffff" stroke="#ffffff"/>
<polygon points="134.9,126.4 136.4,130.7 121.9,131.2 120.4,126.9" fill="#ffcaca" stroke="#ffcaca"/>
<polygon points="107.4,127.4 109.0,131.7 94.5,132.2 92.9,127.9" fill="#ffffff" stroke="#ffffff"/>
<polygon points="79.9,128.4 81.4,132.7 67.0,133.1 65.5,128.8" fill="#ffffff" stroke="#ffffff"/>
<polygon points="52.5,129.0 53.9,133.4 39.4,133.6 38.0,129.2" fill="#ffffff" stroke="#ffffff"/>
<polygon points="25.0,129.3 26.4,133.7 11.9,133.7 10.5,129.3" fill="#ffffff" stroke="#ffffff"/>
<path d="M217.4,159.7 L217.5,160.0 L217.6,160.3 L217.7,160.7 L217.8,161.2 L217.9,161.7 L218.1,162.2 L218.2,162.8 L218.3,163.3 L218.5,163.9 L218.6,164.5 L218.8,165.1 L219.0,165.7 L219.1,166.3 L219.2,166.9 L219.4,167.5 L219.5,168.0 L219.6,168.5 L219.7,169.1 L219.9,169.7 L220.0,170.3 L220.1,170.9 L220.2,171.5 L220.4,172.1 L220.5,172.7 L220.6,173.3 L220.7,173.9 L220.8,174.4 L220.9,174.9 L221.0,175.3 L221.1,175.8 L221.1,176.1 L221.2,176.4" fill="none" stroke="#8c8c8c" stroke-width="6.3" stroke-linecap="round" stroke-linejoin="round" opacity="1.0"/>
<path d="M217.4,159.7 L217.5,160.0 L217.6,160.3 L217.7,160.7 L217.8,161.2 L217.9,161.7 L218.1,162.2 L218.2,162.8 L218.3,163.3 L218.5,163.9 L218.6,164.5 L218.8,165.1 L219.0,165.7 L219.1,166.3 L219.2,166.9 L219.4,167.5 L219.5,168.0 L219.6,168.5 L219.7,169.1 L219.9,169.7 L220.0,170.3 L220.1,170.9 L220.2,171.5 L220.4,172.1 L220.5,172.7 L220.6,173.3 L220.7,173.9 L220.8,174.4 L220.9,174.9 L221.0,175.3 L221.1,175.8 L221.1,176.1 L221.2,176.4" fill="none" stroke="#d7d7d7" stroke-width="5.5" stroke-linecap="round" stroke-linejoin="round" opacity="1.0"/>
<path d="M217.4,159.7 L217.5,160.0 L217.6,160.3 L217.7,160.7 L217.8,161.2 L217.9,161.7 L218.1,162.2 L218.2,162.8 L218.3,163.3 L218.5,163.9 L218.6,164.5 L218.8,165.1 L219.0,165.7 L219.1,166.3 L219.2,166.9 L219.4,167.5 L219.5,168.0 L219.6,168.5 L219.7,169.1 L219.9,169.7 L220.0,170.3 L220.1,170.9 L220.2,171.5 L220.4,172.1 L220.5,172.7 L220.6,173.3 L220.7,173.9 L220.8,174.4 L220.9,174.9 L221.0,175.3 L221.1,175.8 L221.1,176.1 L221.2,176.4" fill="none" stroke="#e9e9e9" stroke-width="1.9" stroke-linecap="round" stroke-linejoin="round" opacity="1.0"/>
<polygon points="180.9,69.5 182.4,65.3 174.9,70.0 173.5,74.2" fill="#844646" stroke="#844646"/>
<path d="M125.6,75.6 L125.9,75.8 L126.3,75.9 L126.7,76.1 L127.2,76.4 L127.7,76.6 L128.3,76.9 L128.8,77.2 L129.4,77.5 L130.1,77.8 L130.7,78.1 L131.3,78.4 L132.0,78.8 L132.6,79.1 L133.2,79.4 L133.8,79.8 L134.3,80.1 L134.8,80.4 L135.4,80.8 L135.9,81.1 L136.4,81.5 L136.9,81.9 L137.5,82.2 L138.0,82.6 L138.5,83.0 L139.0,83.4 L139.6,83.7 L140.1,84.1 L140.5,84.5 L141.0,84.9 L141.5,85.2 L142.0,85.6 L142.4,85.9 L142.8,86.2 L143.3,86.5 L143.7,86.8 L144.1,87.1 L144.6,87.4 L145.0,87.6 L145.4,87.9 L145.8,88.2 L146.2,88.4 L146.5,88.7 L146.9,89.0 L147.2,89.3 L147.5,89.6 L147.8,89.9 L148.1,90.2 L148.3,90.6 L148.5,91.0 L148.7,91.4 L148.9,91.8 L149.1,92.2 L149.2,92.6 L149.4,93.0 L149.5,93.5 L149.6,93.9 L149.7,94.4 L149.7,94.9 L149.7,95.3 L149.7,95.8 L149.7,96.2 L149.6,96.7 L149.5,97.2 L149.3,97.6 L149.1,98.0 L148.9,98.5 L148.6,98.9 L148.2,99.4 L147.9,99.8 L147.5,100.3 L147.1,100.8 L146.6,101.2 L146.2,101.7 L145.7,102.1 L145.2,102.6 L144.7,103.0 L144.1,103.5 L143.6,103.9 L143.1,104.4 L142.5,104.8 L141.9,105.2 L141.3,105.7 L140.7,106.1 L140.0,106.5 L139.3,106.9 L138.5,107.3 L137.8,107.7 L137.1,108.1 L136.3,108.5 L135.6,109.0 L134.8,109.4 L134.1,109.8 L133.4,110.2 L132.8,110.7 L132.2,111.1 L131.6,111.6 L131.1,112.1 L130.5,112.6 L130.0,113.1 L129.5,113.6 L129.0,114.1 L128.6,114.6 L128.1,115.1 L127.7,115.6 L127.3,116.1 L126.9,116.7 L126.5,117.2 L126.1,117.7 L125.8,118.2 L125.4,118.8 L125.1,119.3 L124.8,119.8 L124.5,120.3 L124.2,120.8 L124.0,121.3 L123.7,121.8 L123.5,122.3 L123.3,122.8 L123.1,123.3 L122.9,123.8 L122.7,124.3 L122.6,124.8 L122.4,125.3 L122.3,125.8 L122.2,126.3 L122.1,126.8 L122.1,127.4 L122.0,127.9 L122.0,128.5 L121.9,129.0 L121.9,129.6 L122.0,130.3 L122.0,130.9 L122.0,131.5 L122.1,132.1 L122.2,132.8 L122.3,133.4 L122.4,134.0 L122.5,134.7 L122.7,135.3 L122.8,135.9 L123.0,136.4 L123.2,137.0 L123.4,137.5 L123.6,138.0 L123.8,138.5 L124.1,138.9 L124.3,139.4 L124.6,139.8 L124.9,140.3 L125.2,140.7 L125.5,141.1 L125.8,141.5 L126.2,141.9 L126.6,142.3 L127.0,142.7 L127.4,143.1 L127.8,143.5 L128.3,143.9 L128.8,144.3 L129.3,144.7 L129.9,145.1 L130.5,145.6 L131.1,146.0 L131.7,146.4 L132.4,146.8 L133.0,147.3 L133.7,147.7 L134.4,148.1 L135.2,148.6 L135.9,149.0 L136.6,149.4 L137.4,149.8 L138.2,150.2 L138.9,150.7 L139.7,151.1 L140.5,151.5 L141.3,152.0 L142.2,152.4 L143.1,152.9 L144.0,153.4 L144.9,153.8 L145.8,154.3 L146.7,154.8 L147.6,155.2 L148.5,155.7 L149.4,156.1 L150.3,156.5 L151.1,156.9 L151.9,157.2 L152.7,157.6 L153.4,157.9 L154.1,158.2 L154.6,158.5 L155.2,158.8 L155.7,159.1 L156.2,159.3 L156.6,159.6 L157.0,159.8 L157.4,160.1 L157.9,160.3 L158.3,160.4 L158.7,160.6 L159.2,160.7 L159.7,160.7 L160.3,160.7 L160.9,160.7 L161.6,160.6 L162.3,160.4 L163.2,160.1 L164.0,159.8 L164.9,159.3 L165.9,158.8 L166.8,158.3 L167.8,157.7 L168.8,157.1 L169.8,156.5 L170.8,156.0 L171.8,155.5 L172.8,155.1 L173.7,154.7 L174.6,154.5 L175.4,154.3 L176.2,154.3 L176.9,154.4 L177.6,154.7 L178.3,155.0 L178.9,155.5 L179.5,156.0 L180.0,156.6 L180.6,157.2 L181.1,157.8 L181.7,158.5 L182.2,159.2 L182.7,159.9 L183.3,160.5 L183.8,161.1 L184.4,161.7 L185.0,162.2 L185.6,162.6 L186.2,163.0 L186.9,163.3 L187.6,163.6 L188.3,163.9 L189.0,164.2 L189.7,164.4 L190.4,164.6 L191.1,164.8 L191.8,165.0 L192.5,165.2 L193.2,165.4 L193.9,165.5 L194.6,165.6 L195.3,165.7 L195.9,165.8 L196.6,165.9 L197.2,166.0 L197.9,166.0 L198.5,166.0 L199.2,166.0 L199.8,166.0 L200.4,166.0 L201.0,165.9 L201.7,165.8 L202.3,165.8 L202.9,165.6 L203.5,165.5 L204.0,165.4 L204.6,165.2 L205.1,165.0 L205.7,164.8 L206.2,164.6 L206.7,164.3 L207.2,164.0 L207.7,163.7 L208.2,163.3 L208.6,162.9 L209.1,162.4 L209.5,162.0 L209.9,161.5 L210.4,161.0 L210.8,160.6 L211.2,160.1 L211.6,159.7 L211.9,159.3 L212.3,159.0 L212.7,158.7 L213.0,158.4 L213.3,158.2 L213.7,158.0 L214.0,157.8 L214.3,157.7 L214.6,157.6 L214.9,157.5 L215.2,157.4 L215.5,157.4 L215.7,157.3 L216.0,157.3 L216.2,157.2 L216.4,157.2 L216.6,157.2 L216.8,157.2 L217.0,157.1 L217.1,157.1" fill="none" stroke="#a5a5a5" stroke-width="2.9" stroke-linecap="round" stroke-linejoin="round" opacity="1.0"/>
<path d="M125.6,75.6 L125.9,75.8 L126.3,75.9 L126.7,76.1 L127.2,76.4 L127.7,76.6 L128.3,76.9 L128.8,77.2 L129.4,77.5 L130.1,77.8 L130.7,78.1 L131.3,78.4 L132.0,78.8 L132.6,79.1 L133.2,79.4 L133.8,79.8 L134.3,80.1 L134.8,80.4 L135.4,80.8 L135.9,81.1 L136.4,81.5 L136.9,81.9 L137.5,82.2 L138.0,82.6 L138.5,83.0 L139.0,83.4 L139.6,83.7 L140.1,84.1 L140.5,84.5 L141.0,84.9 L141.5,85.2 L142.0,85.6 L142.4,85.9 L142.8,86.2 L143.3,86.5 L143.7,86.8 L144.1,87.1 L144.6,87.4 L145.0,87.6 L145.4,87.9 L145.8,88.2 L146.2,88.4 L146.5,88.7 L146.9,89.0 L147.2,89.3 L147.5,89.6 L147.8,89.9 L148.1,90.2 L148.3,90.6 L148.5,91.0 L148.7,91.4 L148.9,91.8 L149.1,92.2 L149.2,92.6 L149.4,93.0 L149.5,93.5 L149.6,93.9 L149.7,94.4 L149.7,94.9 L149.7,95.3 L149.7,95.8 L149.7,96.2 L149.6,96.7 L149.5,97.2 L149.3,97.6 L149.1,98.0 L148.9,98.5 L148.6,98.9 L148.2,99.4 L147.9,99.8 L147.5,100.3 L147.1,100.8 L146.6,101.2 L146.2,101.7 L145.7,102.1 L145.2,102.6 L144.7,103.0 L144.1,103.5 L143.6,103.9 L143.1,104.4 L142.5,104.8 L141.9,105.2 L141.3,105.7 L140.7,106.1 L140.0,106.5 L139.3,106.9 L138.5,107.3 L137.8,107.7 L137.1,108.1 L136.3,108.5 L135.6,109.0 L134.8,109.4 L134.1,109.8 L133.4,110.2 L132.8,110.7 L132.2,111.1 L131.6,111.6 L131.1,112.1 L130.5,112.6 L130.0,113.1 L129.5,113.6 L129.0,114.1 L128.6,114.6 L128.1,115.1 L127.7,115.6 L127.3,116.1 L126.9,116.7 L126.5,117.2 L126.1,117.7 L125.8,118.2 L125.4,118.8 L125.1,119.3 L124.8,119.8 L124.5,120.3 L124.2,120.8 L124.0,121.3 L123.7,121.8 L123.5,122.3 L123.3,122.8 L123.1,123.3 L122.9,123.8 L122.7,124.3 L122.6,124.8 L122.4,125.3 L122.3,125.8 L122.2,126.3 L122.1,126.8 L122.1,127.4 L122.0,127.9 L122.0,128.5 L121.9,129.0 L121.9,129.6 L122.0,130.3 L122.0,130.9 L122.0,131.5 L122.1,132.1 L122.2,132.8 L122.3,133.4 L122.4,134.0 L122.5,134.7 L122.7,135.3 L122.8,135.9 L123.0,136.4 L123.2,137.0 L123.4,137.5 L123.6,138.0 L123.8,138.5 L124.1,138.9 L124.3,139.4 L124.6,139.8 L124.9,140.3 L125.2,140.7 L125.5,141.1 L125.8,141.5 L126.2,141.9 L126.6,142.3 L127.0,142.7 L127.4,143.1 L127.8,143.5 L128.3,143.9 L128.8,144.3 L129.3,144.7 L129.9,145.1 L130.5,145.6 L131.1,146.0 L131.7,146.4 L132.4,146.8 L133.0,147.3 L133.7,147.7 L134.4,148.1 L135.2,148.6 L135.9,149.0 L136.6,149.4 L137.4,149.8 L138.2,150.2 L138.9,150.7 L139.7,151.1 L140.5,151.5 L141.3,152.0 L142.2,152.4 L143.1,152.9 L144.0,153.4 L144.9,153.8 L145.8,154.3 L146.7,154.8 L147.6,155.2 L148.5,155.7 L149.4,156.1 L150.3,156.5 L151.1,156.9 L151.9,157.2 L152.7,157.6 L153.4,157.9 L154.1,158.2 L154.6,158.5 L155.2,158.8 L155.7,159.1 L156.2,159.3 L156.6,159.6 L157.0,159.8 L157.4,160.1 L157.9,160.3 L158.3,160.4 L158.7,160.6 L159.2,160.7 L159.7,160.7 L160.3,160.7 L160.9,160.7 L161.6,160.6 L162.3,160.4 L163.2,160.1 L164.0,159.8 L164.9,159.3 L165.9,158.8 L166.8,158.3 L167.8,157.7 L168.8,157.1 L169.8,156.5 L170.8,156.0 L171.8,155.5 L172.8,155.1 L173.7,154.7 L174.6,154.5 L175.4,154.3 L176.2,154.3 L176.9,154.4 L177.6,154.7 L178.3,155.0 L178.9,155.5 L179.5,156.0 L180.0,156.6 L180.6,157.2 L181.1,157.8 L181.7,158.5 L182.2,159.2 L182.7,159.9 L183.3,160.5 L183.8,161.1 L184.4,161.7 L185.0,162.2 L185.6,162.6 L186.2,163.0 L186.9,163.3 L187.6,163.6 L188.3,163.9 L189.0,164.2 L189.7,164.4 L190.4,164.6 L191.1,164.8 L191.8,165.0 L192.5,165.2 L193.2,165.4 L193.9,165.5 L194.6,165.6 L195.3,165.7 L195.9,165.8 L196.6,165.9 L197.2,166.0 L197.9,166.0 L198.5,166.0 L199.2,166.0 L199.8,166.0 L200.4,166.0 L201.0,165.9 L201.7,165.8 L202.3,165.8 L202.9,165.6 L203.5,165.5 L204.0,165.4 L204.6,165.2 L205.1,165.0 L205.7,164.8 L206.2,164.6 L206.7,164.3 L207.2,164.0 L207.7,163.7 L208.2,163.3 L208.6,162.9 L209.1,162.4 L209.5,162.0 L209.9,161.5 L210.4,161.0 L210.8,160.6 L211.2,160.1 L211.6,159.7 L211.9,159.3 L212.3,159.0 L212.7,158.7 L213.0,158.4 L213.3,158.2 L213.7,158.0 L214.0,157.8 L214.3,157.7 L214.6,157.6 L214.9,157.5 L215.2,157.4 L215.5,157.4 L215.7,157.3 L216.0,157.3 L216.2,157.2 L216.4,157.2 L216.6,157.2 L216.8,157.2 L217.0,157.1 L217.1,157.1" fill="none" stroke="#e6e6e6" stroke-width="2.1" stroke-linecap="round" stroke-linejoin="round" opacity="1.0"/>
<path d="M125.6,75.6 L125.9,75.8 L126.3,75.9 L126.7,76.1 L127.2,76.4 L127.7,76.6 L128.3,76.9 L128.8,77.2 L129.4,77.5 L130.1,77.8 L130.7,78.1 L131.3,78.4 L132.0,78.8 L132.6,79.1 L133.2,79.4 L133.8,79.8 L134.3,80.1 L134.8,80.4 L135.4,80.8 L135.9,81.1 L136.4,81.5 L136.9,81.9 L137.5,82.2 L138.0,82.6 L138.5,83.0 L139.0,83.4 L139.6,83.7 L140.1,84.1 L140.5,84.5 L141.0,84.9 L141.5,85.2 L142.0,85.6 L142.4,85.9 L142.8,86.2 L143.3,86.5 L143.7,86.8 L144.1,87.1 L144.6,87.4 L145.0,87.6 L145.4,87.9 L145.8,88.2 L146.2,88.4 L146.5,88.7 L146.9,89.0 L147.2,89.3 L147.5,89.6 L147.8,89.9 L148.1,90.2 L148.3,90.6 L148.5,91.0 L148.7,91.4 L148.9,91.8 L149.1,92.2 L149.2,92.6 L149.4,93.0 L149.5,93.5 L149.6,93.9 L149.7,94.4 L149.7,94.9 L149.7,95.3 L149.7,95.8 L149.7,96.2 L149.6,96.7 L149.5,97.2 L149.3,97.6 L149.1,98.0 L148.9,98.5 L148.6,98.9 L148.2,99.4 L147.9,99.8 L147.5,100.3 L147.1,100.8 L146.6,101.2 L146.2,101.7 L145.7,102.1 L145.2,102.6 L144.7,103.0 L144.1,103.5 L143.6,103.9 L143.1,104.4 L142.5,104.8 L141.9,105.2 L141.3,105.7 L140.7,106.1 L140.0,106.5 L139.3,106.9 L138.5,107.3 L137.8,107.7 L137.1,108.1 L136.3,108.5 L135.6,109.0 L134.8,109.4 L134.1,109.8 L133.4,110.2 L132.8,110.7 L132.2,111.1 L131.6,111.6 L131.1,112.1 L130.5,112.6 L130.0,113.1 L129.5,113.6 L129.0,114.1 L128.6,114.6 L128.1,115.1 L127.7,115.6 L127.3,116.1 L126.9,116.7 L126.5,117.2 L126.1,117.7 L125.8,118.2 L125.4,118.8 L125.1,119.3 L124.8,119.8 L124.5,120.3 L124.2,120.8 L124.0,121.3 L123.7,121.8 L123.5,122.3 L123.3,122.8 L123.1,123.3 L122.9,123.8 L122.7,124.3 L122.6,124.8 L122.4,125.3 L122.3,125.8 L122.2,126.3 L122.1,126.8 L122.1,127.4 L122.0,127.9 L122.0,128.5 L121.9,129.0 L121.9,129.6 L122.0,130.3 L122.0,130.9 L122.0,131.5 L122.1,132.1 L122.2,132.8 L122.3,133.4 L122.4,134.0 L122.5,134.7 L122.7,135.3 L122.8,135.9 L123.0,136.4 L123.2,137.0 L123.4,137.5 L123.6,138.0 L123.8,138.5 L124.1,138.9 L124.3,139.4 L124.6,139.8 L124.9,140.3 L125.2,140.7 L125.5,141.1 L125.8,141.5 L126.2,141.9 L126.6,142.3 L127.0,142.7 L127.4,143.1 L127.8,143.5 L128.3,143.9 L128.8,144.3 L129.3,144.7 L129.9,145.1 L130.5,145.6 L131.1,146.0 L131.7,146.4 L132.4,146.8 L133.0,147.3 L133.7,147.7 L134.4,148.1 L135.2,148.6 L135.9,149.0 L136.6,149.4 L137.4,149.8 L138.2,150.2 L138.9,150.7 L139.7,151.1 L140.5,151.5 L141.3,152.0 L142.2,152.4 L143.1,152.9 L144.0,153.4 L144.9,153.8 L145.8,154.3 L146.7,154.8 L147.6,155.2 L148.5,155.7 L149.4,156.1 L150.3,156.5 L151.1,156.9 L151.9,157.2 L152.7,157.6 L153.4,157.9 L154.1,158.2 L154.6,158.5 L155.2,158.8 L155.7,159.1 L156.2,159.3 L156.6,159.6 L157.0,159.8 L157.4,160.1 L157.9,160.3 L158.3,160.4 L158.7,160.6 L159.2,160.7 L159.7,160.7 L160.3,160.7 L160.9,160.7 L161.6,160.6 L162.3,160.4 L163.2,160.1 L164.0,159.8 L164.9,159.3 L165.9,158.8 L166.8,158.3 L167.8,157.7 L168.8,157.1 L169.8,156.5 L170.8,156.0 L171.8,155.5 L172.8,155.1 L173.7,154.7 L174.6,154.5 L175.4,154.3 L176.2,154.3 L176.9,154.4 L177.6,154.7 L178.3,155.0 L178.9,155.5 L179.5,156.0 L180.0,156.6 L180.6,157.2 L181.1,157.8 L181.7,158.5 L182.2,159.2 L182.7,159.9 L183.3,160.5 L183.8,161.1 L184.4,161.7 L185.0,162.2 L185.6,162.6 L186.2,163.0 L186.9,163.3 L187.6,163.6 L188.3,163.9 L189.0,164.2 L189.7,164.4 L190.4,164.6 L191.1,164.8 L191.8,165.0 L192.5,165.2 L193.2,165.4 L193.9,165.5 L194.6,165.6 L195.3,165.7 L195.9,165.8 L196.6,165.9 L197.2,166.0 L197.9,166.0 L198.5,166.0 L199.2,166.0 L199.8,166.0 L200.4,166.0 L201.0,165.9 L201.7,165.8 L202.3,165.8 L202.9,165.6 L203.5,165.5 L204.0,165.4 L204.6,165.2 L205.1,165.0 L205.7,164.8 L206.2,164.6 L206.7,164.3 L207.2,164.0 L207.7,163.7 L208.2,163.3 L208.6,162.9 L209.1,162.4 L209.5,162.0 L209.9,161.5 L210.4,161.0 L210.8,160.6 L211.2,160.1 L211.6,159.7 L211.9,159.3 L212.3,159.0 L212.7,158.7 L213.0,158.4 L213.3,158.2 L213.7,158.0 L214.0,157.8 L214.3,157.7 L214.6,157.6 L214.9,157.5 L215.2,157.4 L215.5,157.4 L215.7,157.3 L216.0,157.3 L216.2,157.2 L216.4,157.2 L216.6,157.2 L216.8,157.2 L217.0,157.1 L217.1,157.1" fill="none" stroke="#f1f1f1" stroke-width="0.7" stroke-linecap="round" stroke-linejoin="round" opacity="1.0"/>
<path d="M124.0,74.0 L124.3,74.2 L124.7,74.3 L125.1,74.5 L125.6,74.8 L126.1,75.0 L126.7,75.3 L127.2,75.6 L127.8,75.9 L128.5,76.2 L129.1,76.5 L129.7,76.8 L130.4,77.2 L131.0,77.5 L131.6,77.8 L132.2,78.2 L132.7,78.5 L133.2,78.8 L133.8,79.2 L134.3,79.5 L134.8,79.9 L135.3,80.3 L135.9,80.6 L136.4,81.0 L136.9,81.4 L137.4,81.8 L137.9,82.1 L138.5,82.5 L138.9,82.9 L139.4,83.3 L139.9,83.6 L140.4,84.0 L140.8,84.3 L141.2,84.6 L141.7,84.9 L142.1,85.2 L142.5,85.5 L143.0,85.8 L143.4,86.0 L143.8,86.3 L144.2,86.6 L144.6,86.8 L144.9,87.1 L145.3,87.4 L145.6,87.7 L145.9,88.0 L146.2,88.3 L146.5,88.6 L146.7,89.0 L146.9,89.4 L147.1,89.8 L147.3,90.2 L147.5,90.6 L147.6,91.0 L147.8,91.4 L147.9,91.9 L148.0,92.3 L148.1,92.8 L148.1,93.3 L148.1,93.7 L148.1,94.2 L148.1,94.6 L148.0,95.1 L147.9,95.6 L147.7,96.0 L147.5,96.4 L147.3,96.9 L147.0,97.3 L146.6,97.8 L146.3,98.2 L145.9,98.7 L145.5,99.2 L145.0,99.6 L144.6,100.1 L144.1,100.5 L143.6,101.0 L143.1,101.4 L142.5,101.9 L142.0,102.3 L141.5,102.8 L140.9,103.2 L140.3,103.6 L139.7,104.1 L139.1,104.5 L138.4,104.9 L137.7,105.3 L136.9,105.7 L136.2,106.1 L135.5,106.5 L134.7,106.9 L134.0,107.4 L133.2,107.8 L132.5,108.2 L131.8,108.6 L131.2,109.1 L130.6,109.5 L130.0,110.0 L129.5,110.5 L128.9,111.0 L128.4,111.5 L127.9,112.0 L127.4,112.5 L127.0,113.0 L126.5,113.5 L126.1,114.0 L125.7,114.5 L125.3,115.1 L124.9,115.6 L124.5,116.1 L124.2,116.6 L123.8,117.2 L123.5,117.7 L123.2,118.2 L122.9,118.7 L122.6,119.2 L122.4,119.7 L122.1,120.2 L121.9,120.7 L121.7,121.2 L121.5,121.7 L121.3,122.2 L121.1,122.7 L121.0,123.2 L120.8,123.7 L120.7,124.2 L120.6,124.7 L120.5,125.2 L120.5,125.8 L120.4,126.3 L120.4,126.9 L120.3,127.4 L120.3,128.0 L120.4,128.7 L120.4,129.3 L120.4,129.9 L120.5,130.5 L120.6,131.2 L120.7,131.8 L120.8,132.4 L120.9,133.1 L121.1,133.7 L121.2,134.3 L121.4,134.8 L121.6,135.4 L121.8,135.9 L122.0,136.4 L122.2,136.9 L122.5,137.3 L122.7,137.8 L123.0,138.2 L123.3,138.7 L123.6,139.1 L123.9,139.5 L124.2,139.9 L124.6,140.3 L125.0,140.7 L125.4,141.1 L125.8,141.5 L126.2,141.9 L126.7,142.3 L127.2,142.7 L127.7,143.1 L128.3,143.5 L128.9,144.0 L129.5,144.4 L130.1,144.8 L130.8,145.2 L131.4,145.7 L132.1,146.1 L132.8,146.5 L133.6,146.9 L134.3,147.4 L135.0,147.8 L135.8,148.2 L136.6,148.6 L137.3,149.1 L138.1,149.5 L138.9,149.9 L139.7,150.4 L140.6,150.8 L141.5,151.3 L142.4,151.8 L143.3,152.2 L144.2,152.7 L145.1,153.2 L146.0,153.6 L146.9,154.1 L147.8,154.5 L148.7,154.9 L149.5,155.3 L150.3,155.6 L151.1,156.0 L151.8,156.3 L152.5,156.6 L153.0,156.9 L153.6,157.2 L154.1,157.5 L154.6,157.7 L155.0,158.0 L155.4,158.2 L155.8,158.5 L156.3,158.7 L156.7,158.8 L157.1,159.0 L157.6,159.1 L158.1,159.1 L158.7,159.1 L159.3,159.1 L160.0,159.0 L160.7,158.8 L161.6,158.5 L162.4,158.2 L163.3,157.7 L164.3,157.2 L165.2,156.7 L166.2,156.1 L167.2,155.5 L168.2,154.9 L169.2,154.4 L170.2,153.9 L171.2,153.5 L172.1,153.1 L173.0,152.9 L173.8,152.7 L174.6,152.7 L175.3,152.8 L176.0,153.1 L176.7,153.4 L177.3,153.9 L177.9,154.4 L178.4,155.0 L179.0,155.6 L179.5,156.2 L180.1,156.9 L180.6,157.6 L181.1,158.3 L181.7,158.9 L182.2,159.5 L182.8,160.1 L183.4,160.6 L184.0,161.0 L184.6,161.4 L185.3,161.7 L186.0,162.0 L186.7,162.3 L187.4,162.6 L188.1,162.8 L188.8,163.0 L189.5,163.3 L190.2,163.4 L190.9,163.6 L191.6,163.8 L192.3,163.9 L193.0,164.0 L193.7,164.1 L194.3,164.2 L195.0,164.3 L195.6,164.4 L196.3,164.4 L196.9,164.4 L197.6,164.4 L198.2,164.4 L198.8,164.4 L199.4,164.3 L200.1,164.2 L200.7,164.2 L201.3,164.0 L201.9,163.9 L202.4,163.8 L203.0,163.6 L203.5,163.4 L204.1,163.2 L204.6,163.0 L205.1,162.7 L205.6,162.4 L206.1,162.1 L206.6,161.7 L207.0,161.3 L207.5,160.8 L207.9,160.4 L208.3,159.9 L208.8,159.4 L209.2,159.0 L209.6,158.5 L210.0,158.1 L210.3,157.7 L210.7,157.4 L211.1,157.1 L211.4,156.8 L211.7,156.6 L212.1,156.4 L212.4,156.2 L212.7,156.1 L213.0,156.0 L213.3,155.9 L213.6,155.8 L213.9,155.8 L214.1,155.7 L214.4,155.7 L214.6,155.6 L214.8,155.6 L215.0,155.6 L215.2,155.6 L215.4,155.5 L215.5,155.5" fill="none" stroke="#b26e6e" stroke-width="2.9" stroke-linecap="round" stroke-linejoin="round" opacity="1.0"/>
<path d="M124.0,74.0 L124.3,74.2 L124.7,74.3 L125.1,74.5 L125.6,74.8 L126.1,75.0 L126.7,75.3 L127.2,75.6 L127.8,75.9 L128.5,76.2 L129.1,76.5 L129.7,76.8 L130.4,77.2 L131.0,77.5 L131.6,77.8 L132.2,78.2 L132.7,78.5 L133.2,78.8 L133.8,79.2 L134.3,79.5 L134.8,79.9 L135.3,80.3 L135.9,80.6 L136.4,81.0 L136.9,81.4 L137.4,81.8 L137.9,82.1 L138.5,82.5 L138.9,82.9 L139.4,83.3 L139.9,83.6 L140.4,84.0 L140.8,84.3 L141.2,84.6 L141.7,84.9 L142.1,85.2 L142.5,85.5 L143.0,85.8 L143.4,86.0 L143.8,86.3 L144.2,86.6 L144.6,86.8 L144.9,87.1 L145.3,87.4 L145.6,87.7 L145.9,88.0 L146.2,88.3 L146.5,88.6 L146.7,89.0 L146.9,89.4 L147.1,89.8 L147.3,90.2 L147.5,90.6 L147.6,91.0 L147.8,91.4 L147.9,91.9 L148.0,92.3 L148.1,92.8 L148.1,93.3 L148.1,93.7 L148.1,94.2 L148.1,94.6 L148.0,95.1 L147.9,95.6 L147.7,96.0 L147.5,96.4 L147.3,96.9 L147.0,97.3 L146.6,97.8 L146.3,98.2 L145.9,98.7 L145.5,99.2 L145.0,99.6 L144.6,100.1 L144.1,100.5 L143.6,101.0 L143.1,101.4 L142.5,101.9 L142.0,102.3 L141.5,102.8 L140.9,103.2 L140.3,103.6 L139.7,104.1 L139.1,104.5 L138.4,104.9 L137.7,105.3 L136.9,105.7 L136.2,106.1 L135.5,106.5 L134.7,106.9 L134.0,107.4 L133.2,107.8 L132.5,108.2 L131.8,108.6 L131.2,109.1 L130.6,109.5 L130.0,110.0 L129.5,110.5 L128.9,111.0 L128.4,111.5 L127.9,112.0 L127.4,112.5 L127.0,113.0 L126.5,113.5 L126.1,114.0 L125.7,114.5 L125.3,115.1 L124.9,115.6 L124.5,116.1 L124.2,116.6 L123.8,117.2 L123.5,117.7 L123.2,118.2 L122.9,118.7 L122.6,119.2 L122.4,119.7 L122.1,120.2 L121.9,120.7 L121.7,121.2 L121.5,121.7 L121.3,122.2 L121.1,122.7 L121.0,123.2 L120.8,123.7 L120.7,124.2 L120.6,124.7 L120.5,125.2 L120.5,125.8 L120.4,126.3 L120.4,126.9 L120.3,127.4 L120.3,128.0 L120.4,128.7 L120.4,129.3 L120.4,129.9 L120.5,130.5 L120.6,131.2 L120.7,131.8 L120.8,132.4 L120.9,133.1 L121.1,133.7 L121.2,134.3 L121.4,134.8 L121.6,135.4 L121.8,135.9 L122.0,136.4 L122.2,136.9 L122.5,137.3 L122.7,137.8 L123.0,138.2 L123.3,138.7 L123.6,139.1 L123.9,139.5 L124.2,139.9 L124.6,140.3 L125.0,140.7 L125.4,141.1 L125.8,141.5 L126.2,141.9 L126.7,142.3 L127.2,142.7 L127.7,143.1 L128.3,143.5 L128.9,144.0 L129.5,144.4 L130.1,144.8 L130.8,145.2 L131.4,145.7 L132.1,146.1 L132.8,146.5 L133.6,146.9 L134.3,147.4 L135.0,147.8 L135.8,148.2 L136.6,148.6 L137.3,149.1 L138.1,149.5 L138.9,149.9 L139.7,150.4 L140.6,150.8 L141.5,151.3 L142.4,151.8 L143.3,152.2 L144.2,152.7 L145.1,153.2 L146.0,153.6 L146.9,154.1 L147.8,154.5 L148.7,154.9 L149.5,155.3 L150.3,155.6 L151.1,156.0 L151.8,156.3 L152.5,156.6 L153.0,156.9 L153.6,157.2 L154.1,157.5 L154.6,157.7 L155.0,158.0 L155.4,158.2 L155.8,158.5 L156.3,158.7 L156.7,158.8 L157.1,159.0 L157.6,159.1 L158.1,159.1 L158.7,159.1 L159.3,159.1 L160.0,159.0 L160.7,158.8 L161.6,158.5 L162.4,158.2 L163.3,157.7 L164.3,157.2 L165.2,156.7 L166.2,156.1 L167.2,155.5 L168.2,154.9 L169.2,154.4 L170.2,153.9 L171.2,153.5 L172.1,153.1 L173.0,152.9 L173.8,152.7 L174.6,152.7 L175.3,152.8 L176.0,153.1 L176.7,153.4 L177.3,153.9 L177.9,154.4 L178.4,155.0 L179.0,155.6 L179.5,156.2 L180.1,156.9 L180.6,157.6 L181.1,158.3 L181.7,158.9 L182.2,159.5 L182.8,160.1 L183.4,160.6 L184.0,161.0 L184.6,161.4 L185.3,161.7 L186.0,162.0 L186.7,162.3 L187.4,162.6 L188.1,162.8 L188.8,163.0 L189.5,163.3 L190.2,163.4 L190.9,163.6 L191.6,163.8 L192.3,163.9 L193.0,164.0 L193.7,164.1 L194.3,164.2 L195.0,164.3 L195.6,164.4 L196.3,164.4 L196.9,164.4 L197.6,164.4 L198.2,164.4 L198.8,164.4 L199.4,164.3 L200.1,164.2 L200.7,164.2 L201.3,164.0 L201.9,163.9 L202.4,163.8 L203.0,163.6 L203.5,163.4 L204.1,163.2 L204.6,163.0 L205.1,162.7 L205.6,162.4 L206.1,162.1 L206.6,161.7 L207.0,161.3 L207.5,160.8 L207.9,160.4 L208.3,159.9 L208.8,159.4 L209.2,159.0 L209.6,158.5 L210.0,158.1 L210.3,157.7 L210.7,157.4 L211.1,157.1 L211.4,156.8 L211.7,156.6 L212.1,156.4 L212.4,156.2 L212.7,156.1 L213.0,156.0 L213.3,155.9 L213.6,155.8 L213.9,155.8 L214.1,155.7 L214.4,155.7 L214.6,155.6 L214.8,155.6 L215.0,155.6 L215.2,155.6 L215.4,155.5 L215.5,155.5" fill="none" stroke="#e28e8e" stroke-width="2.1" stroke-linecap="round" stroke-linejoin="round" opacity="1.0"/>
<path d="M124.0,74.0 L124.3,74.2 L124.7,74.3 L125.1,74.5 L125.6,74.8 L126.1,75.0 L126.7,75.3 L127.2,75.6 L127.8,75.9 L128.5,76.2 L129.1,76.5 L129.7,76.8 L130.4,77.2 L131.0,77.5 L131.6,77.8 L132.2,78.2 L132.7,78.5 L133.2,78.8 L133.8,79.2 L134.3,79.5 L134.8,79.9 L135.3,80.3 L135.9,80.6 L136.4,81.0 L136.9,81.4 L137.4,81.8 L137.9,82.1 L138.5,82.5 L138.9,82.9 L139.4,83.3 L139.9,83.6 L140.4,84.0 L140.8,84.3 L141.2,84.6 L141.7,84.9 L142.1,85.2 L142.5,85.5 L143.0,85.8 L143.4,86.0 L143.8,86.3 L144.2,86.6 L144.6,86.8 L144.9,87.1 L145.3,87.4 L145.6,87.7 L145.9,88.0 L146.2,88.3 L146.5,88.6 L146.7,89.0 L146.9,89.4 L147.1,89.8 L147.3,90.2 L147.5,90.6 L147.6,91.0 L147.8,91.4 L147.9,91.9 L148.0,92.3 L148.1,92.8 L148.1,93.3 L148.1,93.7 L148.1,94.2 L148.1,94.6 L148.0,95.1 L147.9,95.6 L147.7,96.0 L147.5,96.4 L147.3,96.9 L147.0,97.3 L146.6,97.8 L146.3,98.2 L145.9,98.7 L145.5,99.2 L145.0,99.6 L144.6,100.1 L144.1,100.5 L143.6,101.0 L143.1,101.4 L142.5,101.9 L142.0,102.3 L141.5,102.8 L140.9,103.2 L140.3,103.6 L139.7,104.1 L139.1,104.5 L138.4,104.9 L137.7,105.3 L136.9,105.7 L136.2,106.1 L135.5,106.5 L134.7,106.9 L134.0,107.4 L133.2,107.8 L132.5,108.2 L131.8,108.6 L131.2,109.1 L130.6,109.5 L130.0,110.0 L129.5,110.5 L128.9,111.0 L128.4,111.5 L127.9,112.0 L127.4,112.5 L127.0,113.0 L126.5,113.5 L126.1,114.0 L125.7,114.5 L125.3,115.1 L124.9,115.6 L124.5,116.1 L124.2,116.6 L123.8,117.2 L123.5,117.7 L123.2,118.2 L122.9,118.7 L122.6,119.2 L122.4,119.7 L122.1,120.2 L121.9,120.7 L121.7,121.2 L121.5,121.7 L121.3,122.2 L121.1,122.7 L121.0,123.2 L120.8,123.7 L120.7,124.2 L120.6,124.7 L120.5,125.2 L120.5,125.8 L120.4,126.3 L120.4,126.9 L120.3,127.4 L120.3,128.0 L120.4,128.7 L120.4,129.3 L120.4,129.9 L120.5,130.5 L120.6,131.2 L120.7,131.8 L120.8,132.4 L120.9,133.1 L121.1,133.7 L121.2,134.3 L121.4,134.8 L121.6,135.4 L121.8,135.9 L122.0,136.4 L122.2,136.9 L122.5,137.3 L122.7,137.8 L123.0,138.2 L123.3,138.7 L123.6,139.1 L123.9,139.5 L124.2,139.9 L124.6,140.3 L125.0,140.7 L125.4,141.1 L125.8,141.5 L126.2,141.9 L126.7,142.3 L127.2,142.7 L127.7,143.1 L128.3,143.5 L128.9,144.0 L129.5,144.4 L130.1,144.8 L130.8,145.2 L131.4,145.7 L132.1,146.1 L132.8,146.5 L133.6,146.9 L134.3,147.4 L135.0,147.8 L135.8,148.2 L136.6,148.6 L137.3,149.1 L138.1,149.5 L138.9,149.9 L139.7,150.4 L140.6,150.8 L141.5,151.3 L142.4,151.8 L143.3,152.2 L144.2,152.7 L145.1,153.2 L146.0,153.6 L146.9,154.1 L147.8,154.5 L148.7,154.9 L149.5,155.3 L150.3,155.6 L151.1,156.0 L151.8,156.3 L152.5,156.6 L153.0,156.9 L153.6,157.2 L154.1,157.5 L154.6,157.7 L155.0,158.0 L155.4,158.2 L155.8,158.5 L156.3,158.7 L156.7,158.8 L157.1,159.0 L157.6,159.1 L158.1,159.1 L158.7,159.1 L159.3,159.1 L160.0,159.0 L160.7,158.8 L161.6,158.5 L162.4,158.2 L163.3,157.7 L164.3,157.2 L165.2,156.7 L166.2,156.1 L167.2,155.5 L168.2,154.9 L169.2,154.4 L170.2,153.9 L171.2,153.5 L172.1,153.1 L173.0,152.9 L173.8,152.7 L174.6,152.7 L175.3,152.8 L176.0,153.1 L176.7,153.4 L177.3,153.9 L177.9,154.4 L178.4,155.0 L179.0,155.6 L179.5,156.2 L180.1,156.9 L180.6,157.6 L181.1,158.3 L181.7,158.9 L182.2,159.5 L182.8,160.1 L183.4,160.6 L184.0,161.0 L184.6,161.4 L185.3,161.7 L186.0,162.0 L186.7,162.3 L187.4,162.6 L188.1,162.8 L188.8,163.0 L189.5,163.3 L190.2,163.4 L190.9,163.6 L191.6,163.8 L192.3,163.9 L193.0,164.0 L193.7,164.1 L194.3,164.2 L195.0,164.3 L195.6,164.4 L196.3,164.4 L196.9,164.4 L197.6,164.4 L198.2,164.4 L198.8,164.4 L199.4,164.3 L200.1,164.2 L200.7,164.2 L201.3,164.0 L201.9,163.9 L202.4,163.8 L203.0,163.6 L203.5,163.4 L204.1,163.2 L204.6,163.0 L205.1,162.7 L205.6,162.4 L206.1,162.1 L206.6,161.7 L207.0,161.3 L207.5,160.8 L207.9,160.4 L208.3,159.9 L208.8,159.4 L209.2,159.0 L209.6,158.5 L210.0,158.1 L210.3,157.7 L210.7,157.4 L211.1,157.1 L211.4,156.8 L211.7,156.6 L212.1,156.4 L212.4,156.2 L212.7,156.1 L213.0,156.0 L213.3,155.9 L213.6,155.8 L213.9,155.8 L214.1,155.7 L214.4,155.7 L214.6,155.6 L214.8,155.6 L215.0,155.6 L215.2,155.6 L215.4,155.5 L215.5,155.5" fill="none" stroke="#efc0c0" stroke-width="0.7" stroke-linecap="round" stroke-linejoin="round" opacity="1.0"/>
<polygon points="180.2,52.1 177.8,48.7 170.3,53.4 172.8,56.8" fill="#753e3e" stroke="#753e3e"/>
<polygon points="250.8,100.8 248.5,99.3 248.5,89.7 250.8,91.2" fill="#7e4646" stroke="#7e4646"/>
<polygon points="178.4,72.8 180.9,69.5 173.5,74.2 170.9,77.5" fill="#794040" stroke="#794040"/>
<polygon points="152.5,58.0 152.3,61.1 144.8,65.8 145.0,62.7" fill="#c36d6d" stroke="#c36d6d"/>
<polygon points="318.5,87.8 316.5,86.4 306.9,83.7 309.0,85.1" fill="#4c2828" stroke="#4c2828"/>
<polygon points="177.8,48.7 175.0,46.4 167.5,51.1 170.3,53.4" fill="#653535" stroke="#653535"/>
<polygon points="174.9,75.0 178.4,72.8 170.9,77.5 167.5,79.7" fill="#693838" stroke="#693838"/>
<polygon points="248.5,99.3 245.2,98.2 245.2,89.4 248.5,89.7" fill="#a25b5b" stroke="#a25b5b"/>
<polygon points="230.1,105.1 230.5,106.9 230.5,104.1 230.1,101.4" fill="#ab6060" stroke="#ab6060"/>
<polygon points="152.3,61.1 153.3,64.7 145.8,69.4 144.8,65.8" fill="#cc7272" stroke="#cc7272"/>
<polygon points="316.5,86.4 314.0,86.1 304.5,83.4 306.9,83.7" fill="#824545" stroke="#824545"/>
<polygon points="170.9,76.0 174.9,75.0 167.5,79.7 163.4,80.7" fill="#623434" stroke="#623434"/>
<polygon points="230.5,103.1 230.1,105.1 230.1,101.4 230.5,98.5" fill="#c87070" stroke="#c87070"/>
<polygon points="175.0,46.4 172.1,45.4 164.6,50.1 167.5,51.1" fill="#522b2b" stroke="#522b2b"/>
<polygon points="245.2,98.2 241.4,97.8 241.4,89.9 245.2,89.4" fill="#c16c6c" stroke="#c16c6c"/>
<polygon points="232.0,101.1 230.5,103.1 230.5,98.5 232.0,95.7" fill="#dd7c7c" stroke="#dd7c7c"/>
<polygon points="153.3,64.7 155.4,68.3 147.9,73.0 145.8,69.4" fill="#af5d5d" stroke="#af5d5d"/>
<polygon points="166.6,75.7 170.9,76.0 163.4,80.7 159.1,80.4" fill="#6c3939" stroke="#6c3939"/>
<polygon points="234.5,99.5 232.0,101.1 232.0,95.7 234.5,93.2" fill="#ea8484" stroke="#ea8484"/>
<polygon points="241.4,97.8 237.7,98.3 237.7,91.2 241.4,89.9" fill="#d87979" stroke="#d87979"/>
<polygon points="237.7,98.3 234.5,99.5 234.5,93.2 237.7,91.2" fill="#e98585" stroke="#e98585"/>
<polygon points="155.4,68.3 158.5,71.6 151.0,76.3 147.9,73.0" fill="#a75858" stroke="#a75858"/>
<polygon points="162.3,74.2 166.6,75.7 159.1,80.4 154.8,78.9" fill="#844646" stroke="#844646"/>
<polygon points="314.0,86.1 311.5,87.2 302.0,84.5 304.5,83.4" fill="#b9b9b9" stroke="#b9b9b9"/>
<polygon points="158.5,71.6 162.3,74.2 154.8,78.9 151.0,76.3" fill="#985151" stroke="#985151"/>
<polygon points="172.1,45.4 169.6,45.6 162.1,50.3 164.6,50.1" fill="#4c2828" stroke="#4c2828"/>
<polygon points="311.5,87.2 309.6,90.0 300.1,87.3 302.0,84.5" fill="#cfcfcf" stroke="#cfcfcf"/>
<polygon points="169.6,45.6 167.7,47.1 160.2,51.8 162.1,50.3" fill="#8a4949" stroke="#8a4949"/>
<polygon points="309.6,90.0 308.6,93.5 299.0,90.8 300.1,87.3" fill="#dcdcdc" stroke="#dcdcdc"/>
<polygon points="315.9,106.2 317.8,105.6 314.1,104.6 311.3,104.9" fill="#7c7c7c" stroke="#7c7c7c"/>
<polygon points="317.8,105.6 319.4,104.6 316.5,103.8 314.1,104.6" fill="#929292" stroke="#929292"/>
<polygon points="313.7,106.0 315.9,106.2 311.3,104.9 308.3,104.5" fill="#767676" stroke="#767676"/>
<polygon points="311.6,105.0 313.7,106.0 308.3,104.5 305.4,103.2" fill="#8e8e8e" stroke="#8e8e8e"/>
<polygon points="308.6,93.5 308.1,97.0 299.4,94.6 299.0,90.8" fill="#dfdfdf" stroke="#dfdfdf"/>
<polygon points="309.8,103.1 311.6,105.0 305.4,103.2 302.7,101.1" fill="#acacac" stroke="#acacac"/>
<polygon points="308.1,97.0 308.5,100.3 300.6,98.1 299.4,94.6" fill="#d7d7d7" stroke="#d7d7d7"/>
<polygon points="308.5,100.3 309.8,103.1 302.7,101.1 300.6,98.1" fill="#c6c6c6" stroke="#c6c6c6"/>
<polygon points="167.7,47.1 166.7,49.6 159.2,54.3 160.2,51.8" fill="#9d5353" stroke="#9d5353"/>
<polygon points="190.3,57.6 190.2,54.8 186.0,57.4 185.4,60.6" fill="#854747" stroke="#854747"/>
<polygon points="189.5,60.4 190.3,57.6 185.4,60.6 184.0,63.9" fill="#7c4242" stroke="#7c4242"/>
<polygon points="166.7,49.6 166.8,52.9 159.3,57.6 159.2,54.3" fill="#aa5a5a" stroke="#aa5a5a"/>
<polygon points="190.2,54.8 189.5,52.3 185.9,54.6 186.0,57.4" fill="#894949" stroke="#894949"/>
<polygon points="187.9,62.9 189.5,60.4 184.0,63.9 181.7,66.8" fill="#6e3a3a" stroke="#6e3a3a"/>
<polygon points="189.5,52.3 188.5,50.5 185.6,52.3 185.9,54.6" fill="#874747" stroke="#874747"/>
<polygon points="185.3,64.6 187.9,62.9 181.7,66.8 178.4,68.9" fill="#623434" stroke="#623434"/>
<polygon points="188.5,50.5 187.3,49.3 185.1,50.7 185.6,52.3" fill="#7f4343" stroke="#7f4343"/>
<polygon points="166.8,52.9 168.1,56.6 160.6,61.3 159.3,57.6" fill="#b05d5d" stroke="#b05d5d"/>
<polygon points="182.0,65.3 185.3,64.6 178.4,68.9 174.5,70.0" fill="#663636" stroke="#663636"/>
<polygon points="168.1,56.6 170.5,60.2 163.0,64.9 160.6,61.3" fill="#ae5c5c" stroke="#ae5c5c"/>
<polygon points="177.9,65.0 182.0,65.3 174.5,70.0 170.4,69.7" fill="#7e4343" stroke="#7e4343"/>
<polygon points="173.7,63.3 177.9,65.0 170.4,69.7 166.3,68.0" fill="#944e4e" stroke="#944e4e"/>
<polygon points="170.5,60.2 173.7,63.3 166.3,68.0 163.0,64.9" fill="#a45757" stroke="#a45757"/>
<path d="M89.5,119 L96,114.5 104,115 107.5,120.5 101,125.5 93,125Z" fill="#f3dede" fill-opacity="0.5" stroke="#c87878" stroke-width="3.2" stroke-linejoin="round"/>
<path d="M89.5,119 L96,114.5 104,115 107.5,120.5 101,125.5 93,125Z" fill="none" stroke="#eaa0a0" stroke-width="1.6" stroke-linejoin="round"/>
<polyline points="101,125.5 106,130 114,129.5 119,127" fill="none" stroke="#c87878" stroke-width="3.2" stroke-linecap="round"/>
<polyline points="101,125.5 106,130 114,129.5 119,127" fill="none" stroke="#eaa0a0" stroke-width="1.6" stroke-linecap="round"/>
<polyline points="151,170 152,160 157,152" fill="none" stroke="#bbb" stroke-width="3.2" stroke-linecap="round"/>
<polyline points="151,170 152,160 157,152" fill="none" stroke="#eee" stroke-width="1.6" stroke-linecap="round"/>
<polyline points="125,139 128,130 131,124" fill="none" stroke="#aaa" stroke-width="3" stroke-linecap="round"/>
<polyline points="125,139 128,130 131,124" fill="none" stroke="#eee" stroke-width="1.5" stroke-linecap="round"/>
<polyline points="104,86 111.5,88.5 118,85 122,78" fill="none" stroke="#eee" stroke-width="2.6"/>
<polyline points="111.5,88.5 107.5,95" fill="none" stroke="#e08a8a" stroke-width="2.6"/>
<circle cx="111.5" cy="88.4" r="2" fill="#d8c020"/>
<polyline points="149,144 160,140 168,147 176,150" fill="none" stroke="#e08a8a" stroke-width="2.6"/>
<line x1="174" y1="149.5" x2="180" y2="150.5" stroke="#1a1ae0" stroke-width="2.6"/>
<line x1="109.5" y1="94.4" x2="101.1" y2="113.5" stroke="#4a9ee0" stroke-width="1.3" stroke-dasharray="1.6,1.4"/>
<line x1="114.4" y1="94.4" x2="129" y2="133" stroke="#4a9ee0" stroke-width="1.3" stroke-dasharray="1.6,1.4"/>
</g>
<text x="81.2" y="101.0" font-size="10.4" fill="#111" textLength="23.2" lengthAdjust="spacingAndGlyphs" font-family="Liberation Sans, Arial, sans-serif">M411</text>
<text x="87.8" y="114.7" font-size="10.4" fill="#111" textLength="11.3" lengthAdjust="spacingAndGlyphs" font-family="Liberation Sans, Arial, sans-serif">5.1</text>
<text x="120.3" y="108.4" font-size="10.4" fill="#111" textLength="11.8" lengthAdjust="spacingAndGlyphs" font-family="Liberation Sans, Arial, sans-serif">7.9</text>
<text x="79.5" y="147.3" font-size="10.4" fill="#111" textLength="26.8" lengthAdjust="spacingAndGlyphs" font-family="Liberation Sans, Arial, sans-serif">V407F</text>
<text x="109.0" y="162.7" font-size="10.4" fill="#111" textLength="22.0" lengthAdjust="spacingAndGlyphs" font-family="Liberation Sans, Arial, sans-serif">V407</text>
<text x="148.0" y="188.3" font-size="10.4" fill="#111" textLength="22.4" lengthAdjust="spacingAndGlyphs" font-family="Liberation Sans, Arial, sans-serif">K405</text>
<rect x="442.35" y="187.66" width="3.1" height="0.74" fill="#000"/>
<rect x="448.51" y="187.66" width="3.1" height="0.74" fill="#000"/>
<rect x="454.67" y="187.47" width="3.1" height="0.93" fill="#000"/>
<rect x="460.82" y="187.29" width="3.1" height="1.11" fill="#000"/>
<rect x="466.98" y="185.89" width="3.1" height="2.51" fill="#000"/>
<rect x="473.14" y="179.49" width="3.1" height="8.91" fill="#000"/>
<rect x="479.30" y="175.12" width="3.1" height="13.28" fill="#000"/>
<rect x="485.46" y="160.26" width="3.1" height="28.14" fill="#000"/>
<rect x="491.61" y="142.90" width="3.1" height="45.50" fill="#000"/>
<rect x="497.77" y="119.96" width="3.1" height="68.44" fill="#000"/>
<rect x="503.93" y="113.09" width="3.1" height="75.31" fill="#000"/>
<rect x="510.09" y="117.73" width="3.1" height="70.67" fill="#000"/>
<rect x="516.25" y="95.91" width="3.1" height="92.49" fill="#000"/>
<rect x="522.40" y="104.55" width="3.1" height="83.85" fill="#000"/>
<rect x="528.56" y="25.80" width="3.1" height="162.60" fill="#000"/>
<rect x="534.72" y="127.39" width="3.1" height="61.01" fill="#000"/>
<rect x="540.88" y="117.18" width="3.1" height="71.22" fill="#000"/>
<rect x="547.04" y="129.71" width="3.1" height="58.69" fill="#000"/>
<rect x="553.19" y="142.90" width="3.1" height="45.50" fill="#000"/>
<rect x="559.35" y="148.66" width="3.1" height="39.74" fill="#000"/>
<rect x="565.51" y="156.64" width="3.1" height="31.76" fill="#000"/>
<rect x="571.67" y="170.94" width="3.1" height="17.46" fill="#000"/>
<rect x="577.83" y="171.41" width="3.1" height="16.99" fill="#000"/>
<rect x="583.98" y="180.69" width="3.1" height="7.71" fill="#000"/>
<rect x="590.14" y="182.83" width="3.1" height="5.57" fill="#000"/>
<rect x="596.30" y="184.96" width="3.1" height="3.44" fill="#000"/>
<rect x="602.46" y="185.61" width="3.1" height="2.79" fill="#000"/>
<rect x="608.62" y="187.84" width="3.1" height="0.56" fill="#000"/>
<rect x="614.77" y="187.84" width="3.1" height="0.56" fill="#000"/>
<rect x="401.85" y="187.12" width="2.5" height="1.28" fill="#c4161c" stroke="#7a0a0a" stroke-width="0.6"/>
<rect x="408.02" y="162.42" width="2.5" height="25.98" fill="#c4161c" stroke="#7a0a0a" stroke-width="0.6"/>
<rect x="414.19" y="98.07" width="2.5" height="90.33" fill="#c4161c" stroke="#7a0a0a" stroke-width="0.6"/>
<rect x="420.36" y="48.30" width="2.5" height="140.10" fill="#c4161c" stroke="#7a0a0a" stroke-width="0.6"/>
<rect x="426.53" y="57.02" width="2.5" height="131.38" fill="#c4161c" stroke="#7a0a0a" stroke-width="0.6"/>
<rect x="432.71" y="81.45" width="2.5" height="106.95" fill="#c4161c" stroke="#7a0a0a" stroke-width="0.6"/>
<rect x="438.88" y="125.56" width="2.5" height="62.84" fill="#c4161c" stroke="#7a0a0a" stroke-width="0.6"/>
<rect x="445.05" y="137.81" width="2.5" height="50.59" fill="#c4161c" stroke="#7a0a0a" stroke-width="0.6"/>
<rect x="451.22" y="153.51" width="2.5" height="34.89" fill="#c4161c" stroke="#7a0a0a" stroke-width="0.6"/>
<rect x="457.39" y="152.21" width="2.5" height="36.19" fill="#c4161c" stroke="#7a0a0a" stroke-width="0.6"/>
<rect x="463.56" y="144.31" width="2.5" height="44.09" fill="#c4161c" stroke="#7a0a0a" stroke-width="0.6"/>
<rect x="469.73" y="146.63" width="2.5" height="41.77" fill="#c4161c" stroke="#7a0a0a" stroke-width="0.6"/>
<rect x="475.90" y="150.07" width="2.5" height="38.33" fill="#c4161c" stroke="#7a0a0a" stroke-width="0.6"/>
<rect x="482.07" y="151.00" width="2.5" height="37.40" fill="#c4161c" stroke="#7a0a0a" stroke-width="0.6"/>
<rect x="488.24" y="160.28" width="2.5" height="28.12" fill="#c4161c" stroke="#7a0a0a" stroke-width="0.6"/>
<rect x="494.42" y="170.04" width="2.5" height="18.36" fill="#c4161c" stroke="#7a0a0a" stroke-width="0.6"/>
<rect x="500.59" y="176.35" width="2.5" height="12.05" fill="#c4161c" stroke="#7a0a0a" stroke-width="0.6"/>
<rect x="506.76" y="178.67" width="2.5" height="9.73" fill="#c4161c" stroke="#7a0a0a" stroke-width="0.6"/>
<rect x="512.93" y="179.32" width="2.5" height="9.08" fill="#c4161c" stroke="#7a0a0a" stroke-width="0.6"/>
<rect x="519.10" y="186.29" width="2.5" height="2.11" fill="#c4161c" stroke="#7a0a0a" stroke-width="0.6"/>
<rect x="525.27" y="186.29" width="2.5" height="2.11" fill="#c4161c" stroke="#7a0a0a" stroke-width="0.6"/>
<rect x="531.44" y="184.80" width="2.5" height="3.60" fill="#c4161c" stroke="#7a0a0a" stroke-width="0.6"/>
<line x1="392.80" y1="188.40" x2="638.60" y2="188.40" stroke="#333" stroke-width="1"/>
<line x1="392.80" y1="12.00" x2="392.80" y2="188.90" stroke="#333" stroke-width="1"/>
<line x1="389.30" y1="188.40" x2="392.80" y2="188.40" stroke="#333" stroke-width="1"/>
<text x="386.30" y="192.70" font-size="14" text-anchor="end" font-weight="normal" fill="#111" >0.00</text>
<line x1="389.30" y1="141.97" x2="392.80" y2="141.97" stroke="#333" stroke-width="1"/>
<text x="386.30" y="146.27" font-size="14" text-anchor="end" font-weight="normal" fill="#111" >0.05</text>
<line x1="389.30" y1="95.54" x2="392.80" y2="95.54" stroke="#333" stroke-width="1"/>
<text x="386.30" y="99.84" font-size="14" text-anchor="end" font-weight="normal" fill="#111" >0.10</text>
<line x1="389.30" y1="49.11" x2="392.80" y2="49.11" stroke="#333" stroke-width="1"/>
<text x="386.30" y="53.41" font-size="14" text-anchor="end" font-weight="normal" fill="#111" >0.15</text>
<line x1="390.80" y1="165.19" x2="392.80" y2="165.19" stroke="#333" stroke-width="1"/>
<line x1="390.80" y1="118.76" x2="392.80" y2="118.76" stroke="#333" stroke-width="1"/>
<line x1="390.80" y1="72.33" x2="392.80" y2="72.33" stroke="#333" stroke-width="1"/>
<line x1="390.80" y1="25.90" x2="392.80" y2="25.90" stroke="#333" stroke-width="1"/>
<line x1="423.70" y1="188.40" x2="423.70" y2="191.40" stroke="#333" stroke-width="1"/>
<text x="423.70" y="206.10" font-size="14" text-anchor="middle" font-weight="normal" fill="#111" >4</text>
<line x1="485.06" y1="188.40" x2="485.06" y2="191.40" stroke="#333" stroke-width="1"/>
<text x="485.06" y="206.10" font-size="14" text-anchor="middle" font-weight="normal" fill="#111" >6</text>
<line x1="546.42" y1="188.40" x2="546.42" y2="191.40" stroke="#333" stroke-width="1"/>
<text x="546.42" y="206.10" font-size="14" text-anchor="middle" font-weight="normal" fill="#111" >8</text>
<line x1="607.78" y1="188.40" x2="607.78" y2="191.40" stroke="#333" stroke-width="1"/>
<text x="607.78" y="206.10" font-size="14" text-anchor="middle" font-weight="normal" fill="#111" >10</text>
<line x1="393.02" y1="188.40" x2="393.02" y2="190.40" stroke="#333" stroke-width="1"/>
<line x1="454.38" y1="188.40" x2="454.38" y2="190.40" stroke="#333" stroke-width="1"/>
<line x1="515.74" y1="188.40" x2="515.74" y2="190.40" stroke="#333" stroke-width="1"/>
<line x1="577.10" y1="188.40" x2="577.10" y2="190.40" stroke="#333" stroke-width="1"/>
<line x1="638.46" y1="188.40" x2="638.46" y2="190.40" stroke="#333" stroke-width="1"/>
<text x="373.00" y="229.10" font-size="14" text-anchor="start" font-weight="normal" fill="#111" textLength="285" lengthAdjust="spacingAndGlyphs" >Distance from residue 407 to 411 (angstrom)</text>
<text transform="translate(350.2,140.0) rotate(-90)" font-size="14" fill="#111" textLength="66.5" lengthAdjust="spacingAndGlyphs">Probability</text>
<rect x="392.5" y="7.5" width="71.9" height="34" fill="#fff" stroke="#777" stroke-width="1"/>
<rect x="395.7" y="13.9" width="23.2" height="8.8" fill="#000"/>
<rect x="396.2" y="30.8" width="22.2" height="7.8" fill="#f00" stroke="#600" stroke-width="1"/>
<text x="421.50" y="21.60" font-size="13.3" text-anchor="start" font-weight="normal" fill="#111" >WT</text>
<text x="421.50" y="37.80" font-size="13.3" text-anchor="start" font-weight="normal" fill="#111" >V407F</text>
<line x1="53.70" y1="264.40" x2="53.70" y2="446.40" stroke="#333" stroke-width="1"/>
<line x1="53.20" y1="445.90" x2="299.00" y2="445.90" stroke="#333" stroke-width="1"/>
<line x1="49.70" y1="430.70" x2="53.70" y2="430.70" stroke="#333" stroke-width="1"/>
<text x="47.00" y="434.90" font-size="14.3" text-anchor="end" font-weight="normal" fill="#111" >0</text>
<line x1="49.70" y1="400.50" x2="53.70" y2="400.50" stroke="#333" stroke-width="1"/>
<text x="47.00" y="404.70" font-size="14.3" text-anchor="end" font-weight="normal" fill="#111" >20</text>
<line x1="49.70" y1="370.30" x2="53.70" y2="370.30" stroke="#333" stroke-width="1"/>
<text x="47.00" y="374.50" font-size="14.3" text-anchor="end" font-weight="normal" fill="#111" >40</text>
<line x1="49.70" y1="340.10" x2="53.70" y2="340.10" stroke="#333" stroke-width="1"/>
<text x="47.00" y="344.30" font-size="14.3" text-anchor="end" font-weight="normal" fill="#111" >60</text>
<line x1="49.70" y1="309.90" x2="53.70" y2="309.90" stroke="#333" stroke-width="1"/>
<text x="47.00" y="314.10" font-size="14.3" text-anchor="end" font-weight="normal" fill="#111" >80</text>
<line x1="49.70" y1="279.70" x2="53.70" y2="279.70" stroke="#333" stroke-width="1"/>
<text x="47.00" y="283.90" font-size="14.3" text-anchor="end" font-weight="normal" fill="#111" >100</text>
<line x1="51.70" y1="445.80" x2="53.70" y2="445.80" stroke="#333" stroke-width="1"/>
<line x1="51.70" y1="415.60" x2="53.70" y2="415.60" stroke="#333" stroke-width="1"/>
<line x1="51.70" y1="385.40" x2="53.70" y2="385.40" stroke="#333" stroke-width="1"/>
<line x1="51.70" y1="355.20" x2="53.70" y2="355.20" stroke="#333" stroke-width="1"/>
<line x1="51.70" y1="325.00" x2="53.70" y2="325.00" stroke="#333" stroke-width="1"/>
<line x1="51.70" y1="294.80" x2="53.70" y2="294.80" stroke="#333" stroke-width="1"/>
<line x1="51.70" y1="264.60" x2="53.70" y2="264.60" stroke="#333" stroke-width="1"/>
<line x1="132.60" y1="445.90" x2="132.60" y2="449.90" stroke="#333" stroke-width="1"/>
<line x1="214.20" y1="445.90" x2="214.20" y2="449.90" stroke="#333" stroke-width="1"/>
<line x1="295.80" y1="445.90" x2="295.80" y2="449.90" stroke="#333" stroke-width="1"/>
<text x="132.60" y="463.20" font-size="14" text-anchor="middle" font-weight="normal" fill="#111" >0.1</text>
<text x="214.20" y="463.20" font-size="14" text-anchor="middle" font-weight="normal" fill="#111" >1</text>
<text x="295.80" y="463.20" font-size="14" text-anchor="middle" font-weight="normal" fill="#111" >10</text>
<line x1="75.56" y1="445.90" x2="75.56" y2="447.90" stroke="#333" stroke-width="1"/>
<line x1="89.93" y1="445.90" x2="89.93" y2="447.90" stroke="#333" stroke-width="1"/>
<line x1="100.13" y1="445.90" x2="100.13" y2="447.90" stroke="#333" stroke-width="1"/>
<line x1="108.04" y1="445.90" x2="108.04" y2="447.90" stroke="#333" stroke-width="1"/>
<line x1="114.50" y1="445.90" x2="114.50" y2="447.90" stroke="#333" stroke-width="1"/>
<line x1="119.96" y1="445.90" x2="119.96" y2="447.90" stroke="#333" stroke-width="1"/>
<line x1="124.69" y1="445.90" x2="124.69" y2="447.90" stroke="#333" stroke-width="1"/>
<line x1="128.87" y1="445.90" x2="128.87" y2="447.90" stroke="#333" stroke-width="1"/>
<line x1="157.16" y1="445.90" x2="157.16" y2="447.90" stroke="#333" stroke-width="1"/>
<line x1="171.53" y1="445.90" x2="171.53" y2="447.90" stroke="#333" stroke-width="1"/>
<line x1="181.73" y1="445.90" x2="181.73" y2="447.90" stroke="#333" stroke-width="1"/>
<line x1="189.64" y1="445.90" x2="189.64" y2="447.90" stroke="#333" stroke-width="1"/>
<line x1="196.10" y1="445.90" x2="196.10" y2="447.90" stroke="#333" stroke-width="1"/>
<line x1="201.56" y1="445.90" x2="201.56" y2="447.90" stroke="#333" stroke-width="1"/>
<line x1="206.29" y1="445.90" x2="206.29" y2="447.90" stroke="#333" stroke-width="1"/>
<line x1="210.47" y1="445.90" x2="210.47" y2="447.90" stroke="#333" stroke-width="1"/>
<line x1="238.76" y1="445.90" x2="238.76" y2="447.90" stroke="#333" stroke-width="1"/>
<line x1="253.13" y1="445.90" x2="253.13" y2="447.90" stroke="#333" stroke-width="1"/>
<line x1="263.33" y1="445.90" x2="263.33" y2="447.90" stroke="#333" stroke-width="1"/>
<line x1="271.24" y1="445.90" x2="271.24" y2="447.90" stroke="#333" stroke-width="1"/>
<line x1="277.70" y1="445.90" x2="277.70" y2="447.90" stroke="#333" stroke-width="1"/>
<line x1="283.16" y1="445.90" x2="283.16" y2="447.90" stroke="#333" stroke-width="1"/>
<line x1="287.89" y1="445.90" x2="287.89" y2="447.90" stroke="#333" stroke-width="1"/>
<line x1="292.07" y1="445.90" x2="292.07" y2="447.90" stroke="#333" stroke-width="1"/>
<text x="145.00" y="490.30" font-size="14.5" text-anchor="start" font-weight="normal" fill="#111" >Ca<tspan font-size="9.5" dy="-7.5">2+</tspan><tspan dy="7.5" dx="2.2"> (μM)</tspan></text>
<text transform="translate(15.2,462.0) rotate(-90)" font-size="14" fill="#111" textLength="193" lengthAdjust="spacingAndGlyphs">Normalized SK2-a current (%)</text>
<polyline points="54.05,430.69 54.86,430.69 55.67,430.69 56.47,430.69 57.28,430.69 58.08,430.69 58.89,430.69 59.69,430.69 60.50,430.69 61.31,430.69 62.11,430.69 62.92,430.69 63.72,430.69 64.53,430.69 65.34,430.68 66.14,430.68 66.95,430.68 67.75,430.68 68.56,430.68 69.36,430.68 70.17,430.68 70.98,430.67 71.78,430.67 72.59,430.67 73.39,430.67 74.20,430.67 75.01,430.66 75.81,430.66 76.62,430.66 77.42,430.66 78.23,430.65 79.03,430.65 79.84,430.65 80.65,430.64 81.45,430.64 82.26,430.63 83.06,430.63 83.87,430.62 84.68,430.62 85.48,430.61 86.29,430.60 87.09,430.60 87.90,430.59 88.70,430.58 89.51,430.57 90.32,430.56 91.12,430.55 91.93,430.54 92.73,430.53 93.54,430.52 94.35,430.51 95.15,430.49 95.96,430.48 96.76,430.46 97.57,430.44 98.37,430.42 99.18,430.40 99.99,430.38 100.79,430.36 101.60,430.33 102.40,430.31 103.21,430.28 104.01,430.25 104.82,430.21 105.63,430.18 106.43,430.14 107.24,430.10 108.04,430.06 108.85,430.01 109.66,429.96 110.46,429.91 111.27,429.85 112.07,429.79 112.88,429.72 113.68,429.65 114.49,429.57 115.30,429.49 116.10,429.40 116.91,429.31 117.71,429.21 118.52,429.10 119.33,428.99 120.13,428.86 120.94,428.73 121.74,428.59 122.55,428.44 123.35,428.27 124.16,428.10 124.97,427.91 125.77,427.71 126.58,427.50 127.38,427.27 128.19,427.03 129.00,426.77 129.80,426.49 130.61,426.19 131.41,425.87 132.22,425.53 133.02,425.16 133.83,424.78 134.64,424.36 135.44,423.92 136.25,423.45 137.05,422.95 137.86,422.41 138.67,421.84 139.47,421.23 140.28,420.59 141.08,419.90 141.89,419.18 142.69,418.40 143.50,417.58 144.31,416.71 145.11,415.79 145.92,414.82 146.72,413.79 147.53,412.70 148.33,411.55 149.14,410.34 149.95,409.07 150.75,407.73 151.56,406.32 152.36,404.85 153.17,403.30 153.98,401.69 154.78,400.00 155.59,398.24 156.39,396.40 157.20,394.50 158.00,392.52 158.81,390.48 159.62,388.37 160.42,386.18 161.23,383.94 162.03,381.64 162.84,379.27 163.65,376.86 164.45,374.39 165.26,371.88 166.06,369.33 166.87,366.75 167.67,364.13 168.48,361.50 169.29,358.85 170.09,356.19 170.90,353.53 171.70,350.88 172.51,348.23 173.32,345.60 174.12,343.00 174.93,340.42 175.73,337.88 176.54,335.38 177.34,332.93 178.15,330.52 178.96,328.17 179.76,325.88 180.57,323.66 181.37,321.49 182.18,319.40 182.99,317.37 183.79,315.41 184.60,313.52 185.40,311.71 186.21,309.97 187.01,308.30 187.82,306.70 188.63,305.17 189.43,303.71 190.24,302.32 191.04,301.00 191.85,299.74 192.66,298.55 193.46,297.42 194.27,296.34 195.07,295.33 195.88,294.37 196.68,293.46 197.49,292.60 198.30,291.80 199.10,291.04 199.91,290.32 200.71,289.64 201.52,289.01 202.32,288.41 203.13,287.85 203.94,287.32 204.74,286.83 205.55,286.37 206.35,285.93 207.16,285.52 207.97,285.14 208.77,284.78 209.58,284.45 210.38,284.13 211.19,283.84 211.99,283.57 212.80,283.31 213.61,283.07 214.41,282.84 215.22,282.63 216.02,282.44 216.83,282.26 217.64,282.08 218.44,281.92 219.25,281.77 220.05,281.64 220.86,281.51 221.66,281.38 222.47,281.27 223.28,281.16 224.08,281.07 224.89,280.97 225.69,280.89 226.50,280.81 227.31,280.73 228.11,280.66 228.92,280.60 229.72,280.54 230.53,280.48 231.33,280.43 232.14,280.38 232.95,280.33 233.75,280.29 234.56,280.25 235.36,280.21 236.17,280.18 236.98,280.14 237.78,280.11 238.59,280.09 239.39,280.06 240.20,280.04 241.00,280.01 241.81,279.99 242.62,279.97 243.42,279.95 244.23,279.94 245.03,279.92 245.84,279.91 246.64,279.89 247.45,279.88 248.26,279.87 249.06,279.85 249.87,279.84 250.67,279.83 251.48,279.83 252.29,279.82 253.09,279.81 253.90,279.80 254.70,279.79 255.51,279.79 256.31,279.78 257.12,279.78 257.93,279.77 258.73,279.77 259.54,279.76 260.34,279.76 261.15,279.75 261.96,279.75 262.76,279.75 263.57,279.74 264.37,279.74 265.18,279.74 265.98,279.74 266.79,279.73 267.60,279.73 268.40,279.73 269.21,279.73 270.01,279.72 270.82,279.72 271.63,279.72 272.43,279.72 273.24,279.72 274.04,279.72 274.85,279.72 275.65,279.72 276.46,279.71 277.27,279.71 278.07,279.71 278.88,279.71 279.68,279.71 280.49,279.71 281.30,279.71 282.10,279.71 282.91,279.71 283.71,279.71 284.52,279.71 285.32,279.71 286.13,279.71 286.94,279.71 287.74,279.71 288.55,279.70 289.35,279.70 290.16,279.70 290.97,279.70 291.77,279.70 292.58,279.70 293.38,279.70 294.19,279.70 294.99,279.70 295.80,279.70" fill="none" stroke="#111" stroke-width="1"/>
<polyline points="54.05,429.89 54.86,429.82 55.67,429.75 56.47,429.67 57.28,429.59 58.08,429.50 58.89,429.40 59.69,429.30 60.50,429.19 61.31,429.06 62.11,428.93 62.92,428.79 63.72,428.64 64.53,428.47 65.34,428.29 66.14,428.10 66.95,427.89 67.75,427.67 68.56,427.42 69.36,427.16 70.17,426.88 70.98,426.58 71.78,426.25 72.59,425.90 73.39,425.52 74.20,425.11 75.01,424.68 75.81,424.21 76.62,423.70 77.42,423.16 78.23,422.58 79.03,421.95 79.84,421.28 80.65,420.56 81.45,419.80 82.26,418.98 83.06,418.10 83.87,417.16 84.68,416.17 85.48,415.10 86.29,413.97 87.09,412.77 87.90,411.49 88.70,410.14 89.51,408.70 90.32,407.19 91.12,405.59 91.93,403.90 92.73,402.13 93.54,400.27 94.35,398.31 95.15,396.27 95.96,394.14 96.76,391.93 97.57,389.62 98.37,387.24 99.18,384.77 99.99,382.22 100.79,379.61 101.60,376.92 102.40,374.18 103.21,371.38 104.01,368.53 104.82,365.64 105.63,362.72 106.43,359.78 107.24,356.82 108.04,353.86 108.85,350.90 109.66,347.96 110.46,345.04 111.27,342.15 112.07,339.30 112.88,336.49 113.68,333.74 114.49,331.05 115.30,328.42 116.10,325.87 116.91,323.40 117.71,321.00 118.52,318.69 119.33,316.46 120.13,314.33 120.94,312.28 121.74,310.32 122.55,308.45 123.35,306.67 124.16,304.97 124.97,303.36 125.77,301.84 126.58,300.40 127.38,299.04 128.19,297.75 129.00,296.54 129.80,295.40 130.61,294.33 131.41,293.33 132.22,292.39 133.02,291.51 133.83,290.68 134.64,289.91 135.44,289.19 136.25,288.51 137.05,287.88 137.86,287.30 138.67,286.75 139.47,286.24 140.28,285.77 141.08,285.33 141.89,284.92 142.69,284.54 143.50,284.18 144.31,283.85 145.11,283.55 145.92,283.26 146.72,283.00 147.53,282.76 148.33,282.53 149.14,282.32 149.95,282.13 150.75,281.95 151.56,281.78 152.36,281.62 153.17,281.48 153.98,281.35 154.78,281.22 155.59,281.11 156.39,281.01 157.20,280.91 158.00,280.82 158.81,280.73 159.62,280.66 160.42,280.58 161.23,280.52 162.03,280.46 162.84,280.40 163.65,280.35 164.45,280.30 165.26,280.25 166.06,280.21 166.87,280.17 167.67,280.14 168.48,280.10 169.29,280.07 170.09,280.05 170.90,280.02 171.70,280.00 172.51,279.97 173.32,279.95 174.12,279.93 174.93,279.92 175.73,279.90 176.54,279.88 177.34,279.87 178.15,279.86 178.96,279.85 179.76,279.84 180.57,279.83 181.37,279.82 182.18,279.81 182.99,279.80 183.79,279.79 184.60,279.78 185.40,279.78 186.21,279.77 187.01,279.77 187.82,279.76 188.63,279.76 189.43,279.75 190.24,279.75 191.04,279.75 191.85,279.74 192.66,279.74 193.46,279.74 194.27,279.73 195.07,279.73 195.88,279.73 196.68,279.73 197.49,279.72 198.30,279.72 199.10,279.72 199.91,279.72 200.71,279.72 201.52,279.72 202.32,279.72 203.13,279.71 203.94,279.71 204.74,279.71 205.55,279.71 206.35,279.71 207.16,279.71 207.97,279.71 208.77,279.71 209.58,279.71 210.38,279.71 211.19,279.71 211.99,279.71 212.80,279.71 213.61,279.71 214.41,279.70 215.22,279.70 216.02,279.70 216.83,279.70 217.64,279.70 218.44,279.70 219.25,279.70 220.05,279.70 220.86,279.70 221.66,279.70 222.47,279.70 223.28,279.70 224.08,279.70 224.89,279.70 225.69,279.70 226.50,279.70 227.31,279.70 228.11,279.70 228.92,279.70 229.72,279.70 230.53,279.70 231.33,279.70 232.14,279.70 232.95,279.70 233.75,279.70 234.56,279.70 235.36,279.70 236.17,279.70 236.98,279.70 237.78,279.70 238.59,279.70 239.39,279.70 240.20,279.70 241.00,279.70 241.81,279.70 242.62,279.70 243.42,279.70 244.23,279.70 245.03,279.70 245.84,279.70 246.64,279.70 247.45,279.70 248.26,279.70 249.06,279.70 249.87,279.70 250.67,279.70 251.48,279.70 252.29,279.70 253.09,279.70 253.90,279.70 254.70,279.70 255.51,279.70 256.31,279.70 257.12,279.70 257.93,279.70 258.73,279.70 259.54,279.70 260.34,279.70 261.15,279.70 261.96,279.70 262.76,279.70 263.57,279.70 264.37,279.70 265.18,279.70 265.98,279.70 266.79,279.70 267.60,279.70 268.40,279.70 269.21,279.70 270.01,279.70 270.82,279.70 271.63,279.70 272.43,279.70 273.24,279.70 274.04,279.70 274.85,279.70 275.65,279.70 276.46,279.70 277.27,279.70 278.07,279.70 278.88,279.70 279.68,279.70 280.49,279.70 281.30,279.70 282.10,279.70 282.91,279.70 283.71,279.70 284.52,279.70 285.32,279.70 286.13,279.70 286.94,279.70 287.74,279.70 288.55,279.70 289.35,279.70 290.16,279.70 290.97,279.70 291.77,279.70 292.58,279.70 293.38,279.70 294.19,279.70 294.99,279.70 295.80,279.70" fill="none" stroke="#ec4a4a" stroke-width="1"/>
<polyline points="54.05,428.19 54.86,428.00 55.67,427.80 56.47,427.59 57.28,427.36 58.08,427.11 58.89,426.85 59.69,426.56 60.50,426.26 61.31,425.94 62.11,425.59 62.92,425.22 63.72,424.82 64.53,424.40 65.34,423.94 66.14,423.46 66.95,422.94 67.75,422.38 68.56,421.79 69.36,421.16 70.17,420.49 70.98,419.78 71.78,419.02 72.59,418.21 73.39,417.35 74.20,416.44 75.01,415.47 75.81,414.44 76.62,413.36 77.42,412.21 78.23,410.99 79.03,409.71 79.84,408.36 80.65,406.94 81.45,405.45 82.26,403.88 83.06,402.24 83.87,400.52 84.68,398.72 85.48,396.85 86.29,394.90 87.09,392.88 87.90,390.78 88.70,388.60 89.51,386.36 90.32,384.05 91.12,381.67 91.93,379.23 92.73,376.73 93.54,374.19 94.35,371.59 95.15,368.95 95.96,366.28 96.76,363.58 97.57,360.86 98.37,358.12 99.18,355.37 99.99,352.63 100.79,349.89 101.60,347.16 102.40,344.46 103.21,341.78 104.01,339.14 104.82,336.54 105.63,333.99 106.43,331.48 107.24,329.04 108.04,326.65 108.85,324.33 109.66,322.08 110.46,319.89 111.27,317.78 112.07,315.75 112.88,313.79 113.68,311.91 114.49,310.10 115.30,308.37 116.10,306.72 116.91,305.15 117.71,303.64 118.52,302.21 119.33,300.85 120.13,299.57 120.94,298.34 121.74,297.19 122.55,296.09 123.35,295.06 124.16,294.08 124.97,293.16 125.77,292.30 126.58,291.48 127.38,290.72 128.19,290.00 129.00,289.32 129.80,288.68 130.61,288.09 131.41,287.53 132.22,287.01 133.02,286.52 133.83,286.06 134.64,285.63 135.44,285.23 136.25,284.86 137.05,284.51 137.86,284.18 138.67,283.87 139.47,283.59 140.28,283.32 141.08,283.07 141.89,282.84 142.69,282.62 143.50,282.42 144.31,282.24 145.11,282.06 145.92,281.90 146.72,281.74 147.53,281.60 148.33,281.47 149.14,281.35 149.95,281.23 150.75,281.13 151.56,281.03 152.36,280.94 153.17,280.85 153.98,280.77 154.78,280.69 155.59,280.63 156.39,280.56 157.20,280.50 158.00,280.44 158.81,280.39 159.62,280.34 160.42,280.30 161.23,280.26 162.03,280.22 162.84,280.18 163.65,280.15 164.45,280.12 165.26,280.09 166.06,280.06 166.87,280.04 167.67,280.01 168.48,279.99 169.29,279.97 170.09,279.95 170.90,279.93 171.70,279.92 172.51,279.90 173.32,279.89 174.12,279.87 174.93,279.86 175.73,279.85 176.54,279.84 177.34,279.83 178.15,279.82 178.96,279.81 179.76,279.80 180.57,279.80 181.37,279.79 182.18,279.78 182.99,279.78 183.79,279.77 184.60,279.77 185.40,279.76 186.21,279.76 187.01,279.75 187.82,279.75 188.63,279.75 189.43,279.74 190.24,279.74 191.04,279.74 191.85,279.74 192.66,279.73 193.46,279.73 194.27,279.73 195.07,279.73 195.88,279.72 196.68,279.72 197.49,279.72 198.30,279.72 199.10,279.72 199.91,279.72 200.71,279.72 201.52,279.71 202.32,279.71 203.13,279.71 203.94,279.71 204.74,279.71 205.55,279.71 206.35,279.71 207.16,279.71 207.97,279.71 208.77,279.71 209.58,279.71 210.38,279.71 211.19,279.71 211.99,279.71 212.80,279.71 213.61,279.70 214.41,279.70 215.22,279.70 216.02,279.70 216.83,279.70 217.64,279.70 218.44,279.70 219.25,279.70 220.05,279.70 220.86,279.70 221.66,279.70 222.47,279.70 223.28,279.70 224.08,279.70 224.89,279.70 225.69,279.70 226.50,279.70 227.31,279.70 228.11,279.70 228.92,279.70 229.72,279.70 230.53,279.70 231.33,279.70 232.14,279.70 232.95,279.70 233.75,279.70 234.56,279.70 235.36,279.70 236.17,279.70 236.98,279.70 237.78,279.70 238.59,279.70 239.39,279.70 240.20,279.70 241.00,279.70 241.81,279.70 242.62,279.70 243.42,279.70 244.23,279.70 245.03,279.70 245.84,279.70 246.64,279.70 247.45,279.70 248.26,279.70 249.06,279.70 249.87,279.70 250.67,279.70 251.48,279.70 252.29,279.70 253.09,279.70 253.90,279.70 254.70,279.70 255.51,279.70 256.31,279.70 257.12,279.70 257.93,279.70 258.73,279.70 259.54,279.70 260.34,279.70 261.15,279.70 261.96,279.70 262.76,279.70 263.57,279.70 264.37,279.70 265.18,279.70 265.98,279.70 266.79,279.70 267.60,279.70 268.40,279.70 269.21,279.70 270.01,279.70 270.82,279.70 271.63,279.70 272.43,279.70 273.24,279.70 274.04,279.70 274.85,279.70 275.65,279.70 276.46,279.70 277.27,279.70 278.07,279.70 278.88,279.70 279.68,279.70 280.49,279.70 281.30,279.70 282.10,279.70 282.91,279.70 283.71,279.70 284.52,279.70 285.32,279.70 286.13,279.70 286.94,279.70 287.74,279.70 288.55,279.70 289.35,279.70 290.16,279.70 290.97,279.70 291.77,279.70 292.58,279.70 293.38,279.70 294.19,279.70 294.99,279.70 295.80,279.70" fill="none" stroke="#44d444" stroke-width="1"/>
<polyline points="54.05,430.62 54.86,430.61 55.67,430.61 56.47,430.60 57.28,430.60 58.08,430.59 58.89,430.58 59.69,430.58 60.50,430.57 61.31,430.56 62.11,430.55 62.92,430.54 63.72,430.53 64.53,430.52 65.34,430.51 66.14,430.50 66.95,430.49 67.75,430.48 68.56,430.46 69.36,430.45 70.17,430.44 70.98,430.42 71.78,430.40 72.59,430.39 73.39,430.37 74.20,430.35 75.01,430.33 75.81,430.30 76.62,430.28 77.42,430.26 78.23,430.23 79.03,430.20 79.84,430.17 80.65,430.14 81.45,430.11 82.26,430.07 83.06,430.03 83.87,429.99 84.68,429.95 85.48,429.91 86.29,429.86 87.09,429.81 87.90,429.76 88.70,429.70 89.51,429.64 90.32,429.58 91.12,429.52 91.93,429.45 92.73,429.37 93.54,429.29 94.35,429.21 95.15,429.12 95.96,429.03 96.76,428.93 97.57,428.82 98.37,428.71 99.18,428.60 99.99,428.47 100.79,428.34 101.60,428.20 102.40,428.06 103.21,427.90 104.01,427.74 104.82,427.57 105.63,427.38 106.43,427.19 107.24,426.99 108.04,426.77 108.85,426.54 109.66,426.30 110.46,426.05 111.27,425.78 112.07,425.49 112.88,425.19 113.68,424.88 114.49,424.54 115.30,424.19 116.10,423.82 116.91,423.43 117.71,423.02 118.52,422.59 119.33,422.13 120.13,421.65 120.94,421.14 121.74,420.61 122.55,420.05 123.35,419.46 124.16,418.84 124.97,418.19 125.77,417.51 126.58,416.80 127.38,416.05 128.19,415.26 129.00,414.44 129.80,413.58 130.61,412.68 131.41,411.74 132.22,410.76 133.02,409.73 133.83,408.66 134.64,407.55 135.44,406.39 136.25,405.18 137.05,403.93 137.86,402.63 138.67,401.28 139.47,399.88 140.28,398.43 141.08,396.94 141.89,395.39 142.69,393.80 143.50,392.16 144.31,390.47 145.11,388.74 145.92,386.96 146.72,385.14 147.53,383.27 148.33,381.36 149.14,379.42 149.95,377.44 150.75,375.42 151.56,373.38 152.36,371.30 153.17,369.20 153.98,367.07 154.78,364.93 155.59,362.77 156.39,360.60 157.20,358.41 158.00,356.23 158.81,354.04 159.62,351.85 160.42,349.67 161.23,347.50 162.03,345.34 162.84,343.20 163.65,341.07 164.45,338.97 165.26,336.90 166.06,334.85 166.87,332.84 167.67,330.86 168.48,328.92 169.29,327.01 170.09,325.15 170.90,323.33 171.70,321.55 172.51,319.82 173.32,318.14 174.12,316.50 174.93,314.91 175.73,313.37 176.54,311.88 177.34,310.43 178.15,309.04 178.96,307.69 179.76,306.39 180.57,305.14 181.37,303.94 182.18,302.78 182.99,301.67 183.79,300.61 184.60,299.58 185.40,298.60 186.21,297.66 187.01,296.77 187.82,295.91 188.63,295.09 189.43,294.31 190.24,293.56 191.04,292.85 191.85,292.17 192.66,291.52 193.46,290.90 194.27,290.32 195.07,289.76 195.88,289.23 196.68,288.72 197.49,288.24 198.30,287.79 199.10,287.35 199.91,286.94 200.71,286.55 201.52,286.19 202.32,285.83 203.13,285.50 203.94,285.19 204.74,284.89 205.55,284.61 206.35,284.34 207.16,284.08 207.97,283.84 208.77,283.62 209.58,283.40 210.38,283.20 211.19,283.01 211.99,282.82 212.80,282.65 213.61,282.49 214.41,282.33 215.22,282.19 216.02,282.05 216.83,281.92 217.64,281.80 218.44,281.68 219.25,281.57 220.05,281.46 220.86,281.37 221.66,281.27 222.47,281.19 223.28,281.10 224.08,281.02 224.89,280.95 225.69,280.88 226.50,280.81 227.31,280.75 228.11,280.69 228.92,280.64 229.72,280.59 230.53,280.54 231.33,280.49 232.14,280.44 232.95,280.40 233.75,280.36 234.56,280.33 235.36,280.29 236.17,280.26 236.98,280.23 237.78,280.20 238.59,280.17 239.39,280.14 240.20,280.12 241.00,280.09 241.81,280.07 242.62,280.05 243.42,280.03 244.23,280.01 245.03,280.00 245.84,279.98 246.64,279.96 247.45,279.95 248.26,279.93 249.06,279.92 249.87,279.91 250.67,279.90 251.48,279.89 252.29,279.88 253.09,279.87 253.90,279.86 254.70,279.85 255.51,279.84 256.31,279.83 257.12,279.82 257.93,279.82 258.73,279.81 259.54,279.80 260.34,279.80 261.15,279.79 261.96,279.79 262.76,279.78 263.57,279.78 264.37,279.77 265.18,279.77 265.98,279.77 266.79,279.76 267.60,279.76 268.40,279.76 269.21,279.75 270.01,279.75 270.82,279.75 271.63,279.74 272.43,279.74 273.24,279.74 274.04,279.74 274.85,279.73 275.65,279.73 276.46,279.73 277.27,279.73 278.07,279.73 278.88,279.73 279.68,279.72 280.49,279.72 281.30,279.72 282.10,279.72 282.91,279.72 283.71,279.72 284.52,279.72 285.32,279.72 286.13,279.72 286.94,279.71 287.74,279.71 288.55,279.71 289.35,279.71 290.16,279.71 290.97,279.71 291.77,279.71 292.58,279.71 293.38,279.71 294.19,279.71 294.99,279.71 295.80,279.71" fill="none" stroke="#2222e0" stroke-width="1"/>
<line x1="75.56" y1="393.86" x2="75.56" y2="415.00" stroke="#80dd80" stroke-width="0.7"/>
<line x1="73.76" y1="393.86" x2="77.36" y2="393.86" stroke="#80dd80" stroke-width="0.7"/>
<line x1="73.76" y1="415.00" x2="77.36" y2="415.00" stroke="#80dd80" stroke-width="0.7"/>
<polygon points="75.56,401.63 78.22,406.39 72.90,406.39" fill="none" stroke="#80dd80" stroke-width="0.7"/>
<line x1="100.13" y1="343.57" x2="100.13" y2="367.73" stroke="#80dd80" stroke-width="0.7"/>
<line x1="98.33" y1="343.57" x2="101.93" y2="343.57" stroke="#80dd80" stroke-width="0.7"/>
<line x1="98.33" y1="367.73" x2="101.93" y2="367.73" stroke="#80dd80" stroke-width="0.7"/>
<polygon points="100.13,352.85 102.79,357.61 97.47,357.61" fill="none" stroke="#80dd80" stroke-width="0.7"/>
<line x1="114.50" y1="299.03" x2="114.50" y2="320.17" stroke="#80dd80" stroke-width="0.7"/>
<line x1="112.70" y1="299.03" x2="116.30" y2="299.03" stroke="#80dd80" stroke-width="0.7"/>
<line x1="112.70" y1="320.17" x2="116.30" y2="320.17" stroke="#80dd80" stroke-width="0.7"/>
<polygon points="114.50,306.80 117.16,311.56 111.84,311.56" fill="none" stroke="#80dd80" stroke-width="0.7"/>
<line x1="124.69" y1="283.17" x2="124.69" y2="295.25" stroke="#80dd80" stroke-width="0.7"/>
<line x1="122.89" y1="283.17" x2="126.49" y2="283.17" stroke="#80dd80" stroke-width="0.7"/>
<line x1="122.89" y1="295.25" x2="126.49" y2="295.25" stroke="#80dd80" stroke-width="0.7"/>
<polygon points="124.69,286.41 127.35,291.17 122.03,291.17" fill="none" stroke="#80dd80" stroke-width="0.7"/>
<line x1="132.60" y1="273.96" x2="132.60" y2="283.02" stroke="#80dd80" stroke-width="0.7"/>
<line x1="130.80" y1="273.96" x2="134.40" y2="273.96" stroke="#80dd80" stroke-width="0.7"/>
<line x1="130.80" y1="283.02" x2="134.40" y2="283.02" stroke="#80dd80" stroke-width="0.7"/>
<polygon points="132.60,275.69 135.26,280.45 129.94,280.45" fill="none" stroke="#80dd80" stroke-width="0.7"/>
<line x1="157.16" y1="274.87" x2="157.16" y2="280.91" stroke="#80dd80" stroke-width="0.7"/>
<line x1="155.36" y1="274.87" x2="158.96" y2="274.87" stroke="#80dd80" stroke-width="0.7"/>
<line x1="155.36" y1="280.91" x2="158.96" y2="280.91" stroke="#80dd80" stroke-width="0.7"/>
<polygon points="157.16,275.09 159.82,279.85 154.50,279.85" fill="none" stroke="#80dd80" stroke-width="0.7"/>
<line x1="75.56" y1="418.17" x2="75.56" y2="422.70" stroke="#ee7070" stroke-width="0.7"/>
<line x1="73.76" y1="418.17" x2="77.36" y2="418.17" stroke="#ee7070" stroke-width="0.7"/>
<line x1="73.76" y1="422.70" x2="77.36" y2="422.70" stroke="#ee7070" stroke-width="0.7"/>
<circle cx="75.56" cy="420.43" r="2.30" fill="none" stroke="#ee7070" stroke-width="0.7"/>
<line x1="100.13" y1="378.61" x2="100.13" y2="386.15" stroke="#ee7070" stroke-width="0.7"/>
<line x1="98.33" y1="378.61" x2="101.93" y2="378.61" stroke="#ee7070" stroke-width="0.7"/>
<line x1="98.33" y1="386.15" x2="101.93" y2="386.15" stroke="#ee7070" stroke-width="0.7"/>
<circle cx="100.13" cy="382.38" r="2.30" fill="none" stroke="#ee7070" stroke-width="0.7"/>
<line x1="114.50" y1="328.77" x2="114.50" y2="346.89" stroke="#ee7070" stroke-width="0.7"/>
<line x1="112.70" y1="328.77" x2="116.30" y2="328.77" stroke="#ee7070" stroke-width="0.7"/>
<line x1="112.70" y1="346.89" x2="116.30" y2="346.89" stroke="#ee7070" stroke-width="0.7"/>
<circle cx="114.50" cy="337.83" r="2.30" fill="none" stroke="#ee7070" stroke-width="0.7"/>
<line x1="124.69" y1="292.99" x2="124.69" y2="299.03" stroke="#ee7070" stroke-width="0.7"/>
<line x1="122.89" y1="292.99" x2="126.49" y2="292.99" stroke="#ee7070" stroke-width="0.7"/>
<line x1="122.89" y1="299.03" x2="126.49" y2="299.03" stroke="#ee7070" stroke-width="0.7"/>
<circle cx="124.69" cy="296.01" r="2.30" fill="none" stroke="#ee7070" stroke-width="0.7"/>
<line x1="132.60" y1="282.57" x2="132.60" y2="287.10" stroke="#ee7070" stroke-width="0.7"/>
<line x1="130.80" y1="282.57" x2="134.40" y2="282.57" stroke="#ee7070" stroke-width="0.7"/>
<line x1="130.80" y1="287.10" x2="134.40" y2="287.10" stroke="#ee7070" stroke-width="0.7"/>
<circle cx="132.60" cy="284.83" r="2.30" fill="none" stroke="#ee7070" stroke-width="0.7"/>
<line x1="157.16" y1="278.19" x2="157.16" y2="282.72" stroke="#ee7070" stroke-width="0.7"/>
<line x1="155.36" y1="278.19" x2="158.96" y2="278.19" stroke="#ee7070" stroke-width="0.7"/>
<line x1="155.36" y1="282.72" x2="158.96" y2="282.72" stroke="#ee7070" stroke-width="0.7"/>
<circle cx="157.16" cy="280.45" r="2.30" fill="none" stroke="#ee7070" stroke-width="0.7"/>
<line x1="171.53" y1="278.49" x2="171.53" y2="281.51" stroke="#ee7070" stroke-width="0.7"/>
<line x1="169.73" y1="278.49" x2="173.33" y2="278.49" stroke="#ee7070" stroke-width="0.7"/>
<line x1="169.73" y1="281.51" x2="173.33" y2="281.51" stroke="#ee7070" stroke-width="0.7"/>
<circle cx="171.53" cy="280.00" r="2.30" fill="none" stroke="#ee7070" stroke-width="0.7"/>
<line x1="100.13" y1="424.96" x2="100.13" y2="429.49" stroke="#1515e0" stroke-width="0.7"/>
<line x1="98.33" y1="424.96" x2="101.93" y2="424.96" stroke="#1515e0" stroke-width="0.7"/>
<line x1="98.33" y1="429.49" x2="101.93" y2="429.49" stroke="#1515e0" stroke-width="0.7"/>
<polygon points="100.13,430.03 102.79,425.27 97.47,425.27" fill="#1515e0"/>
<line x1="114.50" y1="428.44" x2="114.50" y2="431.45" stroke="#1515e0" stroke-width="0.7"/>
<line x1="112.70" y1="428.44" x2="116.30" y2="428.44" stroke="#1515e0" stroke-width="0.7"/>
<line x1="112.70" y1="431.45" x2="116.30" y2="431.45" stroke="#1515e0" stroke-width="0.7"/>
<polygon points="114.50,432.75 117.16,427.99 111.84,427.99" fill="#1515e0"/>
<line x1="124.69" y1="424.96" x2="124.69" y2="429.49" stroke="#1515e0" stroke-width="0.7"/>
<line x1="122.89" y1="424.96" x2="126.49" y2="424.96" stroke="#1515e0" stroke-width="0.7"/>
<line x1="122.89" y1="429.49" x2="126.49" y2="429.49" stroke="#1515e0" stroke-width="0.7"/>
<polygon points="124.69,430.03 127.35,425.27 122.03,425.27" fill="#1515e0"/>
<line x1="132.60" y1="402.01" x2="132.60" y2="408.05" stroke="#1515e0" stroke-width="0.7"/>
<line x1="130.80" y1="402.01" x2="134.40" y2="402.01" stroke="#1515e0" stroke-width="0.7"/>
<line x1="130.80" y1="408.05" x2="134.40" y2="408.05" stroke="#1515e0" stroke-width="0.7"/>
<polygon points="132.60,407.83 135.26,403.07 129.94,403.07" fill="#1515e0"/>
<line x1="157.16" y1="356.11" x2="157.16" y2="371.21" stroke="#1515e0" stroke-width="0.7"/>
<line x1="155.36" y1="356.11" x2="158.96" y2="356.11" stroke="#1515e0" stroke-width="0.7"/>
<line x1="155.36" y1="371.21" x2="158.96" y2="371.21" stroke="#1515e0" stroke-width="0.7"/>
<polygon points="157.16,366.46 159.82,361.70 154.50,361.70" fill="#1515e0"/>
<line x1="171.53" y1="306.43" x2="171.53" y2="318.51" stroke="#1515e0" stroke-width="0.7"/>
<line x1="169.73" y1="306.43" x2="173.33" y2="306.43" stroke="#1515e0" stroke-width="0.7"/>
<line x1="169.73" y1="318.51" x2="173.33" y2="318.51" stroke="#1515e0" stroke-width="0.7"/>
<polygon points="171.53,315.27 174.19,310.51 168.87,310.51" fill="#1515e0"/>
<line x1="189.64" y1="292.08" x2="189.64" y2="301.14" stroke="#1515e0" stroke-width="0.7"/>
<line x1="187.84" y1="292.08" x2="191.44" y2="292.08" stroke="#1515e0" stroke-width="0.7"/>
<line x1="187.84" y1="301.14" x2="191.44" y2="301.14" stroke="#1515e0" stroke-width="0.7"/>
<polygon points="189.64,299.41 192.30,294.65 186.98,294.65" fill="#1515e0"/>
<line x1="214.20" y1="278.19" x2="214.20" y2="281.21" stroke="#1515e0" stroke-width="0.7"/>
<line x1="212.40" y1="278.19" x2="216.00" y2="278.19" stroke="#1515e0" stroke-width="0.7"/>
<line x1="212.40" y1="281.21" x2="216.00" y2="281.21" stroke="#1515e0" stroke-width="0.7"/>
<polygon points="214.20,282.50 216.86,277.74 211.54,277.74" fill="#1515e0"/>
<polygon points="295.80,282.50 298.46,277.74 293.14,277.74" fill="#1515e0"/>
<rect x="112.60" y="428.80" width="3.80" height="3.80" fill="#000"/>
<line x1="132.60" y1="426.17" x2="132.60" y2="433.72" stroke="#000" stroke-width="0.7"/>
<line x1="130.80" y1="426.17" x2="134.40" y2="426.17" stroke="#000" stroke-width="0.7"/>
<line x1="130.80" y1="433.72" x2="134.40" y2="433.72" stroke="#000" stroke-width="0.7"/>
<rect x="130.70" y="428.05" width="3.80" height="3.80" fill="#000"/>
<line x1="157.16" y1="390.23" x2="157.16" y2="399.29" stroke="#000" stroke-width="0.7"/>
<line x1="155.36" y1="390.23" x2="158.96" y2="390.23" stroke="#000" stroke-width="0.7"/>
<line x1="155.36" y1="399.29" x2="158.96" y2="399.29" stroke="#000" stroke-width="0.7"/>
<rect x="155.26" y="392.86" width="3.80" height="3.80" fill="#000"/>
<line x1="171.53" y1="346.74" x2="171.53" y2="358.82" stroke="#000" stroke-width="0.7"/>
<line x1="169.73" y1="346.74" x2="173.33" y2="346.74" stroke="#000" stroke-width="0.7"/>
<line x1="169.73" y1="358.82" x2="173.33" y2="358.82" stroke="#000" stroke-width="0.7"/>
<rect x="169.63" y="350.88" width="3.80" height="3.80" fill="#000"/>
<line x1="189.64" y1="284.53" x2="189.64" y2="296.61" stroke="#000" stroke-width="0.7"/>
<line x1="187.84" y1="284.53" x2="191.44" y2="284.53" stroke="#000" stroke-width="0.7"/>
<line x1="187.84" y1="296.61" x2="191.44" y2="296.61" stroke="#000" stroke-width="0.7"/>
<rect x="187.74" y="288.67" width="3.80" height="3.80" fill="#000"/>
<line x1="214.20" y1="271.39" x2="214.20" y2="278.94" stroke="#000" stroke-width="0.7"/>
<line x1="212.40" y1="271.39" x2="216.00" y2="271.39" stroke="#000" stroke-width="0.7"/>
<line x1="212.40" y1="278.94" x2="216.00" y2="278.94" stroke="#000" stroke-width="0.7"/>
<rect x="212.30" y="273.27" width="3.80" height="3.80" fill="#000"/>
<line x1="238.76" y1="265.96" x2="238.76" y2="273.51" stroke="#000" stroke-width="0.7"/>
<line x1="236.96" y1="265.96" x2="240.56" y2="265.96" stroke="#000" stroke-width="0.7"/>
<line x1="236.96" y1="273.51" x2="240.56" y2="273.51" stroke="#000" stroke-width="0.7"/>
<rect x="236.86" y="267.83" width="3.80" height="3.80" fill="#000"/>
<rect x="293.90" y="277.80" width="3.80" height="3.80" fill="#000"/>
<rect x="163.4" y="388" width="142.1" height="55.6" fill="#fff" stroke="#888" stroke-width="1"/>
<rect x="174.41" y="393.81" width="3.99" height="3.99" fill="#000"/>
<text x="193.00" y="400.00" font-size="11.4" text-anchor="start" font-weight="normal" fill="#111" >SK2-a-WT</text>
<circle cx="176.40" cy="409.20" r="2.42" fill="none" stroke="#ee7070" stroke-width="0.7"/>
<text x="193.00" y="413.40" font-size="11.4" text-anchor="start" font-weight="normal" fill="#111" >SK2-a-V407F</text>
<polygon points="176.40,419.66 179.19,424.66 173.61,424.66" fill="none" stroke="#80dd80" stroke-width="0.7"/>
<text x="193.00" y="426.80" font-size="11.4" text-anchor="start" font-weight="normal" fill="#111" >SK2-a-V407F-M411F</text>
<polygon points="176.40,438.94 179.19,433.94 173.61,433.94" fill="#1515e0"/>
<text x="193.00" y="440.20" font-size="11.4" text-anchor="start" font-weight="normal" fill="#111" >SK2-a-V407F-M411A</text>
<line x1="389.50" y1="262.60" x2="389.50" y2="448.50" stroke="#222" stroke-width="1.1"/>
<line x1="386.00" y1="448.50" x2="619.40" y2="448.50" stroke="#222" stroke-width="1.2"/>
<line x1="385.50" y1="448.50" x2="389.50" y2="448.50" stroke="#222" stroke-width="1"/>
<text x="383.00" y="453.80" font-size="15" text-anchor="end" font-weight="normal" fill="#111" >0.0</text>
<line x1="385.50" y1="402.04" x2="389.50" y2="402.04" stroke="#222" stroke-width="1"/>
<text x="383.00" y="407.34" font-size="15" text-anchor="end" font-weight="normal" fill="#111" >0.1</text>
<line x1="385.50" y1="355.58" x2="389.50" y2="355.58" stroke="#222" stroke-width="1"/>
<text x="383.00" y="360.88" font-size="15" text-anchor="end" font-weight="normal" fill="#111" >0.2</text>
<line x1="385.50" y1="309.12" x2="389.50" y2="309.12" stroke="#222" stroke-width="1"/>
<text x="383.00" y="314.42" font-size="15" text-anchor="end" font-weight="normal" fill="#111" >0.3</text>
<line x1="385.50" y1="262.66" x2="389.50" y2="262.66" stroke="#222" stroke-width="1"/>
<text x="383.00" y="267.96" font-size="15" text-anchor="end" font-weight="normal" fill="#111" >0.4</text>
<line x1="387.50" y1="425.27" x2="389.50" y2="425.27" stroke="#222" stroke-width="1"/>
<line x1="387.50" y1="378.81" x2="389.50" y2="378.81" stroke="#222" stroke-width="1"/>
<line x1="387.50" y1="332.35" x2="389.50" y2="332.35" stroke="#222" stroke-width="1"/>
<line x1="387.50" y1="285.89" x2="389.50" y2="285.89" stroke="#222" stroke-width="1"/>
<rect x="399.70" y="311.21" width="37.60" height="137.29" fill="#fff" stroke="#111" stroke-width="1.2"/>
<rect x="415.80" y="272.93" width="6.4" height="6.4" rx="2" fill="#8a8a8a"/>
<rect x="419.10" y="289.19" width="6.4" height="6.4" rx="2" fill="#8a8a8a"/>
<rect x="411.40" y="301.74" width="6.4" height="6.4" rx="2" fill="#8a8a8a"/>
<rect x="404.40" y="307.31" width="6.4" height="6.4" rx="2" fill="#8a8a8a"/>
<rect x="411.40" y="311.50" width="6.4" height="6.4" rx="2" fill="#8a8a8a"/>
<rect x="425.80" y="312.89" width="6.4" height="6.4" rx="2" fill="#8a8a8a"/>
<rect x="419.10" y="322.65" width="6.4" height="6.4" rx="2" fill="#8a8a8a"/>
<rect x="415.20" y="344.02" width="6.4" height="6.4" rx="2" fill="#8a8a8a"/>
<line x1="418.50" y1="311.21" x2="418.50" y2="300.29" stroke="#222" stroke-width="1"/>
<line x1="409.70" y1="300.29" x2="427.30" y2="300.29" stroke="#222" stroke-width="1"/>
<rect x="458.00" y="425.27" width="36.60" height="23.23" fill="#fff" stroke="#111" stroke-width="1.2"/>
<rect x="473.10" y="415.10" width="6.4" height="6.4" rx="2" fill="#8a8a8a"/>
<rect x="479.00" y="417.89" width="6.4" height="6.4" rx="2" fill="#8a8a8a"/>
<rect x="467.20" y="420.68" width="6.4" height="6.4" rx="2" fill="#8a8a8a"/>
<rect x="462.30" y="425.79" width="6.4" height="6.4" rx="2" fill="#8a8a8a"/>
<rect x="473.10" y="424.86" width="6.4" height="6.4" rx="2" fill="#8a8a8a"/>
<rect x="483.90" y="425.32" width="6.4" height="6.4" rx="2" fill="#8a8a8a"/>
<rect x="477.80" y="423.00" width="6.4" height="6.4" rx="2" fill="#8a8a8a"/>
<rect x="466.80" y="423.93" width="6.4" height="6.4" rx="2" fill="#8a8a8a"/>
<line x1="476.30" y1="425.27" x2="476.30" y2="422.95" stroke="#222" stroke-width="1"/>
<line x1="467.50" y1="422.95" x2="485.10" y2="422.95" stroke="#222" stroke-width="1"/>
<rect x="515.30" y="429.45" width="37.80" height="19.05" fill="#fff" stroke="#111" stroke-width="1.2"/>
<rect x="528.80" y="412.78" width="6.4" height="6.4" rx="2" fill="#8a8a8a"/>
<rect x="532.60" y="419.28" width="6.4" height="6.4" rx="2" fill="#8a8a8a"/>
<rect x="542.60" y="423.46" width="6.4" height="6.4" rx="2" fill="#8a8a8a"/>
<rect x="522.30" y="429.04" width="6.4" height="6.4" rx="2" fill="#8a8a8a"/>
<rect x="529.20" y="427.65" width="6.4" height="6.4" rx="2" fill="#8a8a8a"/>
<rect x="538.10" y="433.69" width="6.4" height="6.4" rx="2" fill="#8a8a8a"/>
<rect x="518.40" y="436.94" width="6.4" height="6.4" rx="2" fill="#8a8a8a"/>
<rect x="534.10" y="426.72" width="6.4" height="6.4" rx="2" fill="#8a8a8a"/>
<line x1="534.20" y1="429.45" x2="534.20" y2="426.85" stroke="#222" stroke-width="1"/>
<line x1="525.40" y1="426.85" x2="543.00" y2="426.85" stroke="#222" stroke-width="1"/>
<rect x="572.70" y="352.33" width="37.30" height="96.17" fill="#fff" stroke="#111" stroke-width="1.2"/>
<rect x="583.50" y="324.97" width="6.4" height="6.4" rx="2" fill="#8a8a8a"/>
<rect x="593.10" y="328.69" width="6.4" height="6.4" rx="2" fill="#8a8a8a"/>
<rect x="583.50" y="350.52" width="6.4" height="6.4" rx="2" fill="#8a8a8a"/>
<rect x="593.10" y="350.52" width="6.4" height="6.4" rx="2" fill="#8a8a8a"/>
<rect x="579.10" y="363.53" width="6.4" height="6.4" rx="2" fill="#8a8a8a"/>
<rect x="588.70" y="360.74" width="6.4" height="6.4" rx="2" fill="#8a8a8a"/>
<rect x="597.50" y="362.60" width="6.4" height="6.4" rx="2" fill="#8a8a8a"/>
<line x1="591.35" y1="352.33" x2="591.35" y2="343.50" stroke="#222" stroke-width="1"/>
<line x1="582.55" y1="343.50" x2="600.15" y2="343.50" stroke="#222" stroke-width="1"/>
<text transform="translate(352.3,400.8) rotate(-90)" font-size="15.1" fill="#111">EC<tspan font-size="10.5" dy="3.2">50</tspan><tspan dy="-3.2"> for Ca</tspan><tspan font-size="9.5" dy="-6.5">2+</tspan></text>
<text transform="translate(423.60,457.00) rotate(-50)" font-size="11.8" fill="#111" text-anchor="end">SK2-a-WT</text>
<text transform="translate(482.30,455.60) rotate(-50)" font-size="11.8" fill="#111" text-anchor="end">SK2-a-V407F</text>
<text transform="translate(537.10,457.20) rotate(-50)" font-size="11.8" fill="#111" text-anchor="middle"><tspan x="-35.75" y="0">SK2-a-V407F</tspan><tspan x="-35.75" y="14.1">-M411F</tspan></text>
<text transform="translate(601.30,456.00) rotate(-50)" font-size="11.8" fill="#111" text-anchor="middle"><tspan x="-35.75" y="0">SK2-a-V407F</tspan><tspan x="-35.75" y="14.1">-M411A</tspan></text>
<text x="19.30" y="13.80" font-size="17.4" text-anchor="start" font-weight="bold" fill="#000" >a</text>
<text x="344.40" y="13.80" font-size="17.4" text-anchor="start" font-weight="bold" fill="#000" >b</text>
<text x="19.40" y="254.80" font-size="17.4" text-anchor="start" font-weight="bold" fill="#000" >c</text>
<text x="344.30" y="254.50" font-size="17.4" text-anchor="start" font-weight="bold" fill="#000" >d</text>
</svg></body></html>
